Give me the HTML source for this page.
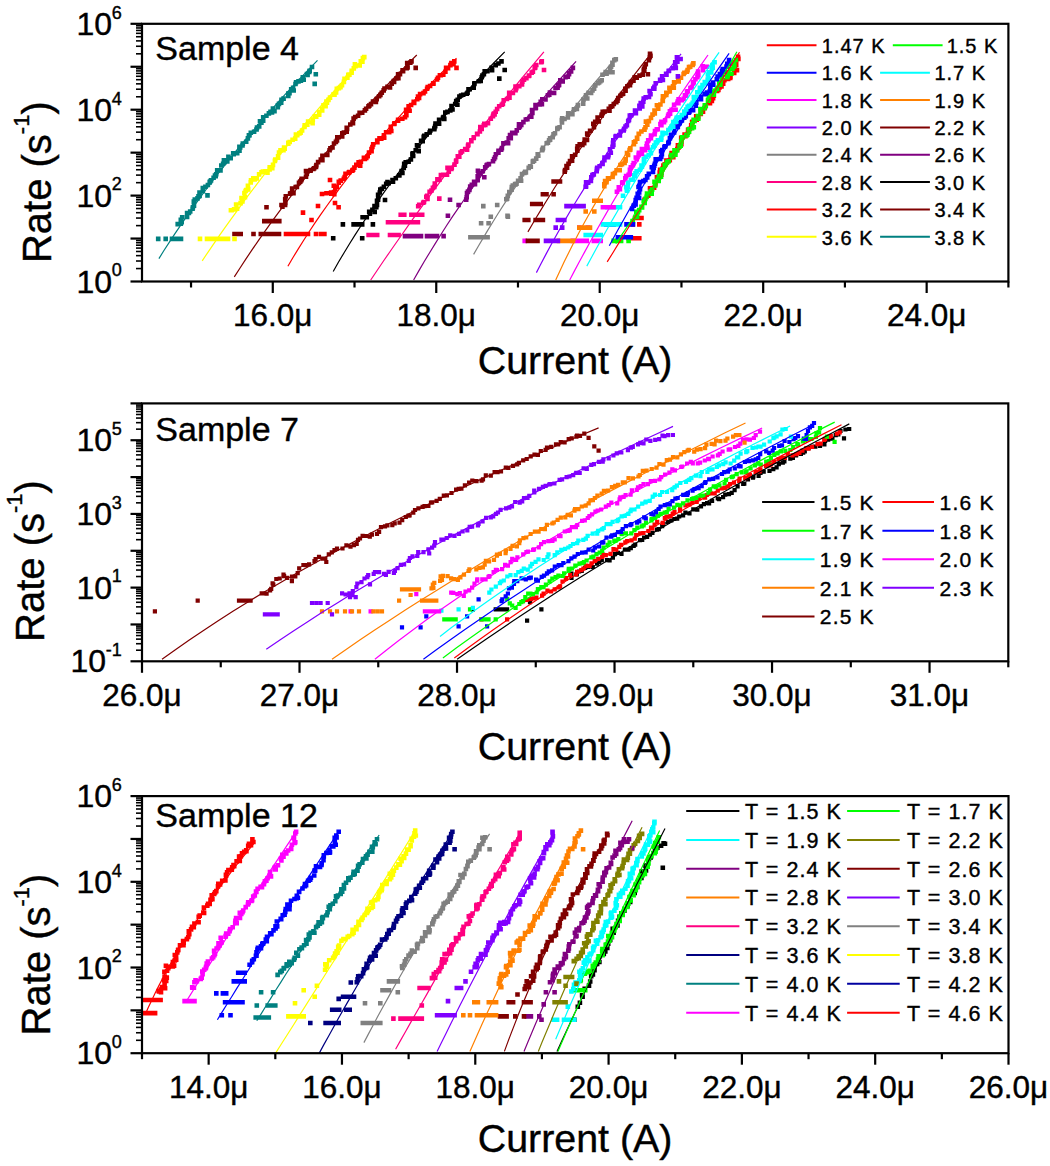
<!DOCTYPE html>
<html><head><meta charset="utf-8"><style>
html,body{margin:0;padding:0;background:#fff;overflow:hidden;}
svg{display:block;font-family:"Liberation Sans",sans-serif;}
text{stroke:#000;stroke-width:0.4px;}
</style></head><body>
<svg width="1050" height="1166" viewBox="0 0 1050 1166" font-family="Liberation Sans, sans-serif">
<defs><clipPath id="cp1"><rect x="142" y="23.8" width="866.4" height="257.7"/></clipPath><clipPath id="cp2"><rect x="142" y="403.4" width="866.3" height="257.9"/></clipPath><clipPath id="cp3"><rect x="142" y="796.1" width="866.5" height="257.1"/></clipPath></defs>
<g clip-path="url(#cp1)"><path d="M642.2 197.6h4.6v4.6h-4.6zM645.9 193.3h4.6v4.6h-4.6zM646.3 191.9h4.6v4.6h-4.6zM648.3 190.9h4.6v4.6h-4.6zM647.7 186.1h4.6v4.6h-4.6zM651.8 185.4h4.6v4.6h-4.6zM652.9 181.7h4.6v4.6h-4.6zM652.9 182.1h4.6v4.6h-4.6zM653.2 180.8h4.6v4.6h-4.6zM656.7 175.4h4.6v4.6h-4.6zM654.6 175.0h4.6v4.6h-4.6zM659.0 172.3h4.6v4.6h-4.6zM657.4 170.3h4.6v4.6h-4.6zM657.8 167.4h4.6v4.6h-4.6zM660.4 166.3h4.6v4.6h-4.6zM661.1 163.2h4.6v4.6h-4.6zM662.5 161.9h4.6v4.6h-4.6zM664.1 158.2h4.6v4.6h-4.6zM667.5 158.0h4.6v4.6h-4.6zM668.3 154.5h4.6v4.6h-4.6zM671.0 154.8h4.6v4.6h-4.6zM669.3 150.7h4.6v4.6h-4.6zM672.8 150.0h4.6v4.6h-4.6zM675.0 146.8h4.6v4.6h-4.6zM676.1 145.5h4.6v4.6h-4.6zM675.6 143.1h4.6v4.6h-4.6zM679.1 141.8h4.6v4.6h-4.6zM679.2 138.8h4.6v4.6h-4.6zM678.9 135.4h4.6v4.6h-4.6zM683.1 133.8h4.6v4.6h-4.6zM682.3 132.2h4.6v4.6h-4.6zM685.6 130.5h4.6v4.6h-4.6zM685.8 127.5h4.6v4.6h-4.6zM687.6 126.6h4.6v4.6h-4.6zM688.9 123.0h4.6v4.6h-4.6zM690.1 119.6h4.6v4.6h-4.6zM689.8 119.9h4.6v4.6h-4.6zM694.4 117.3h4.6v4.6h-4.6zM693.9 114.0h4.6v4.6h-4.6zM695.9 115.0h4.6v4.6h-4.6zM698.5 111.6h4.6v4.6h-4.6zM700.4 108.6h4.6v4.6h-4.6zM700.7 109.3h4.6v4.6h-4.6zM702.5 105.6h4.6v4.6h-4.6zM702.9 103.9h4.6v4.6h-4.6zM706.8 99.9h4.6v4.6h-4.6zM707.7 100.9h4.6v4.6h-4.6zM709.6 98.6h4.6v4.6h-4.6zM710.8 95.8h4.6v4.6h-4.6zM711.5 93.4h4.6v4.6h-4.6zM711.3 93.0h4.6v4.6h-4.6zM714.8 88.6h4.6v4.6h-4.6zM716.1 87.6h4.6v4.6h-4.6zM717.2 85.1h4.6v4.6h-4.6zM719.2 84.1h4.6v4.6h-4.6zM720.9 81.5h4.6v4.6h-4.6zM720.1 78.7h4.6v4.6h-4.6zM722.1 77.9h4.6v4.6h-4.6zM725.9 76.7h4.6v4.6h-4.6zM727.9 75.6h4.6v4.6h-4.6zM728.2 74.6h4.6v4.6h-4.6zM731.9 70.7h4.6v4.6h-4.6zM731.8 69.4h4.6v4.6h-4.6zM734.7 67.8h4.6v4.6h-4.6zM732.7 66.8h4.6v4.6h-4.6zM733.9 62.4h4.6v4.6h-4.6zM733.5 61.7h4.6v4.6h-4.6zM733.9 58.4h4.6v4.6h-4.6zM736.1 56.6h4.6v4.6h-4.6zM735.7 54.4h4.6v4.6h-4.6zM626.3 236.0h4.6v4.6h-4.6zM629.9 236.0h4.6v4.6h-4.6zM633.4 236.0h4.6v4.6h-4.6zM637.0 236.0h4.6v4.6h-4.6zM630.6 222.1h4.6v4.6h-4.6zM637.0 222.1h4.6v4.6h-4.6zM632.7 215.7h4.6v4.6h-4.6zM636.0 215.7h4.6v4.6h-4.6zM639.2 215.7h4.6v4.6h-4.6z" fill="#FF0000"/><path d="M630.3 218.8h4.6v4.6h-4.6zM630.5 219.2h4.6v4.6h-4.6zM633.2 214.6h4.6v4.6h-4.6zM634.8 214.6h4.6v4.6h-4.6zM634.0 209.6h4.6v4.6h-4.6zM635.7 210.0h4.6v4.6h-4.6zM636.9 207.8h4.6v4.6h-4.6zM639.8 205.1h4.6v4.6h-4.6zM639.2 204.5h4.6v4.6h-4.6zM642.4 200.7h4.6v4.6h-4.6zM641.4 199.0h4.6v4.6h-4.6zM643.1 196.6h4.6v4.6h-4.6zM644.3 194.6h4.6v4.6h-4.6zM644.7 191.3h4.6v4.6h-4.6zM649.4 191.3h4.6v4.6h-4.6zM648.5 189.1h4.6v4.6h-4.6zM649.9 187.2h4.6v4.6h-4.6zM652.9 183.2h4.6v4.6h-4.6zM652.2 179.6h4.6v4.6h-4.6zM655.5 177.5h4.6v4.6h-4.6zM656.4 178.7h4.6v4.6h-4.6zM656.6 173.7h4.6v4.6h-4.6zM658.7 174.5h4.6v4.6h-4.6zM659.2 170.6h4.6v4.6h-4.6zM659.5 167.9h4.6v4.6h-4.6zM660.3 166.9h4.6v4.6h-4.6zM662.5 163.0h4.6v4.6h-4.6zM662.7 162.6h4.6v4.6h-4.6zM664.8 159.8h4.6v4.6h-4.6zM666.4 159.0h4.6v4.6h-4.6zM669.9 153.8h4.6v4.6h-4.6zM668.8 152.8h4.6v4.6h-4.6zM673.1 152.3h4.6v4.6h-4.6zM672.2 148.1h4.6v4.6h-4.6zM674.8 148.2h4.6v4.6h-4.6zM677.2 144.3h4.6v4.6h-4.6zM678.4 143.4h4.6v4.6h-4.6zM678.4 142.3h4.6v4.6h-4.6zM678.9 139.3h4.6v4.6h-4.6zM679.8 135.1h4.6v4.6h-4.6zM684.2 133.1h4.6v4.6h-4.6zM685.1 132.4h4.6v4.6h-4.6zM686.8 129.4h4.6v4.6h-4.6zM686.5 127.0h4.6v4.6h-4.6zM689.8 126.0h4.6v4.6h-4.6zM691.5 124.9h4.6v4.6h-4.6zM690.0 121.5h4.6v4.6h-4.6zM691.3 117.5h4.6v4.6h-4.6zM692.3 118.6h4.6v4.6h-4.6zM696.0 116.5h4.6v4.6h-4.6zM695.6 113.8h4.6v4.6h-4.6zM698.3 111.0h4.6v4.6h-4.6zM698.7 108.6h4.6v4.6h-4.6zM698.1 106.8h4.6v4.6h-4.6zM702.1 105.9h4.6v4.6h-4.6zM703.5 103.7h4.6v4.6h-4.6zM702.5 103.0h4.6v4.6h-4.6zM705.7 98.4h4.6v4.6h-4.6zM706.5 96.8h4.6v4.6h-4.6zM705.7 97.8h4.6v4.6h-4.6zM706.8 93.6h4.6v4.6h-4.6zM711.5 92.4h4.6v4.6h-4.6zM709.7 89.6h4.6v4.6h-4.6zM711.5 89.7h4.6v4.6h-4.6zM712.4 88.4h4.6v4.6h-4.6zM714.7 86.7h4.6v4.6h-4.6zM718.0 82.4h4.6v4.6h-4.6zM717.0 81.1h4.6v4.6h-4.6zM718.2 79.8h4.6v4.6h-4.6zM719.8 75.6h4.6v4.6h-4.6zM725.0 74.8h4.6v4.6h-4.6zM725.4 73.4h4.6v4.6h-4.6zM726.1 70.1h4.6v4.6h-4.6zM729.1 71.4h4.6v4.6h-4.6zM730.2 66.4h4.6v4.6h-4.6zM728.3 66.3h4.6v4.6h-4.6zM731.9 64.1h4.6v4.6h-4.6zM732.0 62.4h4.6v4.6h-4.6zM731.5 59.9h4.6v4.6h-4.6zM733.5 57.7h4.6v4.6h-4.6zM611.3 238.6h4.6v4.6h-4.6zM615.1 238.6h4.6v4.6h-4.6zM618.8 238.6h4.6v4.6h-4.6zM626.3 238.6h4.6v4.6h-4.6z" fill="#00FF00"/><path d="M629.8 206.6h4.6v4.6h-4.6zM631.5 203.3h4.6v4.6h-4.6zM633.3 202.2h4.6v4.6h-4.6zM633.4 197.8h4.6v4.6h-4.6zM634.3 195.6h4.6v4.6h-4.6zM636.8 195.6h4.6v4.6h-4.6zM635.4 191.4h4.6v4.6h-4.6zM636.9 190.2h4.6v4.6h-4.6zM637.7 186.8h4.6v4.6h-4.6zM636.2 184.7h4.6v4.6h-4.6zM637.0 183.6h4.6v4.6h-4.6zM637.7 179.8h4.6v4.6h-4.6zM641.1 178.8h4.6v4.6h-4.6zM643.1 177.7h4.6v4.6h-4.6zM644.8 174.7h4.6v4.6h-4.6zM644.9 175.2h4.6v4.6h-4.6zM644.8 174.0h4.6v4.6h-4.6zM646.5 171.6h4.6v4.6h-4.6zM650.7 169.6h4.6v4.6h-4.6zM649.5 164.9h4.6v4.6h-4.6zM651.4 165.7h4.6v4.6h-4.6zM651.9 163.4h4.6v4.6h-4.6zM652.6 161.4h4.6v4.6h-4.6zM653.4 157.1h4.6v4.6h-4.6zM657.8 156.7h4.6v4.6h-4.6zM659.0 154.7h4.6v4.6h-4.6zM659.6 152.0h4.6v4.6h-4.6zM658.8 148.9h4.6v4.6h-4.6zM660.0 147.8h4.6v4.6h-4.6zM663.0 144.0h4.6v4.6h-4.6zM662.1 144.4h4.6v4.6h-4.6zM666.0 140.8h4.6v4.6h-4.6zM666.5 139.7h4.6v4.6h-4.6zM667.6 135.9h4.6v4.6h-4.6zM668.6 133.3h4.6v4.6h-4.6zM668.9 132.5h4.6v4.6h-4.6zM671.8 130.1h4.6v4.6h-4.6zM671.9 127.2h4.6v4.6h-4.6zM673.6 124.2h4.6v4.6h-4.6zM675.5 124.6h4.6v4.6h-4.6zM677.4 120.9h4.6v4.6h-4.6zM679.6 118.2h4.6v4.6h-4.6zM678.8 117.1h4.6v4.6h-4.6zM682.0 115.4h4.6v4.6h-4.6zM683.5 113.9h4.6v4.6h-4.6zM686.3 110.5h4.6v4.6h-4.6zM687.1 109.7h4.6v4.6h-4.6zM687.9 107.7h4.6v4.6h-4.6zM690.8 107.8h4.6v4.6h-4.6zM693.5 103.4h4.6v4.6h-4.6zM694.0 100.4h4.6v4.6h-4.6zM693.3 99.9h4.6v4.6h-4.6zM697.6 96.5h4.6v4.6h-4.6zM698.7 97.0h4.6v4.6h-4.6zM698.7 94.6h4.6v4.6h-4.6zM702.3 91.8h4.6v4.6h-4.6zM703.4 91.5h4.6v4.6h-4.6zM704.7 90.3h4.6v4.6h-4.6zM707.5 89.0h4.6v4.6h-4.6zM708.0 84.5h4.6v4.6h-4.6zM708.3 82.6h4.6v4.6h-4.6zM711.0 82.5h4.6v4.6h-4.6zM710.6 80.2h4.6v4.6h-4.6zM714.5 77.0h4.6v4.6h-4.6zM715.3 74.2h4.6v4.6h-4.6zM717.6 71.7h4.6v4.6h-4.6zM719.8 72.6h4.6v4.6h-4.6zM719.7 68.7h4.6v4.6h-4.6zM722.0 69.3h4.6v4.6h-4.6zM720.4 66.7h4.6v4.6h-4.6zM724.2 64.3h4.6v4.6h-4.6zM725.0 61.5h4.6v4.6h-4.6zM727.1 61.4h4.6v4.6h-4.6zM726.8 57.7h4.6v4.6h-4.6zM603.8 222.1h4.6v4.6h-4.6zM607.6 222.1h4.6v4.6h-4.6zM611.3 222.1h4.6v4.6h-4.6zM615.6 234.9h4.6v4.6h-4.6zM618.8 234.9h4.6v4.6h-4.6zM622.0 234.9h4.6v4.6h-4.6zM625.3 234.9h4.6v4.6h-4.6zM628.5 234.9h4.6v4.6h-4.6zM624.2 222.1h4.6v4.6h-4.6zM627.4 222.1h4.6v4.6h-4.6zM630.6 222.1h4.6v4.6h-4.6z" fill="#0000FF"/><path d="M620.7 193.5h4.6v4.6h-4.6zM624.7 188.5h4.6v4.6h-4.6zM624.5 187.4h4.6v4.6h-4.6zM623.9 184.9h4.6v4.6h-4.6zM625.4 184.4h4.6v4.6h-4.6zM625.8 180.2h4.6v4.6h-4.6zM628.6 177.5h4.6v4.6h-4.6zM630.6 177.4h4.6v4.6h-4.6zM632.6 173.8h4.6v4.6h-4.6zM631.9 172.9h4.6v4.6h-4.6zM633.2 170.9h4.6v4.6h-4.6zM634.4 169.1h4.6v4.6h-4.6zM637.6 167.4h4.6v4.6h-4.6zM639.6 164.3h4.6v4.6h-4.6zM639.2 163.3h4.6v4.6h-4.6zM641.6 160.1h4.6v4.6h-4.6zM641.6 157.0h4.6v4.6h-4.6zM642.0 156.7h4.6v4.6h-4.6zM643.5 154.4h4.6v4.6h-4.6zM646.4 153.0h4.6v4.6h-4.6zM648.6 150.9h4.6v4.6h-4.6zM647.8 147.4h4.6v4.6h-4.6zM650.8 144.9h4.6v4.6h-4.6zM652.0 143.3h4.6v4.6h-4.6zM653.5 140.2h4.6v4.6h-4.6zM654.7 140.0h4.6v4.6h-4.6zM655.6 138.0h4.6v4.6h-4.6zM658.8 137.3h4.6v4.6h-4.6zM659.1 135.4h4.6v4.6h-4.6zM660.2 132.0h4.6v4.6h-4.6zM660.2 130.5h4.6v4.6h-4.6zM663.8 130.9h4.6v4.6h-4.6zM666.1 127.7h4.6v4.6h-4.6zM668.4 125.9h4.6v4.6h-4.6zM669.5 124.0h4.6v4.6h-4.6zM670.9 124.4h4.6v4.6h-4.6zM671.1 119.7h4.6v4.6h-4.6zM673.9 119.3h4.6v4.6h-4.6zM674.4 115.6h4.6v4.6h-4.6zM675.9 115.3h4.6v4.6h-4.6zM677.4 115.1h4.6v4.6h-4.6zM679.5 112.8h4.6v4.6h-4.6zM682.0 111.1h4.6v4.6h-4.6zM682.0 109.3h4.6v4.6h-4.6zM683.9 107.2h4.6v4.6h-4.6zM685.3 104.5h4.6v4.6h-4.6zM686.8 103.5h4.6v4.6h-4.6zM689.3 102.3h4.6v4.6h-4.6zM690.4 100.4h4.6v4.6h-4.6zM691.7 98.1h4.6v4.6h-4.6zM691.5 94.7h4.6v4.6h-4.6zM694.2 94.8h4.6v4.6h-4.6zM695.0 90.0h4.6v4.6h-4.6zM697.5 89.1h4.6v4.6h-4.6zM697.6 85.4h4.6v4.6h-4.6zM699.1 86.0h4.6v4.6h-4.6zM700.2 82.8h4.6v4.6h-4.6zM702.5 79.7h4.6v4.6h-4.6zM703.3 81.2h4.6v4.6h-4.6zM705.4 77.3h4.6v4.6h-4.6zM706.3 75.9h4.6v4.6h-4.6zM705.6 72.2h4.6v4.6h-4.6zM708.9 70.2h4.6v4.6h-4.6zM707.0 70.0h4.6v4.6h-4.6zM709.5 66.2h4.6v4.6h-4.6zM710.4 65.3h4.6v4.6h-4.6zM710.2 62.8h4.6v4.6h-4.6zM712.3 60.0h4.6v4.6h-4.6zM583.4 232.7h4.6v4.6h-4.6zM587.2 232.7h4.6v4.6h-4.6zM590.9 232.7h4.6v4.6h-4.6zM594.7 232.7h4.6v4.6h-4.6zM598.4 232.7h4.6v4.6h-4.6zM600.6 222.1h4.6v4.6h-4.6zM604.0 222.1h4.6v4.6h-4.6zM607.4 222.1h4.6v4.6h-4.6zM610.9 222.1h4.6v4.6h-4.6zM614.3 222.1h4.6v4.6h-4.6zM617.7 222.1h4.6v4.6h-4.6zM604.9 204.9h4.6v4.6h-4.6zM608.1 204.9h4.6v4.6h-4.6zM611.3 204.9h4.6v4.6h-4.6zM614.5 204.9h4.6v4.6h-4.6zM617.7 204.9h4.6v4.6h-4.6z" fill="#00FFFF"/><path d="M614.6 189.4h4.6v4.6h-4.6zM617.6 186.8h4.6v4.6h-4.6zM616.5 184.9h4.6v4.6h-4.6zM619.9 180.6h4.6v4.6h-4.6zM620.5 180.1h4.6v4.6h-4.6zM623.0 175.9h4.6v4.6h-4.6zM623.8 173.7h4.6v4.6h-4.6zM626.3 172.5h4.6v4.6h-4.6zM627.4 171.4h4.6v4.6h-4.6zM627.6 167.6h4.6v4.6h-4.6zM628.6 165.0h4.6v4.6h-4.6zM628.5 164.9h4.6v4.6h-4.6zM630.6 162.9h4.6v4.6h-4.6zM631.4 160.7h4.6v4.6h-4.6zM634.4 157.0h4.6v4.6h-4.6zM633.5 155.2h4.6v4.6h-4.6zM636.3 152.4h4.6v4.6h-4.6zM636.6 150.4h4.6v4.6h-4.6zM639.6 151.6h4.6v4.6h-4.6zM639.6 146.8h4.6v4.6h-4.6zM642.8 147.8h4.6v4.6h-4.6zM645.2 145.3h4.6v4.6h-4.6zM644.2 144.0h4.6v4.6h-4.6zM644.7 141.3h4.6v4.6h-4.6zM645.9 138.1h4.6v4.6h-4.6zM648.6 135.9h4.6v4.6h-4.6zM648.7 133.2h4.6v4.6h-4.6zM652.3 131.9h4.6v4.6h-4.6zM652.7 128.8h4.6v4.6h-4.6zM654.5 127.1h4.6v4.6h-4.6zM655.4 127.0h4.6v4.6h-4.6zM658.1 121.8h4.6v4.6h-4.6zM659.1 123.0h4.6v4.6h-4.6zM659.1 119.6h4.6v4.6h-4.6zM661.7 119.8h4.6v4.6h-4.6zM662.8 118.0h4.6v4.6h-4.6zM665.8 113.6h4.6v4.6h-4.6zM667.8 111.4h4.6v4.6h-4.6zM666.5 111.9h4.6v4.6h-4.6zM667.6 109.1h4.6v4.6h-4.6zM669.3 107.6h4.6v4.6h-4.6zM673.3 107.4h4.6v4.6h-4.6zM671.8 102.6h4.6v4.6h-4.6zM676.1 100.8h4.6v4.6h-4.6zM675.5 99.2h4.6v4.6h-4.6zM676.3 97.1h4.6v4.6h-4.6zM679.7 97.9h4.6v4.6h-4.6zM681.3 96.4h4.6v4.6h-4.6zM682.6 93.0h4.6v4.6h-4.6zM683.9 93.3h4.6v4.6h-4.6zM685.4 88.9h4.6v4.6h-4.6zM684.7 89.6h4.6v4.6h-4.6zM688.1 85.7h4.6v4.6h-4.6zM689.5 84.7h4.6v4.6h-4.6zM690.7 81.1h4.6v4.6h-4.6zM691.0 80.2h4.6v4.6h-4.6zM691.4 79.8h4.6v4.6h-4.6zM693.1 76.9h4.6v4.6h-4.6zM695.1 75.0h4.6v4.6h-4.6zM696.0 72.9h4.6v4.6h-4.6zM695.3 71.6h4.6v4.6h-4.6zM695.8 69.2h4.6v4.6h-4.6zM700.8 67.9h4.6v4.6h-4.6zM700.4 64.1h4.6v4.6h-4.6zM704.5 64.5h4.6v4.6h-4.6zM522.4 238.6h4.6v4.6h-4.6zM570.6 238.6h4.6v4.6h-4.6zM574.1 238.6h4.6v4.6h-4.6zM577.6 238.6h4.6v4.6h-4.6zM581.0 238.6h4.6v4.6h-4.6zM584.5 238.6h4.6v4.6h-4.6zM591.5 238.6h4.6v4.6h-4.6zM594.9 238.6h4.6v4.6h-4.6zM598.4 238.6h4.6v4.6h-4.6zM577.0 225.3h4.6v4.6h-4.6zM585.6 225.3h4.6v4.6h-4.6zM600.6 204.9h4.6v4.6h-4.6zM604.2 204.9h4.6v4.6h-4.6zM607.7 204.9h4.6v4.6h-4.6zM611.3 204.9h4.6v4.6h-4.6z" fill="#FF00FF"/><path d="M602.0 183.9h4.6v4.6h-4.6zM602.0 182.0h4.6v4.6h-4.6zM604.2 179.8h4.6v4.6h-4.6zM602.8 178.8h4.6v4.6h-4.6zM606.6 176.4h4.6v4.6h-4.6zM605.7 176.0h4.6v4.6h-4.6zM610.3 174.7h4.6v4.6h-4.6zM610.6 171.8h4.6v4.6h-4.6zM612.6 170.8h4.6v4.6h-4.6zM614.3 167.9h4.6v4.6h-4.6zM617.4 167.9h4.6v4.6h-4.6zM618.1 162.7h4.6v4.6h-4.6zM619.7 161.8h4.6v4.6h-4.6zM622.3 160.6h4.6v4.6h-4.6zM623.2 158.4h4.6v4.6h-4.6zM623.4 157.0h4.6v4.6h-4.6zM625.8 152.7h4.6v4.6h-4.6zM624.7 150.8h4.6v4.6h-4.6zM627.3 147.7h4.6v4.6h-4.6zM627.9 147.3h4.6v4.6h-4.6zM628.1 146.0h4.6v4.6h-4.6zM631.6 142.0h4.6v4.6h-4.6zM631.6 140.0h4.6v4.6h-4.6zM633.0 139.3h4.6v4.6h-4.6zM634.9 136.4h4.6v4.6h-4.6zM634.7 135.6h4.6v4.6h-4.6zM636.4 131.4h4.6v4.6h-4.6zM636.6 131.6h4.6v4.6h-4.6zM639.1 129.2h4.6v4.6h-4.6zM642.2 127.3h4.6v4.6h-4.6zM643.2 125.0h4.6v4.6h-4.6zM645.0 122.4h4.6v4.6h-4.6zM643.6 119.3h4.6v4.6h-4.6zM646.6 118.8h4.6v4.6h-4.6zM648.7 115.6h4.6v4.6h-4.6zM650.2 112.3h4.6v4.6h-4.6zM652.5 111.1h4.6v4.6h-4.6zM652.2 108.3h4.6v4.6h-4.6zM655.9 106.4h4.6v4.6h-4.6zM654.6 102.9h4.6v4.6h-4.6zM658.1 102.2h4.6v4.6h-4.6zM660.5 98.7h4.6v4.6h-4.6zM660.3 98.5h4.6v4.6h-4.6zM660.6 94.1h4.6v4.6h-4.6zM664.0 92.6h4.6v4.6h-4.6zM664.0 90.4h4.6v4.6h-4.6zM667.5 89.2h4.6v4.6h-4.6zM667.1 85.4h4.6v4.6h-4.6zM671.5 85.4h4.6v4.6h-4.6zM670.7 84.0h4.6v4.6h-4.6zM671.8 80.1h4.6v4.6h-4.6zM676.4 79.2h4.6v4.6h-4.6zM675.9 77.7h4.6v4.6h-4.6zM678.7 75.5h4.6v4.6h-4.6zM681.3 71.7h4.6v4.6h-4.6zM682.1 70.4h4.6v4.6h-4.6zM684.6 69.5h4.6v4.6h-4.6zM685.3 67.8h4.6v4.6h-4.6zM687.9 64.4h4.6v4.6h-4.6zM686.7 64.8h4.6v4.6h-4.6zM690.4 62.6h4.6v4.6h-4.6zM691.1 61.1h4.6v4.6h-4.6zM556.7 238.6h4.6v4.6h-4.6zM560.2 238.6h4.6v4.6h-4.6zM563.7 238.6h4.6v4.6h-4.6zM567.1 238.6h4.6v4.6h-4.6zM570.6 238.6h4.6v4.6h-4.6zM577.0 225.3h4.6v4.6h-4.6zM580.6 225.3h4.6v4.6h-4.6zM584.1 225.3h4.6v4.6h-4.6zM587.7 225.3h4.6v4.6h-4.6zM583.4 209.2h4.6v4.6h-4.6zM592.0 209.2h4.6v4.6h-4.6zM592.0 198.5h4.6v4.6h-4.6zM595.2 198.5h4.6v4.6h-4.6zM598.4 198.5h4.6v4.6h-4.6z" fill="#FF8000"/><path d="M583.3 184.5h4.6v4.6h-4.6zM583.8 184.1h4.6v4.6h-4.6zM583.8 179.9h4.6v4.6h-4.6zM585.9 180.5h4.6v4.6h-4.6zM588.6 178.7h4.6v4.6h-4.6zM589.0 175.1h4.6v4.6h-4.6zM590.1 172.8h4.6v4.6h-4.6zM591.5 172.1h4.6v4.6h-4.6zM594.4 168.8h4.6v4.6h-4.6zM594.6 166.7h4.6v4.6h-4.6zM594.9 165.6h4.6v4.6h-4.6zM597.3 164.0h4.6v4.6h-4.6zM600.1 160.8h4.6v4.6h-4.6zM600.3 161.6h4.6v4.6h-4.6zM602.1 158.0h4.6v4.6h-4.6zM602.2 155.2h4.6v4.6h-4.6zM605.7 154.9h4.6v4.6h-4.6zM606.2 152.8h4.6v4.6h-4.6zM608.5 150.4h4.6v4.6h-4.6zM607.7 146.9h4.6v4.6h-4.6zM610.2 144.4h4.6v4.6h-4.6zM611.1 142.7h4.6v4.6h-4.6zM610.7 140.4h4.6v4.6h-4.6zM611.0 137.9h4.6v4.6h-4.6zM613.2 134.6h4.6v4.6h-4.6zM613.7 133.7h4.6v4.6h-4.6zM617.6 133.1h4.6v4.6h-4.6zM617.0 132.7h4.6v4.6h-4.6zM618.3 129.2h4.6v4.6h-4.6zM621.4 128.1h4.6v4.6h-4.6zM621.8 126.6h4.6v4.6h-4.6zM623.2 124.2h4.6v4.6h-4.6zM624.6 123.0h4.6v4.6h-4.6zM626.7 117.7h4.6v4.6h-4.6zM625.9 118.7h4.6v4.6h-4.6zM627.5 113.2h4.6v4.6h-4.6zM629.0 113.0h4.6v4.6h-4.6zM633.0 111.0h4.6v4.6h-4.6zM633.6 110.8h4.6v4.6h-4.6zM632.7 108.2h4.6v4.6h-4.6zM637.4 106.2h4.6v4.6h-4.6zM637.1 103.6h4.6v4.6h-4.6zM640.0 104.1h4.6v4.6h-4.6zM638.4 100.8h4.6v4.6h-4.6zM641.0 99.4h4.6v4.6h-4.6zM641.4 96.2h4.6v4.6h-4.6zM643.4 95.1h4.6v4.6h-4.6zM646.7 94.7h4.6v4.6h-4.6zM648.2 91.9h4.6v4.6h-4.6zM647.3 88.8h4.6v4.6h-4.6zM651.0 86.3h4.6v4.6h-4.6zM652.0 86.4h4.6v4.6h-4.6zM652.1 84.4h4.6v4.6h-4.6zM653.4 80.9h4.6v4.6h-4.6zM657.8 78.4h4.6v4.6h-4.6zM657.8 77.4h4.6v4.6h-4.6zM660.6 77.7h4.6v4.6h-4.6zM659.8 74.1h4.6v4.6h-4.6zM664.2 72.5h4.6v4.6h-4.6zM663.8 71.5h4.6v4.6h-4.6zM666.4 68.7h4.6v4.6h-4.6zM666.7 68.4h4.6v4.6h-4.6zM670.4 66.0h4.6v4.6h-4.6zM673.0 61.5h4.6v4.6h-4.6zM672.9 60.0h4.6v4.6h-4.6zM675.1 59.3h4.6v4.6h-4.6zM674.6 55.1h4.6v4.6h-4.6zM678.3 56.7h4.6v4.6h-4.6zM673.5 65.6h4.6v4.6h-4.6zM675.6 74.1h4.6v4.6h-4.6zM543.7 238.6h4.6v4.6h-4.6zM547.7 238.6h4.6v4.6h-4.6zM551.6 238.6h4.6v4.6h-4.6zM555.6 238.6h4.6v4.6h-4.6zM553.4 225.3h4.6v4.6h-4.6zM559.9 225.3h4.6v4.6h-4.6zM555.6 217.7h4.6v4.6h-4.6zM558.8 217.7h4.6v4.6h-4.6zM562.0 217.7h4.6v4.6h-4.6zM564.2 203.8h4.6v4.6h-4.6zM567.6 203.8h4.6v4.6h-4.6zM571.0 203.8h4.6v4.6h-4.6zM574.5 203.8h4.6v4.6h-4.6zM577.9 203.8h4.6v4.6h-4.6zM581.3 203.8h4.6v4.6h-4.6z" fill="#8000FF"/><path d="M562.4 169.3h4.6v4.6h-4.6zM562.8 167.7h4.6v4.6h-4.6zM564.8 165.5h4.6v4.6h-4.6zM564.2 163.7h4.6v4.6h-4.6zM566.2 161.4h4.6v4.6h-4.6zM567.7 158.7h4.6v4.6h-4.6zM569.8 158.4h4.6v4.6h-4.6zM569.8 154.0h4.6v4.6h-4.6zM570.4 154.1h4.6v4.6h-4.6zM572.8 152.4h4.6v4.6h-4.6zM575.0 148.5h4.6v4.6h-4.6zM574.9 146.4h4.6v4.6h-4.6zM575.3 144.0h4.6v4.6h-4.6zM577.4 142.1h4.6v4.6h-4.6zM580.1 142.6h4.6v4.6h-4.6zM581.9 140.8h4.6v4.6h-4.6zM582.4 137.3h4.6v4.6h-4.6zM584.7 137.7h4.6v4.6h-4.6zM585.3 132.3h4.6v4.6h-4.6zM584.9 131.3h4.6v4.6h-4.6zM588.1 128.4h4.6v4.6h-4.6zM587.8 128.4h4.6v4.6h-4.6zM591.6 125.0h4.6v4.6h-4.6zM591.7 123.9h4.6v4.6h-4.6zM591.0 121.4h4.6v4.6h-4.6zM592.9 119.4h4.6v4.6h-4.6zM596.5 119.1h4.6v4.6h-4.6zM595.3 115.2h4.6v4.6h-4.6zM599.2 113.5h4.6v4.6h-4.6zM599.5 112.3h4.6v4.6h-4.6zM600.4 109.6h4.6v4.6h-4.6zM602.5 109.2h4.6v4.6h-4.6zM607.2 108.3h4.6v4.6h-4.6zM606.5 106.6h4.6v4.6h-4.6zM608.4 104.3h4.6v4.6h-4.6zM610.0 104.0h4.6v4.6h-4.6zM611.5 101.7h4.6v4.6h-4.6zM614.0 100.0h4.6v4.6h-4.6zM615.2 98.3h4.6v4.6h-4.6zM615.9 95.8h4.6v4.6h-4.6zM618.1 93.5h4.6v4.6h-4.6zM619.7 91.8h4.6v4.6h-4.6zM620.8 91.4h4.6v4.6h-4.6zM623.3 88.5h4.6v4.6h-4.6zM623.0 86.6h4.6v4.6h-4.6zM625.1 83.9h4.6v4.6h-4.6zM627.7 82.9h4.6v4.6h-4.6zM628.6 79.8h4.6v4.6h-4.6zM631.2 78.4h4.6v4.6h-4.6zM632.4 74.9h4.6v4.6h-4.6zM634.4 75.3h4.6v4.6h-4.6zM637.2 73.3h4.6v4.6h-4.6zM640.4 72.3h4.6v4.6h-4.6zM642.0 68.2h4.6v4.6h-4.6zM641.4 68.3h4.6v4.6h-4.6zM641.7 66.8h4.6v4.6h-4.6zM642.4 64.4h4.6v4.6h-4.6zM643.5 62.0h4.6v4.6h-4.6zM646.6 57.9h4.6v4.6h-4.6zM647.5 55.0h4.6v4.6h-4.6zM648.2 53.5h4.6v4.6h-4.6zM647.7 51.6h4.6v4.6h-4.6zM645.6 72.0h4.6v4.6h-4.6zM522.4 217.7h4.6v4.6h-4.6zM526.0 217.7h4.6v4.6h-4.6zM533.3 217.7h4.6v4.6h-4.6zM537.0 217.7h4.6v4.6h-4.6zM540.6 217.7h4.6v4.6h-4.6zM529.9 201.7h4.6v4.6h-4.6zM534.2 201.7h4.6v4.6h-4.6zM538.4 201.7h4.6v4.6h-4.6zM551.3 179.2h4.6v4.6h-4.6zM554.5 179.2h4.6v4.6h-4.6zM557.7 179.2h4.6v4.6h-4.6zM540.6 192.0h4.6v4.6h-4.6zM544.2 192.0h4.6v4.6h-4.6zM551.3 192.0h4.6v4.6h-4.6zM525.6 238.6h4.6v4.6h-4.6zM528.8 238.6h4.6v4.6h-4.6zM532.0 238.6h4.6v4.6h-4.6zM535.2 238.6h4.6v4.6h-4.6z" fill="#800000"/><path d="M504.0 197.0h4.6v4.6h-4.6zM504.8 196.4h4.6v4.6h-4.6zM505.5 193.6h4.6v4.6h-4.6zM507.0 189.8h4.6v4.6h-4.6zM509.3 187.4h4.6v4.6h-4.6zM509.5 184.7h4.6v4.6h-4.6zM510.5 183.2h4.6v4.6h-4.6zM512.8 181.7h4.6v4.6h-4.6zM513.2 182.1h4.6v4.6h-4.6zM514.2 181.4h4.6v4.6h-4.6zM515.8 178.4h4.6v4.6h-4.6zM518.8 178.5h4.6v4.6h-4.6zM518.3 175.9h4.6v4.6h-4.6zM519.7 171.8h4.6v4.6h-4.6zM522.1 170.7h4.6v4.6h-4.6zM523.6 170.1h4.6v4.6h-4.6zM522.9 169.4h4.6v4.6h-4.6zM526.4 165.6h4.6v4.6h-4.6zM527.8 164.0h4.6v4.6h-4.6zM528.5 164.5h4.6v4.6h-4.6zM530.5 159.4h4.6v4.6h-4.6zM530.8 158.7h4.6v4.6h-4.6zM531.8 158.5h4.6v4.6h-4.6zM533.9 156.3h4.6v4.6h-4.6zM536.0 153.5h4.6v4.6h-4.6zM535.4 151.9h4.6v4.6h-4.6zM539.8 148.0h4.6v4.6h-4.6zM540.3 147.0h4.6v4.6h-4.6zM540.7 145.6h4.6v4.6h-4.6zM544.4 141.0h4.6v4.6h-4.6zM545.6 140.5h4.6v4.6h-4.6zM546.8 138.0h4.6v4.6h-4.6zM547.8 135.9h4.6v4.6h-4.6zM547.8 137.3h4.6v4.6h-4.6zM550.4 134.8h4.6v4.6h-4.6zM551.2 131.9h4.6v4.6h-4.6zM552.7 130.9h4.6v4.6h-4.6zM555.0 126.6h4.6v4.6h-4.6zM555.4 125.8h4.6v4.6h-4.6zM557.3 125.0h4.6v4.6h-4.6zM559.7 120.1h4.6v4.6h-4.6zM559.5 117.8h4.6v4.6h-4.6zM559.9 115.9h4.6v4.6h-4.6zM562.2 116.7h4.6v4.6h-4.6zM565.6 115.1h4.6v4.6h-4.6zM565.9 111.1h4.6v4.6h-4.6zM570.1 111.8h4.6v4.6h-4.6zM571.8 107.1h4.6v4.6h-4.6zM571.6 107.5h4.6v4.6h-4.6zM574.6 106.7h4.6v4.6h-4.6zM575.7 103.1h4.6v4.6h-4.6zM575.6 102.8h4.6v4.6h-4.6zM580.9 101.4h4.6v4.6h-4.6zM581.2 97.5h4.6v4.6h-4.6zM581.1 97.3h4.6v4.6h-4.6zM585.0 96.2h4.6v4.6h-4.6zM583.7 93.0h4.6v4.6h-4.6zM586.3 90.6h4.6v4.6h-4.6zM588.8 90.7h4.6v4.6h-4.6zM590.2 88.1h4.6v4.6h-4.6zM591.8 86.3h4.6v4.6h-4.6zM593.0 83.1h4.6v4.6h-4.6zM595.6 80.9h4.6v4.6h-4.6zM596.8 80.2h4.6v4.6h-4.6zM598.1 79.0h4.6v4.6h-4.6zM599.4 78.0h4.6v4.6h-4.6zM600.2 72.4h4.6v4.6h-4.6zM604.3 71.3h4.6v4.6h-4.6zM603.4 69.8h4.6v4.6h-4.6zM606.0 70.0h4.6v4.6h-4.6zM607.9 65.8h4.6v4.6h-4.6zM608.8 64.4h4.6v4.6h-4.6zM610.2 62.4h4.6v4.6h-4.6zM610.1 60.4h4.6v4.6h-4.6zM612.0 57.8h4.6v4.6h-4.6zM613.5 57.0h4.6v4.6h-4.6zM481.0 203.8h4.6v4.6h-4.6zM478.8 221.0h4.6v4.6h-4.6zM486.3 221.0h4.6v4.6h-4.6zM488.5 214.5h4.6v4.6h-4.6zM494.9 202.7h4.6v4.6h-4.6zM505.6 214.5h4.6v4.6h-4.6zM505.2 213.5h4.6v4.6h-4.6zM610.2 69.9h4.6v4.6h-4.6zM468.1 234.9h4.6v4.6h-4.6zM471.5 234.9h4.6v4.6h-4.6zM475.0 234.9h4.6v4.6h-4.6zM478.4 234.9h4.6v4.6h-4.6zM481.9 234.9h4.6v4.6h-4.6zM485.3 234.9h4.6v4.6h-4.6z" fill="#808080"/><path d="M463.9 197.3h4.6v4.6h-4.6zM464.4 195.0h4.6v4.6h-4.6zM464.7 190.7h4.6v4.6h-4.6zM465.7 189.3h4.6v4.6h-4.6zM467.1 187.6h4.6v4.6h-4.6zM467.9 184.3h4.6v4.6h-4.6zM469.5 182.5h4.6v4.6h-4.6zM472.7 181.8h4.6v4.6h-4.6zM471.8 179.4h4.6v4.6h-4.6zM475.4 177.9h4.6v4.6h-4.6zM475.5 175.3h4.6v4.6h-4.6zM475.4 174.1h4.6v4.6h-4.6zM476.2 172.7h4.6v4.6h-4.6zM477.7 170.8h4.6v4.6h-4.6zM480.5 168.9h4.6v4.6h-4.6zM482.9 165.1h4.6v4.6h-4.6zM484.3 163.2h4.6v4.6h-4.6zM484.8 162.5h4.6v4.6h-4.6zM486.6 161.8h4.6v4.6h-4.6zM490.7 158.9h4.6v4.6h-4.6zM491.8 156.7h4.6v4.6h-4.6zM492.8 155.0h4.6v4.6h-4.6zM493.6 152.0h4.6v4.6h-4.6zM496.1 150.3h4.6v4.6h-4.6zM496.2 148.4h4.6v4.6h-4.6zM498.9 147.4h4.6v4.6h-4.6zM499.6 145.8h4.6v4.6h-4.6zM501.1 141.1h4.6v4.6h-4.6zM504.5 140.3h4.6v4.6h-4.6zM505.8 140.8h4.6v4.6h-4.6zM506.4 135.9h4.6v4.6h-4.6zM508.5 136.0h4.6v4.6h-4.6zM507.7 132.7h4.6v4.6h-4.6zM509.9 130.6h4.6v4.6h-4.6zM513.1 131.0h4.6v4.6h-4.6zM514.5 128.1h4.6v4.6h-4.6zM516.6 125.5h4.6v4.6h-4.6zM517.6 124.2h4.6v4.6h-4.6zM516.7 122.0h4.6v4.6h-4.6zM519.0 122.6h4.6v4.6h-4.6zM521.1 119.8h4.6v4.6h-4.6zM523.5 117.2h4.6v4.6h-4.6zM525.1 116.9h4.6v4.6h-4.6zM527.7 114.5h4.6v4.6h-4.6zM529.0 114.4h4.6v4.6h-4.6zM530.1 110.6h4.6v4.6h-4.6zM529.7 107.7h4.6v4.6h-4.6zM533.2 106.0h4.6v4.6h-4.6zM533.6 105.4h4.6v4.6h-4.6zM533.2 102.8h4.6v4.6h-4.6zM537.5 102.1h4.6v4.6h-4.6zM539.6 101.9h4.6v4.6h-4.6zM538.4 99.4h4.6v4.6h-4.6zM540.0 96.9h4.6v4.6h-4.6zM543.2 97.2h4.6v4.6h-4.6zM545.6 92.9h4.6v4.6h-4.6zM547.0 92.5h4.6v4.6h-4.6zM547.6 90.2h4.6v4.6h-4.6zM551.8 90.7h4.6v4.6h-4.6zM553.2 85.7h4.6v4.6h-4.6zM555.3 85.4h4.6v4.6h-4.6zM556.8 82.6h4.6v4.6h-4.6zM555.9 83.1h4.6v4.6h-4.6zM558.0 77.9h4.6v4.6h-4.6zM560.4 79.1h4.6v4.6h-4.6zM563.2 74.8h4.6v4.6h-4.6zM565.5 74.3h4.6v4.6h-4.6zM566.7 71.9h4.6v4.6h-4.6zM566.8 70.9h4.6v4.6h-4.6zM568.8 69.1h4.6v4.6h-4.6zM570.6 65.6h4.6v4.6h-4.6zM445.6 213.5h4.6v4.6h-4.6zM447.7 197.4h4.6v4.6h-4.6zM456.3 202.7h4.6v4.6h-4.6zM475.6 168.5h4.6v4.6h-4.6zM482.0 174.9h4.6v4.6h-4.6zM402.7 233.8h4.6v4.6h-4.6zM406.7 233.8h4.6v4.6h-4.6zM410.7 233.8h4.6v4.6h-4.6zM414.7 233.8h4.6v4.6h-4.6zM418.7 233.8h4.6v4.6h-4.6zM424.7 233.8h4.6v4.6h-4.6zM428.0 233.8h4.6v4.6h-4.6zM431.3 233.8h4.6v4.6h-4.6zM434.7 233.8h4.6v4.6h-4.6zM441.3 233.8h4.6v4.6h-4.6z" fill="#800080"/><path d="M415.9 204.0h4.6v4.6h-4.6zM416.9 202.4h4.6v4.6h-4.6zM420.9 200.5h4.6v4.6h-4.6zM421.7 199.7h4.6v4.6h-4.6zM425.2 196.6h4.6v4.6h-4.6zM424.0 194.4h4.6v4.6h-4.6zM424.9 193.5h4.6v4.6h-4.6zM427.3 189.4h4.6v4.6h-4.6zM429.2 188.2h4.6v4.6h-4.6zM430.6 185.5h4.6v4.6h-4.6zM432.0 184.7h4.6v4.6h-4.6zM432.5 181.3h4.6v4.6h-4.6zM435.6 177.7h4.6v4.6h-4.6zM435.1 177.1h4.6v4.6h-4.6zM437.1 177.4h4.6v4.6h-4.6zM438.6 172.8h4.6v4.6h-4.6zM441.0 172.4h4.6v4.6h-4.6zM444.7 172.4h4.6v4.6h-4.6zM446.5 169.3h4.6v4.6h-4.6zM445.2 165.6h4.6v4.6h-4.6zM449.1 166.6h4.6v4.6h-4.6zM449.5 165.4h4.6v4.6h-4.6zM452.2 162.3h4.6v4.6h-4.6zM453.9 158.3h4.6v4.6h-4.6zM453.7 159.3h4.6v4.6h-4.6zM455.5 154.1h4.6v4.6h-4.6zM457.0 154.3h4.6v4.6h-4.6zM458.3 150.3h4.6v4.6h-4.6zM459.8 149.1h4.6v4.6h-4.6zM462.9 146.7h4.6v4.6h-4.6zM464.8 147.3h4.6v4.6h-4.6zM466.1 142.3h4.6v4.6h-4.6zM465.7 143.5h4.6v4.6h-4.6zM469.1 138.9h4.6v4.6h-4.6zM469.0 137.9h4.6v4.6h-4.6zM471.5 134.9h4.6v4.6h-4.6zM471.4 135.7h4.6v4.6h-4.6zM474.8 131.4h4.6v4.6h-4.6zM475.2 131.9h4.6v4.6h-4.6zM477.6 129.2h4.6v4.6h-4.6zM479.4 126.6h4.6v4.6h-4.6zM478.0 124.7h4.6v4.6h-4.6zM481.5 122.9h4.6v4.6h-4.6zM482.0 121.5h4.6v4.6h-4.6zM483.0 122.6h4.6v4.6h-4.6zM485.7 120.9h4.6v4.6h-4.6zM488.5 116.4h4.6v4.6h-4.6zM490.7 113.8h4.6v4.6h-4.6zM492.3 112.1h4.6v4.6h-4.6zM491.1 112.2h4.6v4.6h-4.6zM491.7 111.2h4.6v4.6h-4.6zM493.4 109.5h4.6v4.6h-4.6zM494.8 106.7h4.6v4.6h-4.6zM496.9 104.0h4.6v4.6h-4.6zM499.5 102.5h4.6v4.6h-4.6zM500.6 101.6h4.6v4.6h-4.6zM501.4 98.1h4.6v4.6h-4.6zM504.7 96.7h4.6v4.6h-4.6zM507.2 95.3h4.6v4.6h-4.6zM507.0 92.0h4.6v4.6h-4.6zM506.9 90.5h4.6v4.6h-4.6zM510.6 90.7h4.6v4.6h-4.6zM513.3 88.0h4.6v4.6h-4.6zM514.0 85.8h4.6v4.6h-4.6zM513.2 84.3h4.6v4.6h-4.6zM517.0 83.8h4.6v4.6h-4.6zM519.7 82.1h4.6v4.6h-4.6zM520.1 79.3h4.6v4.6h-4.6zM521.7 77.3h4.6v4.6h-4.6zM524.1 75.8h4.6v4.6h-4.6zM526.6 73.6h4.6v4.6h-4.6zM527.0 73.2h4.6v4.6h-4.6zM529.4 70.3h4.6v4.6h-4.6zM530.6 69.5h4.6v4.6h-4.6zM532.4 65.7h4.6v4.6h-4.6zM533.0 65.1h4.6v4.6h-4.6zM534.0 62.7h4.6v4.6h-4.6zM539.0 60.0h4.6v4.6h-4.6zM539.5 59.1h4.6v4.6h-4.6zM437.0 196.3h4.6v4.6h-4.6zM541.7 67.7h4.6v4.6h-4.6zM366.3 232.7h4.6v4.6h-4.6zM370.6 232.7h4.6v4.6h-4.6zM374.9 232.7h4.6v4.6h-4.6zM387.7 232.7h4.6v4.6h-4.6zM392.0 232.7h4.6v4.6h-4.6zM396.3 232.7h4.6v4.6h-4.6zM385.7 219.9h4.6v4.6h-4.6zM389.4 219.9h4.6v4.6h-4.6zM393.2 219.9h4.6v4.6h-4.6zM396.9 219.9h4.6v4.6h-4.6zM400.6 219.9h4.6v4.6h-4.6zM404.4 219.9h4.6v4.6h-4.6zM408.1 219.9h4.6v4.6h-4.6zM411.9 219.9h4.6v4.6h-4.6zM415.6 219.9h4.6v4.6h-4.6zM398.4 212.4h4.6v4.6h-4.6zM402.0 212.4h4.6v4.6h-4.6zM409.1 212.4h4.6v4.6h-4.6zM412.7 212.4h4.6v4.6h-4.6zM416.3 212.4h4.6v4.6h-4.6zM419.9 212.4h4.6v4.6h-4.6z" fill="#FF0080"/><path d="M360.3 215.0h4.6v4.6h-4.6zM364.5 215.0h4.6v4.6h-4.6zM367.6 211.4h4.6v4.6h-4.6zM366.9 209.4h4.6v4.6h-4.6zM372.4 209.7h4.6v4.6h-4.6zM370.1 207.5h4.6v4.6h-4.6zM374.0 204.9h4.6v4.6h-4.6zM372.2 203.8h4.6v4.6h-4.6zM374.7 198.6h4.6v4.6h-4.6zM375.8 197.4h4.6v4.6h-4.6zM376.0 194.6h4.6v4.6h-4.6zM375.8 192.4h4.6v4.6h-4.6zM377.5 190.2h4.6v4.6h-4.6zM379.6 186.4h4.6v4.6h-4.6zM378.0 187.2h4.6v4.6h-4.6zM381.6 184.4h4.6v4.6h-4.6zM383.9 181.5h4.6v4.6h-4.6zM385.2 179.8h4.6v4.6h-4.6zM386.4 181.0h4.6v4.6h-4.6zM390.7 179.5h4.6v4.6h-4.6zM390.2 177.8h4.6v4.6h-4.6zM393.5 176.0h4.6v4.6h-4.6zM396.9 173.2h4.6v4.6h-4.6zM397.1 173.0h4.6v4.6h-4.6zM400.1 170.7h4.6v4.6h-4.6zM399.3 168.8h4.6v4.6h-4.6zM401.5 165.6h4.6v4.6h-4.6zM402.6 163.4h4.6v4.6h-4.6zM401.9 161.4h4.6v4.6h-4.6zM403.4 159.9h4.6v4.6h-4.6zM406.3 159.4h4.6v4.6h-4.6zM408.6 157.2h4.6v4.6h-4.6zM410.9 153.7h4.6v4.6h-4.6zM410.1 151.8h4.6v4.6h-4.6zM410.6 151.0h4.6v4.6h-4.6zM413.4 147.9h4.6v4.6h-4.6zM416.4 148.8h4.6v4.6h-4.6zM414.7 143.1h4.6v4.6h-4.6zM416.1 143.6h4.6v4.6h-4.6zM420.4 139.0h4.6v4.6h-4.6zM418.8 138.6h4.6v4.6h-4.6zM421.4 134.6h4.6v4.6h-4.6zM422.0 133.5h4.6v4.6h-4.6zM424.4 132.1h4.6v4.6h-4.6zM427.3 130.2h4.6v4.6h-4.6zM427.9 128.4h4.6v4.6h-4.6zM432.0 126.8h4.6v4.6h-4.6zM432.2 125.7h4.6v4.6h-4.6zM432.9 123.8h4.6v4.6h-4.6zM433.2 121.2h4.6v4.6h-4.6zM436.8 121.5h4.6v4.6h-4.6zM436.8 117.6h4.6v4.6h-4.6zM440.7 115.6h4.6v4.6h-4.6zM442.0 116.6h4.6v4.6h-4.6zM441.3 114.8h4.6v4.6h-4.6zM443.0 110.2h4.6v4.6h-4.6zM445.2 109.6h4.6v4.6h-4.6zM448.0 108.2h4.6v4.6h-4.6zM450.2 107.2h4.6v4.6h-4.6zM449.2 103.8h4.6v4.6h-4.6zM452.9 101.7h4.6v4.6h-4.6zM455.1 102.4h4.6v4.6h-4.6zM453.9 98.7h4.6v4.6h-4.6zM455.4 97.4h4.6v4.6h-4.6zM457.1 94.3h4.6v4.6h-4.6zM458.8 93.2h4.6v4.6h-4.6zM460.9 92.4h4.6v4.6h-4.6zM464.5 91.4h4.6v4.6h-4.6zM465.3 90.4h4.6v4.6h-4.6zM466.2 87.1h4.6v4.6h-4.6zM467.4 86.9h4.6v4.6h-4.6zM471.4 85.5h4.6v4.6h-4.6zM472.2 80.9h4.6v4.6h-4.6zM472.0 81.7h4.6v4.6h-4.6zM476.6 79.0h4.6v4.6h-4.6zM478.4 78.7h4.6v4.6h-4.6zM479.5 75.0h4.6v4.6h-4.6zM480.1 73.2h4.6v4.6h-4.6zM481.6 71.9h4.6v4.6h-4.6zM482.4 69.1h4.6v4.6h-4.6zM485.1 69.0h4.6v4.6h-4.6zM489.8 68.0h4.6v4.6h-4.6zM489.3 65.4h4.6v4.6h-4.6zM493.2 62.7h4.6v4.6h-4.6zM493.4 62.8h4.6v4.6h-4.6zM496.1 61.2h4.6v4.6h-4.6zM499.2 59.1h4.6v4.6h-4.6zM330.9 236.0h4.6v4.6h-4.6zM340.6 222.1h4.6v4.6h-4.6zM359.9 236.0h4.6v4.6h-4.6zM370.6 222.1h4.6v4.6h-4.6zM502.4 67.7h4.6v4.6h-4.6zM497.0 76.3h4.6v4.6h-4.6zM382.7 197.7h4.6v4.6h-4.6zM374.7 202.7h4.6v4.6h-4.6zM351.3 222.1h4.6v4.6h-4.6zM355.6 222.1h4.6v4.6h-4.6zM359.9 222.1h4.6v4.6h-4.6z" fill="#000000"/><path d="M329.0 191.3h4.6v4.6h-4.6zM328.8 190.3h4.6v4.6h-4.6zM331.8 189.7h4.6v4.6h-4.6zM333.0 187.0h4.6v4.6h-4.6zM331.5 183.4h4.6v4.6h-4.6zM334.5 184.4h4.6v4.6h-4.6zM336.5 179.6h4.6v4.6h-4.6zM336.5 180.5h4.6v4.6h-4.6zM338.4 178.3h4.6v4.6h-4.6zM341.5 176.6h4.6v4.6h-4.6zM342.4 174.8h4.6v4.6h-4.6zM343.2 171.4h4.6v4.6h-4.6zM347.1 169.7h4.6v4.6h-4.6zM346.5 170.3h4.6v4.6h-4.6zM350.8 167.5h4.6v4.6h-4.6zM350.0 168.3h4.6v4.6h-4.6zM352.1 165.3h4.6v4.6h-4.6zM354.0 162.6h4.6v4.6h-4.6zM357.9 163.5h4.6v4.6h-4.6zM356.3 159.9h4.6v4.6h-4.6zM358.6 159.4h4.6v4.6h-4.6zM362.6 156.7h4.6v4.6h-4.6zM361.6 155.5h4.6v4.6h-4.6zM364.0 155.7h4.6v4.6h-4.6zM365.4 153.9h4.6v4.6h-4.6zM366.7 150.3h4.6v4.6h-4.6zM369.3 148.9h4.6v4.6h-4.6zM369.2 146.8h4.6v4.6h-4.6zM370.1 144.7h4.6v4.6h-4.6zM370.9 142.1h4.6v4.6h-4.6zM375.1 140.0h4.6v4.6h-4.6zM374.9 138.3h4.6v4.6h-4.6zM377.2 136.1h4.6v4.6h-4.6zM379.0 136.4h4.6v4.6h-4.6zM381.9 135.5h4.6v4.6h-4.6zM381.6 132.9h4.6v4.6h-4.6zM383.8 130.0h4.6v4.6h-4.6zM386.9 130.0h4.6v4.6h-4.6zM389.0 128.7h4.6v4.6h-4.6zM388.5 124.5h4.6v4.6h-4.6zM391.9 121.7h4.6v4.6h-4.6zM392.2 121.1h4.6v4.6h-4.6zM395.8 118.5h4.6v4.6h-4.6zM395.8 117.4h4.6v4.6h-4.6zM400.0 116.5h4.6v4.6h-4.6zM402.7 114.9h4.6v4.6h-4.6zM404.1 113.0h4.6v4.6h-4.6zM404.0 110.5h4.6v4.6h-4.6zM403.8 107.4h4.6v4.6h-4.6zM407.3 108.4h4.6v4.6h-4.6zM406.3 104.0h4.6v4.6h-4.6zM408.8 102.7h4.6v4.6h-4.6zM411.9 100.6h4.6v4.6h-4.6zM411.4 99.5h4.6v4.6h-4.6zM415.0 97.0h4.6v4.6h-4.6zM415.7 94.3h4.6v4.6h-4.6zM416.8 95.7h4.6v4.6h-4.6zM417.8 91.8h4.6v4.6h-4.6zM421.2 90.8h4.6v4.6h-4.6zM422.7 89.2h4.6v4.6h-4.6zM424.8 86.4h4.6v4.6h-4.6zM425.4 84.8h4.6v4.6h-4.6zM427.8 83.7h4.6v4.6h-4.6zM430.9 81.3h4.6v4.6h-4.6zM431.2 81.1h4.6v4.6h-4.6zM434.8 77.2h4.6v4.6h-4.6zM435.7 75.4h4.6v4.6h-4.6zM437.6 72.9h4.6v4.6h-4.6zM438.5 73.0h4.6v4.6h-4.6zM441.0 72.5h4.6v4.6h-4.6zM443.1 69.4h4.6v4.6h-4.6zM443.8 65.6h4.6v4.6h-4.6zM445.8 65.8h4.6v4.6h-4.6zM448.1 62.8h4.6v4.6h-4.6zM449.1 60.7h4.6v4.6h-4.6zM451.2 61.9h4.6v4.6h-4.6zM452.0 59.1h4.6v4.6h-4.6zM300.7 210.3h4.6v4.6h-4.6zM309.2 217.7h4.6v4.6h-4.6zM315.7 203.7h4.6v4.6h-4.6zM324.2 191.0h4.6v4.6h-4.6zM332.7 200.7h4.6v4.6h-4.6zM332.0 192.0h4.6v4.6h-4.6zM336.3 204.9h4.6v4.6h-4.6zM454.2 65.6h4.6v4.6h-4.6zM319.7 191.7h4.6v4.6h-4.6zM327.7 177.7h4.6v4.6h-4.6zM283.7 231.7h4.6v4.6h-4.6zM287.2 231.7h4.6v4.6h-4.6zM290.7 231.7h4.6v4.6h-4.6zM294.2 231.7h4.6v4.6h-4.6zM297.7 231.7h4.6v4.6h-4.6zM301.7 231.7h4.6v4.6h-4.6zM305.7 231.7h4.6v4.6h-4.6zM313.7 231.7h4.6v4.6h-4.6zM318.7 231.7h4.6v4.6h-4.6zM322.1 231.7h4.6v4.6h-4.6z" fill="#FF0000"/><path d="M280.1 204.4h4.6v4.6h-4.6zM279.2 202.7h4.6v4.6h-4.6zM282.8 202.6h4.6v4.6h-4.6zM283.1 200.6h4.6v4.6h-4.6zM282.9 196.9h4.6v4.6h-4.6zM283.5 194.0h4.6v4.6h-4.6zM287.8 191.4h4.6v4.6h-4.6zM288.3 191.0h4.6v4.6h-4.6zM291.2 190.8h4.6v4.6h-4.6zM289.8 186.3h4.6v4.6h-4.6zM294.6 184.6h4.6v4.6h-4.6zM293.4 184.7h4.6v4.6h-4.6zM296.7 180.6h4.6v4.6h-4.6zM297.9 179.3h4.6v4.6h-4.6zM299.0 177.9h4.6v4.6h-4.6zM299.4 176.4h4.6v4.6h-4.6zM303.7 174.5h4.6v4.6h-4.6zM304.5 171.6h4.6v4.6h-4.6zM303.7 168.8h4.6v4.6h-4.6zM308.4 167.8h4.6v4.6h-4.6zM308.1 168.3h4.6v4.6h-4.6zM311.1 166.7h4.6v4.6h-4.6zM311.9 166.0h4.6v4.6h-4.6zM313.7 164.6h4.6v4.6h-4.6zM314.1 162.8h4.6v4.6h-4.6zM315.8 159.8h4.6v4.6h-4.6zM318.5 157.2h4.6v4.6h-4.6zM320.1 157.8h4.6v4.6h-4.6zM320.1 153.6h4.6v4.6h-4.6zM325.0 152.7h4.6v4.6h-4.6zM324.4 152.5h4.6v4.6h-4.6zM327.3 148.0h4.6v4.6h-4.6zM328.1 145.9h4.6v4.6h-4.6zM330.2 145.1h4.6v4.6h-4.6zM331.7 141.2h4.6v4.6h-4.6zM333.6 139.6h4.6v4.6h-4.6zM334.7 138.2h4.6v4.6h-4.6zM336.3 134.9h4.6v4.6h-4.6zM335.0 135.1h4.6v4.6h-4.6zM339.9 134.1h4.6v4.6h-4.6zM340.0 131.1h4.6v4.6h-4.6zM341.6 130.3h4.6v4.6h-4.6zM344.4 129.5h4.6v4.6h-4.6zM344.4 125.6h4.6v4.6h-4.6zM344.8 126.7h4.6v4.6h-4.6zM348.0 122.2h4.6v4.6h-4.6zM350.2 120.3h4.6v4.6h-4.6zM350.7 120.9h4.6v4.6h-4.6zM351.3 116.3h4.6v4.6h-4.6zM352.9 114.7h4.6v4.6h-4.6zM355.8 113.5h4.6v4.6h-4.6zM357.3 110.6h4.6v4.6h-4.6zM359.9 110.4h4.6v4.6h-4.6zM362.6 108.1h4.6v4.6h-4.6zM363.8 106.4h4.6v4.6h-4.6zM366.2 104.1h4.6v4.6h-4.6zM367.0 103.3h4.6v4.6h-4.6zM368.7 101.8h4.6v4.6h-4.6zM370.7 99.2h4.6v4.6h-4.6zM373.6 99.7h4.6v4.6h-4.6zM374.4 96.8h4.6v4.6h-4.6zM376.8 93.9h4.6v4.6h-4.6zM378.1 92.6h4.6v4.6h-4.6zM379.5 90.5h4.6v4.6h-4.6zM381.4 88.1h4.6v4.6h-4.6zM382.2 86.2h4.6v4.6h-4.6zM385.2 84.6h4.6v4.6h-4.6zM387.7 85.2h4.6v4.6h-4.6zM389.4 81.3h4.6v4.6h-4.6zM391.8 79.6h4.6v4.6h-4.6zM391.5 78.7h4.6v4.6h-4.6zM394.1 76.2h4.6v4.6h-4.6zM396.1 76.0h4.6v4.6h-4.6zM395.8 71.9h4.6v4.6h-4.6zM397.7 71.8h4.6v4.6h-4.6zM400.3 68.1h4.6v4.6h-4.6zM400.8 68.9h4.6v4.6h-4.6zM404.4 66.0h4.6v4.6h-4.6zM405.3 65.2h4.6v4.6h-4.6zM404.9 60.8h4.6v4.6h-4.6zM408.0 60.3h4.6v4.6h-4.6zM409.2 59.1h4.6v4.6h-4.6zM264.2 204.9h4.6v4.6h-4.6zM413.4 65.6h4.6v4.6h-4.6zM262.0 218.8h4.6v4.6h-4.6zM265.8 218.8h4.6v4.6h-4.6zM269.5 218.8h4.6v4.6h-4.6zM273.2 218.8h4.6v4.6h-4.6zM277.0 218.8h4.6v4.6h-4.6zM232.2 231.7h4.6v4.6h-4.6zM235.3 231.7h4.6v4.6h-4.6zM238.4 231.7h4.6v4.6h-4.6zM251.2 231.7h4.6v4.6h-4.6zM258.5 231.7h4.6v4.6h-4.6zM262.1 231.7h4.6v4.6h-4.6zM265.8 231.7h4.6v4.6h-4.6zM269.4 231.7h4.6v4.6h-4.6zM273.1 231.7h4.6v4.6h-4.6zM276.7 231.7h4.6v4.6h-4.6z" fill="#800000"/><path d="M228.6 207.9h4.6v4.6h-4.6zM229.3 207.9h4.6v4.6h-4.6zM231.8 207.1h4.6v4.6h-4.6zM234.8 206.5h4.6v4.6h-4.6zM233.8 202.2h4.6v4.6h-4.6zM238.3 200.8h4.6v4.6h-4.6zM240.1 199.2h4.6v4.6h-4.6zM239.8 197.1h4.6v4.6h-4.6zM239.2 195.7h4.6v4.6h-4.6zM242.7 194.9h4.6v4.6h-4.6zM242.1 190.7h4.6v4.6h-4.6zM243.3 188.7h4.6v4.6h-4.6zM243.9 187.7h4.6v4.6h-4.6zM245.9 187.1h4.6v4.6h-4.6zM245.6 183.6h4.6v4.6h-4.6zM248.4 180.1h4.6v4.6h-4.6zM248.7 177.9h4.6v4.6h-4.6zM252.3 177.2h4.6v4.6h-4.6zM251.0 176.1h4.6v4.6h-4.6zM254.4 176.1h4.6v4.6h-4.6zM256.8 172.1h4.6v4.6h-4.6zM259.2 169.9h4.6v4.6h-4.6zM260.6 169.3h4.6v4.6h-4.6zM263.2 169.0h4.6v4.6h-4.6zM265.2 170.4h4.6v4.6h-4.6zM267.3 167.1h4.6v4.6h-4.6zM267.4 164.9h4.6v4.6h-4.6zM270.0 166.0h4.6v4.6h-4.6zM270.7 162.6h4.6v4.6h-4.6zM272.6 158.6h4.6v4.6h-4.6zM273.0 157.2h4.6v4.6h-4.6zM275.8 155.3h4.6v4.6h-4.6zM275.8 153.9h4.6v4.6h-4.6zM276.7 150.2h4.6v4.6h-4.6zM278.2 148.1h4.6v4.6h-4.6zM281.2 147.8h4.6v4.6h-4.6zM282.4 146.3h4.6v4.6h-4.6zM281.8 145.3h4.6v4.6h-4.6zM286.0 140.4h4.6v4.6h-4.6zM286.0 141.3h4.6v4.6h-4.6zM287.4 139.7h4.6v4.6h-4.6zM290.3 137.4h4.6v4.6h-4.6zM292.9 136.3h4.6v4.6h-4.6zM293.6 132.2h4.6v4.6h-4.6zM295.0 133.0h4.6v4.6h-4.6zM297.1 131.1h4.6v4.6h-4.6zM298.3 130.5h4.6v4.6h-4.6zM299.8 128.2h4.6v4.6h-4.6zM302.2 124.7h4.6v4.6h-4.6zM302.4 123.0h4.6v4.6h-4.6zM305.0 122.5h4.6v4.6h-4.6zM305.8 119.3h4.6v4.6h-4.6zM310.3 120.9h4.6v4.6h-4.6zM310.5 117.2h4.6v4.6h-4.6zM312.6 114.1h4.6v4.6h-4.6zM313.9 114.3h4.6v4.6h-4.6zM316.9 112.3h4.6v4.6h-4.6zM317.0 109.7h4.6v4.6h-4.6zM319.9 108.2h4.6v4.6h-4.6zM319.8 107.1h4.6v4.6h-4.6zM321.2 102.9h4.6v4.6h-4.6zM323.3 103.9h4.6v4.6h-4.6zM324.1 99.3h4.6v4.6h-4.6zM324.7 100.4h4.6v4.6h-4.6zM326.2 97.6h4.6v4.6h-4.6zM327.7 95.3h4.6v4.6h-4.6zM332.2 92.4h4.6v4.6h-4.6zM331.4 92.1h4.6v4.6h-4.6zM333.8 90.2h4.6v4.6h-4.6zM334.5 86.6h4.6v4.6h-4.6zM336.6 85.8h4.6v4.6h-4.6zM338.1 84.7h4.6v4.6h-4.6zM338.2 84.9h4.6v4.6h-4.6zM339.7 83.0h4.6v4.6h-4.6zM341.6 79.6h4.6v4.6h-4.6zM342.2 76.5h4.6v4.6h-4.6zM345.1 75.5h4.6v4.6h-4.6zM346.0 72.6h4.6v4.6h-4.6zM347.1 72.3h4.6v4.6h-4.6zM349.3 70.3h4.6v4.6h-4.6zM349.4 68.4h4.6v4.6h-4.6zM351.5 66.1h4.6v4.6h-4.6zM353.2 64.0h4.6v4.6h-4.6zM352.6 61.9h4.6v4.6h-4.6zM357.4 63.1h4.6v4.6h-4.6zM358.5 59.1h4.6v4.6h-4.6zM360.1 59.3h4.6v4.6h-4.6zM360.6 55.8h4.6v4.6h-4.6zM362.0 54.8h4.6v4.6h-4.6zM232.2 236.6h4.6v4.6h-4.6zM197.7 236.6h4.6v4.6h-4.6zM204.7 236.6h4.6v4.6h-4.6zM208.2 236.6h4.6v4.6h-4.6zM211.7 236.6h4.6v4.6h-4.6zM215.2 236.6h4.6v4.6h-4.6zM218.7 236.6h4.6v4.6h-4.6zM222.2 236.6h4.6v4.6h-4.6zM225.7 236.6h4.6v4.6h-4.6z" fill="#FFFF00"/><path d="M175.4 221.8h4.6v4.6h-4.6zM178.5 221.4h4.6v4.6h-4.6zM179.4 219.8h4.6v4.6h-4.6zM178.5 217.4h4.6v4.6h-4.6zM179.9 214.9h4.6v4.6h-4.6zM184.8 214.6h4.6v4.6h-4.6zM184.8 210.7h4.6v4.6h-4.6zM186.6 210.7h4.6v4.6h-4.6zM187.9 209.2h4.6v4.6h-4.6zM190.3 206.5h4.6v4.6h-4.6zM190.6 205.0h4.6v4.6h-4.6zM191.7 203.5h4.6v4.6h-4.6zM191.5 199.3h4.6v4.6h-4.6zM192.5 197.2h4.6v4.6h-4.6zM195.2 196.1h4.6v4.6h-4.6zM197.3 193.6h4.6v4.6h-4.6zM196.2 194.1h4.6v4.6h-4.6zM197.2 190.3h4.6v4.6h-4.6zM200.6 189.0h4.6v4.6h-4.6zM200.5 185.7h4.6v4.6h-4.6zM203.1 184.4h4.6v4.6h-4.6zM205.6 182.7h4.6v4.6h-4.6zM207.4 180.1h4.6v4.6h-4.6zM207.7 179.3h4.6v4.6h-4.6zM208.7 178.1h4.6v4.6h-4.6zM211.3 175.5h4.6v4.6h-4.6zM212.7 173.2h4.6v4.6h-4.6zM213.4 173.9h4.6v4.6h-4.6zM213.9 171.9h4.6v4.6h-4.6zM214.9 167.9h4.6v4.6h-4.6zM218.2 168.1h4.6v4.6h-4.6zM219.0 163.2h4.6v4.6h-4.6zM220.8 161.5h4.6v4.6h-4.6zM222.2 159.9h4.6v4.6h-4.6zM221.6 158.1h4.6v4.6h-4.6zM225.0 159.2h4.6v4.6h-4.6zM226.1 154.6h4.6v4.6h-4.6zM228.4 155.9h4.6v4.6h-4.6zM230.9 150.9h4.6v4.6h-4.6zM231.4 152.0h4.6v4.6h-4.6zM234.9 151.0h4.6v4.6h-4.6zM237.2 148.4h4.6v4.6h-4.6zM237.9 145.1h4.6v4.6h-4.6zM237.1 144.6h4.6v4.6h-4.6zM240.2 143.1h4.6v4.6h-4.6zM240.5 141.3h4.6v4.6h-4.6zM243.9 139.5h4.6v4.6h-4.6zM245.6 136.1h4.6v4.6h-4.6zM246.6 133.1h4.6v4.6h-4.6zM247.2 133.0h4.6v4.6h-4.6zM248.5 130.4h4.6v4.6h-4.6zM251.8 129.5h4.6v4.6h-4.6zM254.3 127.1h4.6v4.6h-4.6zM254.7 125.3h4.6v4.6h-4.6zM256.9 124.1h4.6v4.6h-4.6zM259.1 120.4h4.6v4.6h-4.6zM257.7 119.0h4.6v4.6h-4.6zM260.9 118.3h4.6v4.6h-4.6zM260.9 115.1h4.6v4.6h-4.6zM264.1 113.4h4.6v4.6h-4.6zM266.6 111.1h4.6v4.6h-4.6zM268.2 109.6h4.6v4.6h-4.6zM269.7 110.1h4.6v4.6h-4.6zM272.2 108.8h4.6v4.6h-4.6zM270.6 106.3h4.6v4.6h-4.6zM275.5 104.9h4.6v4.6h-4.6zM275.6 103.1h4.6v4.6h-4.6zM276.7 101.6h4.6v4.6h-4.6zM278.9 100.5h4.6v4.6h-4.6zM279.2 97.4h4.6v4.6h-4.6zM281.3 96.3h4.6v4.6h-4.6zM286.0 93.6h4.6v4.6h-4.6zM287.2 91.0h4.6v4.6h-4.6zM286.0 91.3h4.6v4.6h-4.6zM288.9 87.0h4.6v4.6h-4.6zM291.4 88.2h4.6v4.6h-4.6zM290.8 85.4h4.6v4.6h-4.6zM293.2 81.7h4.6v4.6h-4.6zM293.8 80.0h4.6v4.6h-4.6zM296.2 79.1h4.6v4.6h-4.6zM298.6 78.5h4.6v4.6h-4.6zM301.4 77.5h4.6v4.6h-4.6zM300.5 74.9h4.6v4.6h-4.6zM304.7 71.8h4.6v4.6h-4.6zM305.3 72.7h4.6v4.6h-4.6zM307.0 69.6h4.6v4.6h-4.6zM307.4 68.5h4.6v4.6h-4.6zM309.7 64.7h4.6v4.6h-4.6zM313.5 72.0h4.6v4.6h-4.6zM312.4 81.6h4.6v4.6h-4.6zM205.2 193.1h4.6v4.6h-4.6zM155.9 236.6h4.6v4.6h-4.6zM163.4 236.6h4.6v4.6h-4.6zM169.7 236.6h4.6v4.6h-4.6zM174.2 236.6h4.6v4.6h-4.6zM178.7 236.6h4.6v4.6h-4.6z" fill="#008080"/><path d="M607.2 261.9L612.6 253.2L618.0 244.4L623.4 235.7L628.8 227.0L634.2 218.2L639.7 209.5L645.1 200.8L650.6 192.0L656.1 183.3L661.6 174.6L667.1 165.8L672.6 157.1L678.1 148.4L683.6 139.6L689.2 130.9L694.7 122.2L700.3 113.4L705.9 104.7L711.4 96.0L717.0 87.2L722.6 78.5L728.3 69.8L733.9 61.0L739.5 52.3" fill="none" stroke="#FF0000" stroke-width="1.2"/><path d="M615.8 243.6L621.2 235.6L626.6 227.6L632.0 219.6L637.3 211.6L642.6 203.6L647.9 195.6L653.1 187.6L658.3 179.6L663.5 171.6L668.6 163.6L673.7 155.6L678.8 147.7L683.8 139.7L688.8 131.7L693.8 123.7L698.7 115.7L703.6 107.7L708.4 99.7L713.3 91.7L718.1 83.7L722.8 75.7L727.6 67.7L732.3 59.7L736.9 51.7" fill="none" stroke="#00FF00" stroke-width="1.2"/><path d="M609.3 245.8L613.6 237.8L618.0 229.8L622.5 221.8L627.0 213.7L631.5 205.7L636.1 197.7L640.8 189.7L645.6 181.7L650.4 173.7L655.2 165.6L660.1 157.6L665.1 149.6L670.1 141.6L675.2 133.6L680.3 125.6L685.5 117.5L690.8 109.5L696.1 101.5L701.4 93.5L706.9 85.5L712.3 77.5L717.9 69.4L723.5 61.4L729.1 53.4" fill="none" stroke="#0000FF" stroke-width="1.2"/><path d="M586.8 266.1L591.6 257.2L596.5 248.3L601.4 239.4L606.4 230.5L611.4 221.6L616.6 212.7L621.7 203.7L627.0 194.8L632.3 185.9L637.6 177.0L643.1 168.1L648.5 159.2L654.1 150.3L659.7 141.4L665.4 132.5L671.1 123.6L676.9 114.7L682.7 105.8L688.6 96.8L694.6 87.9L700.7 79.0L706.8 70.1L712.9 61.2L719.1 52.3" fill="none" stroke="#00FFFF" stroke-width="1.2"/><path d="M569.7 280.0L574.6 270.6L579.6 261.2L584.7 251.9L589.8 242.5L595.0 233.1L600.3 223.8L605.7 214.4L611.1 205.0L616.6 195.6L622.2 186.2L627.8 176.9L633.6 167.5L639.4 158.1L645.2 148.8L651.2 139.4L657.2 130.0L663.3 120.6L669.5 111.2L675.7 101.9L682.0 92.5L688.4 83.1L694.9 73.8L701.4 64.4L708.0 55.0" fill="none" stroke="#FF00FF" stroke-width="1.2"/><path d="M555.7 280.0L559.9 270.9L564.2 261.8L568.7 252.7L573.3 243.6L578.0 234.5L582.9 225.3L587.9 216.2L593.1 207.1L598.4 198.0L603.8 188.9L609.4 179.8L615.0 170.7L620.9 161.6L626.8 152.5L632.9 143.4L639.2 134.3L645.6 125.2L652.1 116.1L658.7 106.9L665.5 97.8L672.4 88.7L679.5 79.6L686.7 70.5L694.0 61.4" fill="none" stroke="#FF8000" stroke-width="1.2"/><path d="M536.4 272.6L541.1 263.5L545.9 254.4L550.8 245.3L555.8 236.2L561.0 227.0L566.3 217.9L571.6 208.8L577.1 199.7L582.8 190.6L588.5 181.5L594.4 172.4L600.3 163.2L606.4 154.1L612.6 145.0L618.9 135.9L625.4 126.8L631.9 117.7L638.6 108.6L645.4 99.5L652.3 90.3L659.3 81.2L666.5 72.1L673.7 63.0L681.1 53.9" fill="none" stroke="#8000FF" stroke-width="1.2"/><path d="M527.9 231.9L532.2 224.5L536.6 217.0L541.1 209.6L545.6 202.2L550.3 194.7L554.9 187.3L559.7 179.9L564.5 172.4L569.4 165.0L574.4 157.6L579.4 150.1L584.5 142.7L589.7 135.3L594.9 127.8L600.2 120.4L605.6 113.0L611.0 105.5L616.5 98.1L622.1 90.7L627.8 83.2L633.5 75.8L639.3 68.4L645.2 60.9L651.1 53.5" fill="none" stroke="#800000" stroke-width="1.2"/><path d="M473.6 254.4L478.3 246.2L483.1 238.1L488.0 229.9L493.0 221.7L498.1 213.5L503.3 205.4L508.7 197.2L514.1 189.0L519.7 180.8L525.3 172.7L531.1 164.5L536.9 156.3L542.9 148.1L549.0 139.9L555.2 131.8L561.5 123.6L567.9 115.4L574.4 107.3L581.1 99.1L587.8 90.9L594.7 82.7L601.6 74.6L608.7 66.4L615.8 58.2" fill="none" stroke="#808080" stroke-width="1.2"/><path d="M413.6 280.0L418.8 270.9L424.1 261.8L429.6 252.7L435.2 243.6L440.9 234.5L446.8 225.3L452.8 216.2L459.0 207.1L465.3 198.0L471.7 188.9L478.3 179.8L485.0 170.7L491.8 161.6L498.8 152.5L505.9 143.4L513.2 134.3L520.6 125.2L528.1 116.1L535.8 106.9L543.6 97.8L551.5 88.7L559.6 79.6L567.8 70.5L576.1 61.4" fill="none" stroke="#800080" stroke-width="1.2"/><path d="M370.7 280.0L377.1 270.5L383.5 261.0L390.1 251.5L396.7 242.0L403.4 232.5L410.1 222.9L416.9 213.4L423.8 203.9L430.8 194.4L437.8 184.9L444.9 175.4L452.1 165.9L459.4 156.4L466.7 146.9L474.1 137.4L481.6 127.9L489.1 118.4L496.7 108.9L504.4 99.3L512.2 89.8L520.0 80.3L527.9 70.8L535.9 61.3L543.9 51.8" fill="none" stroke="#FF0080" stroke-width="1.2"/><path d="M333.2 271.5L338.4 262.3L343.8 253.2L349.4 244.0L355.1 234.9L361.0 225.7L367.1 216.6L373.3 207.4L379.7 198.3L386.3 189.1L393.0 180.0L399.9 170.8L407.0 161.7L414.2 152.5L421.6 143.3L429.2 134.2L436.9 125.0L444.8 115.9L452.9 106.7L461.1 97.6L469.5 88.4L478.1 79.3L486.8 70.1L495.7 61.0L504.7 51.8" fill="none" stroke="#000000" stroke-width="1.2"/><path d="M287.9 266.2L293.0 257.5L298.3 248.9L303.7 240.2L309.3 231.5L315.0 222.9L321.0 214.2L327.1 205.5L333.4 196.9L339.8 188.2L346.4 179.5L353.2 170.9L360.1 162.2L367.2 153.5L374.5 144.9L382.0 136.2L389.6 127.5L397.3 118.9L405.3 110.2L413.4 101.5L421.7 92.9L430.2 84.2L438.8 75.5L447.6 66.9L456.5 58.2" fill="none" stroke="#FF0000" stroke-width="1.2"/><path d="M234.3 276.9L240.2 267.7L246.3 258.4L252.5 249.2L258.9 239.9L265.4 230.7L272.0 221.4L278.8 212.2L285.8 202.9L292.9 193.7L300.1 184.4L307.5 175.2L315.0 165.9L322.7 156.7L330.5 147.5L338.5 138.2L346.6 129.0L354.9 119.7L363.3 110.5L371.8 101.2L380.5 92.0L389.4 82.7L398.4 73.5L407.5 64.2L416.8 55.0" fill="none" stroke="#800000" stroke-width="1.2"/><path d="M202.2 260.8L207.9 252.3L213.7 243.8L219.5 235.3L225.5 226.8L231.6 218.3L237.8 209.8L244.0 201.2L250.4 192.7L256.9 184.2L263.4 175.7L270.1 167.2L276.8 158.7L283.7 150.2L290.6 141.7L297.7 133.2L304.8 124.7L312.1 116.2L319.4 107.7L326.9 99.1L334.4 90.6L342.0 82.1L349.8 73.6L357.6 65.1L365.5 56.6" fill="none" stroke="#FFFF00" stroke-width="1.2"/><path d="M158.9 258.6L164.1 250.3L169.4 242.1L174.8 233.8L180.4 225.6L186.0 217.3L191.8 209.1L197.8 200.8L203.8 192.5L210.0 184.3L216.3 176.0L222.7 167.8L229.3 159.5L235.9 151.2L242.7 143.0L249.7 134.7L256.7 126.5L263.9 118.2L271.2 110.0L278.6 101.7L286.1 93.4L293.8 85.2L301.6 76.9L309.5 68.7L317.5 60.4" fill="none" stroke="#008080" stroke-width="1.2"/></g>
<g clip-path="url(#cp2)"><path d="M569.4 575.7h4.2v4.2h-4.2zM569.3 571.5h4.2v4.2h-4.2zM574.7 572.2h4.2v4.2h-4.2zM577.0 569.4h4.2v4.2h-4.2zM579.6 568.9h4.2v4.2h-4.2zM583.1 565.7h4.2v4.2h-4.2zM586.2 564.7h4.2v4.2h-4.2zM590.7 564.9h4.2v4.2h-4.2zM595.0 561.6h4.2v4.2h-4.2zM597.2 559.8h4.2v4.2h-4.2zM599.7 558.1h4.2v4.2h-4.2zM604.9 558.0h4.2v4.2h-4.2zM607.5 558.2h4.2v4.2h-4.2zM610.8 555.5h4.2v4.2h-4.2zM612.8 552.1h4.2v4.2h-4.2zM615.9 550.8h4.2v4.2h-4.2zM619.4 551.9h4.2v4.2h-4.2zM622.8 547.6h4.2v4.2h-4.2zM626.3 547.6h4.2v4.2h-4.2zM628.7 546.1h4.2v4.2h-4.2zM631.6 543.8h4.2v4.2h-4.2zM633.1 542.5h4.2v4.2h-4.2zM637.9 538.0h4.2v4.2h-4.2zM640.1 537.9h4.2v4.2h-4.2zM642.0 535.4h4.2v4.2h-4.2zM645.0 534.8h4.2v4.2h-4.2zM647.9 532.6h4.2v4.2h-4.2zM650.3 530.8h4.2v4.2h-4.2zM654.9 527.6h4.2v4.2h-4.2zM656.7 527.1h4.2v4.2h-4.2zM660.1 524.1h4.2v4.2h-4.2zM661.3 521.9h4.2v4.2h-4.2zM665.7 519.7h4.2v4.2h-4.2zM669.2 518.4h4.2v4.2h-4.2zM672.1 516.9h4.2v4.2h-4.2zM675.1 516.5h4.2v4.2h-4.2zM677.1 514.4h4.2v4.2h-4.2zM681.0 513.2h4.2v4.2h-4.2zM683.3 510.5h4.2v4.2h-4.2zM687.4 511.4h4.2v4.2h-4.2zM691.2 507.2h4.2v4.2h-4.2zM695.2 507.6h4.2v4.2h-4.2zM698.9 504.2h4.2v4.2h-4.2zM701.8 502.0h4.2v4.2h-4.2zM705.0 501.0h4.2v4.2h-4.2zM707.0 501.2h4.2v4.2h-4.2zM710.0 498.7h4.2v4.2h-4.2zM715.7 496.4h4.2v4.2h-4.2zM717.0 497.0h4.2v4.2h-4.2zM721.0 495.0h4.2v4.2h-4.2zM723.1 492.5h4.2v4.2h-4.2zM726.9 492.1h4.2v4.2h-4.2zM729.6 490.8h4.2v4.2h-4.2zM732.5 488.0h4.2v4.2h-4.2zM735.5 484.3h4.2v4.2h-4.2zM741.1 481.9h4.2v4.2h-4.2zM742.2 481.5h4.2v4.2h-4.2zM745.9 477.3h4.2v4.2h-4.2zM750.9 475.5h4.2v4.2h-4.2zM751.3 474.4h4.2v4.2h-4.2zM756.5 473.9h4.2v4.2h-4.2zM758.4 470.9h4.2v4.2h-4.2zM761.6 469.6h4.2v4.2h-4.2zM767.4 468.8h4.2v4.2h-4.2zM771.2 467.1h4.2v4.2h-4.2zM774.5 465.3h4.2v4.2h-4.2zM776.7 462.0h4.2v4.2h-4.2zM780.7 460.6h4.2v4.2h-4.2zM782.3 459.3h4.2v4.2h-4.2zM788.2 456.6h4.2v4.2h-4.2zM790.8 455.7h4.2v4.2h-4.2zM794.0 453.2h4.2v4.2h-4.2zM798.8 451.8h4.2v4.2h-4.2zM801.1 450.6h4.2v4.2h-4.2zM802.7 449.4h4.2v4.2h-4.2zM806.5 446.0h4.2v4.2h-4.2zM809.6 444.7h4.2v4.2h-4.2zM813.2 444.5h4.2v4.2h-4.2zM817.9 443.8h4.2v4.2h-4.2zM822.3 442.2h4.2v4.2h-4.2zM823.0 438.8h4.2v4.2h-4.2zM826.1 437.6h4.2v4.2h-4.2zM830.3 436.5h4.2v4.2h-4.2zM833.6 433.1h4.2v4.2h-4.2zM836.2 432.2h4.2v4.2h-4.2zM838.4 428.9h4.2v4.2h-4.2zM843.3 427.4h4.2v4.2h-4.2zM847.1 426.9h4.2v4.2h-4.2zM470.8 607.2h4.2v4.2h-4.2zM525.0 618.6h4.2v4.2h-4.2zM527.9 600.0h4.2v4.2h-4.2zM539.3 607.2h4.2v4.2h-4.2zM841.9 436.3h4.2v4.2h-4.2zM493.6 607.2h4.2v4.2h-4.2zM497.4 607.2h4.2v4.2h-4.2zM501.2 607.2h4.2v4.2h-4.2zM505.0 607.2h4.2v4.2h-4.2z" fill="#000000"/><path d="M520.9 599.0h4.2v4.2h-4.2zM524.6 597.7h4.2v4.2h-4.2zM528.8 597.0h4.2v4.2h-4.2zM531.4 596.2h4.2v4.2h-4.2zM534.3 595.6h4.2v4.2h-4.2zM540.0 593.6h4.2v4.2h-4.2zM541.5 591.5h4.2v4.2h-4.2zM545.3 588.6h4.2v4.2h-4.2zM549.0 589.4h4.2v4.2h-4.2zM552.6 587.3h4.2v4.2h-4.2zM556.7 585.3h4.2v4.2h-4.2zM558.0 584.2h4.2v4.2h-4.2zM560.4 579.4h4.2v4.2h-4.2zM563.7 576.8h4.2v4.2h-4.2zM564.2 576.0h4.2v4.2h-4.2zM568.1 573.0h4.2v4.2h-4.2zM574.0 572.4h4.2v4.2h-4.2zM575.0 569.8h4.2v4.2h-4.2zM579.1 568.1h4.2v4.2h-4.2zM581.3 566.5h4.2v4.2h-4.2zM583.7 563.6h4.2v4.2h-4.2zM587.5 563.8h4.2v4.2h-4.2zM589.4 561.3h4.2v4.2h-4.2zM592.6 558.8h4.2v4.2h-4.2zM596.1 556.8h4.2v4.2h-4.2zM600.1 554.9h4.2v4.2h-4.2zM601.0 552.4h4.2v4.2h-4.2zM603.7 553.1h4.2v4.2h-4.2zM608.4 551.7h4.2v4.2h-4.2zM611.4 547.1h4.2v4.2h-4.2zM614.2 547.6h4.2v4.2h-4.2zM617.2 544.8h4.2v4.2h-4.2zM618.9 542.8h4.2v4.2h-4.2zM623.2 540.3h4.2v4.2h-4.2zM625.1 539.0h4.2v4.2h-4.2zM629.4 538.2h4.2v4.2h-4.2zM632.7 536.6h4.2v4.2h-4.2zM634.1 532.9h4.2v4.2h-4.2zM638.1 531.3h4.2v4.2h-4.2zM641.3 530.9h4.2v4.2h-4.2zM646.3 528.9h4.2v4.2h-4.2zM648.9 525.4h4.2v4.2h-4.2zM650.3 526.4h4.2v4.2h-4.2zM652.5 522.6h4.2v4.2h-4.2zM655.1 519.7h4.2v4.2h-4.2zM660.6 520.7h4.2v4.2h-4.2zM662.7 516.0h4.2v4.2h-4.2zM664.4 514.4h4.2v4.2h-4.2zM668.4 514.0h4.2v4.2h-4.2zM670.6 511.6h4.2v4.2h-4.2zM672.4 509.7h4.2v4.2h-4.2zM677.9 508.5h4.2v4.2h-4.2zM678.0 505.9h4.2v4.2h-4.2zM683.4 503.3h4.2v4.2h-4.2zM687.4 502.2h4.2v4.2h-4.2zM690.3 500.3h4.2v4.2h-4.2zM694.6 499.8h4.2v4.2h-4.2zM696.7 496.1h4.2v4.2h-4.2zM699.4 494.3h4.2v4.2h-4.2zM703.0 495.6h4.2v4.2h-4.2zM704.7 492.9h4.2v4.2h-4.2zM708.8 491.2h4.2v4.2h-4.2zM712.6 491.4h4.2v4.2h-4.2zM715.7 488.5h4.2v4.2h-4.2zM719.9 486.3h4.2v4.2h-4.2zM722.7 485.7h4.2v4.2h-4.2zM726.2 484.6h4.2v4.2h-4.2zM727.9 482.1h4.2v4.2h-4.2zM731.9 480.5h4.2v4.2h-4.2zM737.1 478.7h4.2v4.2h-4.2zM737.5 476.5h4.2v4.2h-4.2zM743.1 476.1h4.2v4.2h-4.2zM746.4 474.2h4.2v4.2h-4.2zM747.8 472.9h4.2v4.2h-4.2zM753.5 470.1h4.2v4.2h-4.2zM757.5 469.3h4.2v4.2h-4.2zM758.3 467.3h4.2v4.2h-4.2zM763.9 463.7h4.2v4.2h-4.2zM767.3 463.2h4.2v4.2h-4.2zM768.9 462.2h4.2v4.2h-4.2zM772.2 459.8h4.2v4.2h-4.2zM776.6 457.0h4.2v4.2h-4.2zM780.4 455.9h4.2v4.2h-4.2zM782.7 455.8h4.2v4.2h-4.2zM785.7 451.7h4.2v4.2h-4.2zM790.4 453.3h4.2v4.2h-4.2zM794.4 452.1h4.2v4.2h-4.2zM797.3 450.8h4.2v4.2h-4.2zM800.3 448.5h4.2v4.2h-4.2zM804.2 446.0h4.2v4.2h-4.2zM806.3 446.6h4.2v4.2h-4.2zM810.0 444.8h4.2v4.2h-4.2zM815.4 442.0h4.2v4.2h-4.2zM818.5 441.5h4.2v4.2h-4.2zM822.1 437.7h4.2v4.2h-4.2zM823.0 436.8h4.2v4.2h-4.2zM827.0 434.8h4.2v4.2h-4.2zM828.7 433.9h4.2v4.2h-4.2zM834.8 431.6h4.2v4.2h-4.2zM837.6 430.3h4.2v4.2h-4.2zM479.3 617.2h4.2v4.2h-4.2zM505.0 617.2h4.2v4.2h-4.2z" fill="#FF0000"/><path d="M505.1 596.8h4.2v4.2h-4.2zM507.7 601.3h4.2v4.2h-4.2zM510.1 603.4h4.2v4.2h-4.2zM513.5 605.9h4.2v4.2h-4.2zM517.2 601.9h4.2v4.2h-4.2zM519.2 600.0h4.2v4.2h-4.2zM520.9 599.0h4.2v4.2h-4.2zM523.2 595.1h4.2v4.2h-4.2zM526.1 591.6h4.2v4.2h-4.2zM528.3 591.6h4.2v4.2h-4.2zM530.8 592.1h4.2v4.2h-4.2zM534.6 590.4h4.2v4.2h-4.2zM535.8 587.0h4.2v4.2h-4.2zM539.2 584.9h4.2v4.2h-4.2zM541.4 585.1h4.2v4.2h-4.2zM543.8 582.5h4.2v4.2h-4.2zM547.5 579.3h4.2v4.2h-4.2zM550.2 576.5h4.2v4.2h-4.2zM553.5 575.0h4.2v4.2h-4.2zM556.3 573.6h4.2v4.2h-4.2zM560.6 573.9h4.2v4.2h-4.2zM562.0 571.3h4.2v4.2h-4.2zM566.5 568.6h4.2v4.2h-4.2zM566.7 566.7h4.2v4.2h-4.2zM569.8 566.4h4.2v4.2h-4.2zM573.2 563.6h4.2v4.2h-4.2zM577.4 561.5h4.2v4.2h-4.2zM580.3 561.1h4.2v4.2h-4.2zM581.8 560.0h4.2v4.2h-4.2zM584.5 558.4h4.2v4.2h-4.2zM589.2 555.2h4.2v4.2h-4.2zM591.3 554.6h4.2v4.2h-4.2zM594.4 552.0h4.2v4.2h-4.2zM597.6 550.6h4.2v4.2h-4.2zM600.1 548.7h4.2v4.2h-4.2zM601.5 545.6h4.2v4.2h-4.2zM605.6 542.8h4.2v4.2h-4.2zM607.5 540.2h4.2v4.2h-4.2zM612.2 538.7h4.2v4.2h-4.2zM613.5 538.5h4.2v4.2h-4.2zM616.2 536.9h4.2v4.2h-4.2zM619.6 532.1h4.2v4.2h-4.2zM623.8 531.3h4.2v4.2h-4.2zM629.2 531.2h4.2v4.2h-4.2zM632.3 528.0h4.2v4.2h-4.2zM635.2 525.6h4.2v4.2h-4.2zM639.7 524.3h4.2v4.2h-4.2zM641.5 523.3h4.2v4.2h-4.2zM643.9 520.6h4.2v4.2h-4.2zM649.3 518.2h4.2v4.2h-4.2zM649.6 516.8h4.2v4.2h-4.2zM652.8 515.8h4.2v4.2h-4.2zM655.7 513.8h4.2v4.2h-4.2zM658.5 511.8h4.2v4.2h-4.2zM662.6 510.4h4.2v4.2h-4.2zM664.7 510.1h4.2v4.2h-4.2zM666.5 506.4h4.2v4.2h-4.2zM671.9 505.6h4.2v4.2h-4.2zM675.2 502.8h4.2v4.2h-4.2zM678.0 503.3h4.2v4.2h-4.2zM680.9 501.3h4.2v4.2h-4.2zM685.4 498.3h4.2v4.2h-4.2zM689.9 496.9h4.2v4.2h-4.2zM691.4 496.3h4.2v4.2h-4.2zM694.2 495.7h4.2v4.2h-4.2zM698.4 493.6h4.2v4.2h-4.2zM701.4 493.6h4.2v4.2h-4.2zM706.3 491.0h4.2v4.2h-4.2zM708.0 487.5h4.2v4.2h-4.2zM711.7 484.2h4.2v4.2h-4.2zM713.7 485.1h4.2v4.2h-4.2zM717.3 483.2h4.2v4.2h-4.2zM722.5 481.4h4.2v4.2h-4.2zM724.0 477.7h4.2v4.2h-4.2zM729.7 475.0h4.2v4.2h-4.2zM730.9 474.4h4.2v4.2h-4.2zM734.6 472.0h4.2v4.2h-4.2zM739.6 470.2h4.2v4.2h-4.2zM744.0 470.2h4.2v4.2h-4.2zM744.4 469.3h4.2v4.2h-4.2zM748.5 466.2h4.2v4.2h-4.2zM752.9 463.4h4.2v4.2h-4.2zM756.2 461.5h4.2v4.2h-4.2zM758.7 462.5h4.2v4.2h-4.2zM764.1 459.6h4.2v4.2h-4.2zM767.1 459.0h4.2v4.2h-4.2zM768.8 455.9h4.2v4.2h-4.2zM772.2 452.8h4.2v4.2h-4.2zM775.5 451.2h4.2v4.2h-4.2zM778.8 449.3h4.2v4.2h-4.2zM783.2 448.7h4.2v4.2h-4.2zM788.2 447.9h4.2v4.2h-4.2zM791.1 444.9h4.2v4.2h-4.2zM795.2 442.1h4.2v4.2h-4.2zM796.0 442.5h4.2v4.2h-4.2zM800.8 439.2h4.2v4.2h-4.2zM803.1 438.1h4.2v4.2h-4.2zM806.4 437.1h4.2v4.2h-4.2zM809.4 436.9h4.2v4.2h-4.2zM813.8 434.8h4.2v4.2h-4.2zM814.4 431.0h4.2v4.2h-4.2zM817.0 430.4h4.2v4.2h-4.2zM817.9 426.0h4.2v4.2h-4.2zM467.9 607.2h4.2v4.2h-4.2zM824.8 434.6h4.2v4.2h-4.2zM832.5 439.8h4.2v4.2h-4.2zM442.2 617.2h4.2v4.2h-4.2zM446.0 617.2h4.2v4.2h-4.2zM449.8 617.2h4.2v4.2h-4.2zM453.6 617.2h4.2v4.2h-4.2zM479.3 617.2h4.2v4.2h-4.2zM482.9 617.2h4.2v4.2h-4.2zM486.4 617.2h4.2v4.2h-4.2zM493.6 617.2h4.2v4.2h-4.2z" fill="#00FF00"/><path d="M499.5 599.0h4.2v4.2h-4.2zM500.2 597.2h4.2v4.2h-4.2zM503.6 594.2h4.2v4.2h-4.2zM505.8 591.4h4.2v4.2h-4.2zM506.9 586.2h4.2v4.2h-4.2zM509.8 585.6h4.2v4.2h-4.2zM511.9 581.8h4.2v4.2h-4.2zM512.2 579.1h4.2v4.2h-4.2zM515.2 579.1h4.2v4.2h-4.2zM519.5 576.2h4.2v4.2h-4.2zM523.7 577.3h4.2v4.2h-4.2zM527.1 576.0h4.2v4.2h-4.2zM528.7 575.6h4.2v4.2h-4.2zM534.0 577.5h4.2v4.2h-4.2zM535.8 578.5h4.2v4.2h-4.2zM539.6 574.8h4.2v4.2h-4.2zM541.9 573.6h4.2v4.2h-4.2zM544.9 571.3h4.2v4.2h-4.2zM546.7 569.2h4.2v4.2h-4.2zM550.0 568.2h4.2v4.2h-4.2zM552.7 564.6h4.2v4.2h-4.2zM556.6 563.1h4.2v4.2h-4.2zM559.4 563.1h4.2v4.2h-4.2zM561.2 560.9h4.2v4.2h-4.2zM566.4 559.1h4.2v4.2h-4.2zM569.2 556.3h4.2v4.2h-4.2zM572.4 554.6h4.2v4.2h-4.2zM575.7 551.9h4.2v4.2h-4.2zM580.0 550.5h4.2v4.2h-4.2zM583.6 550.3h4.2v4.2h-4.2zM586.6 547.6h4.2v4.2h-4.2zM591.1 548.4h4.2v4.2h-4.2zM592.8 545.6h4.2v4.2h-4.2zM597.0 544.4h4.2v4.2h-4.2zM599.9 540.6h4.2v4.2h-4.2zM601.2 540.3h4.2v4.2h-4.2zM604.4 535.6h4.2v4.2h-4.2zM609.0 534.5h4.2v4.2h-4.2zM610.1 533.2h4.2v4.2h-4.2zM612.8 532.8h4.2v4.2h-4.2zM615.9 530.1h4.2v4.2h-4.2zM619.0 529.7h4.2v4.2h-4.2zM620.6 527.1h4.2v4.2h-4.2zM623.8 524.0h4.2v4.2h-4.2zM628.2 523.0h4.2v4.2h-4.2zM629.3 522.0h4.2v4.2h-4.2zM634.9 520.5h4.2v4.2h-4.2zM637.2 519.2h4.2v4.2h-4.2zM642.1 515.3h4.2v4.2h-4.2zM643.7 516.2h4.2v4.2h-4.2zM649.3 511.9h4.2v4.2h-4.2zM651.4 512.4h4.2v4.2h-4.2zM653.9 510.1h4.2v4.2h-4.2zM656.6 506.9h4.2v4.2h-4.2zM658.4 504.6h4.2v4.2h-4.2zM662.7 503.1h4.2v4.2h-4.2zM665.4 502.3h4.2v4.2h-4.2zM667.7 502.4h4.2v4.2h-4.2zM670.4 499.1h4.2v4.2h-4.2zM673.3 496.6h4.2v4.2h-4.2zM675.6 495.9h4.2v4.2h-4.2zM681.1 492.7h4.2v4.2h-4.2zM685.1 492.8h4.2v4.2h-4.2zM685.8 491.1h4.2v4.2h-4.2zM690.5 488.6h4.2v4.2h-4.2zM692.4 486.9h4.2v4.2h-4.2zM696.5 486.1h4.2v4.2h-4.2zM699.6 484.1h4.2v4.2h-4.2zM702.9 480.8h4.2v4.2h-4.2zM703.5 479.9h4.2v4.2h-4.2zM707.1 477.2h4.2v4.2h-4.2zM711.1 476.7h4.2v4.2h-4.2zM715.4 475.4h4.2v4.2h-4.2zM719.9 471.9h4.2v4.2h-4.2zM722.1 470.1h4.2v4.2h-4.2zM725.9 469.5h4.2v4.2h-4.2zM727.6 467.4h4.2v4.2h-4.2zM732.7 466.2h4.2v4.2h-4.2zM737.0 464.1h4.2v4.2h-4.2zM738.5 464.3h4.2v4.2h-4.2zM742.8 459.9h4.2v4.2h-4.2zM746.8 459.1h4.2v4.2h-4.2zM750.7 458.2h4.2v4.2h-4.2zM753.7 457.3h4.2v4.2h-4.2zM756.2 455.9h4.2v4.2h-4.2zM758.1 452.1h4.2v4.2h-4.2zM764.1 449.3h4.2v4.2h-4.2zM767.1 450.8h4.2v4.2h-4.2zM770.6 448.6h4.2v4.2h-4.2zM772.0 445.9h4.2v4.2h-4.2zM777.1 443.8h4.2v4.2h-4.2zM779.9 443.2h4.2v4.2h-4.2zM782.5 438.9h4.2v4.2h-4.2zM787.3 439.9h4.2v4.2h-4.2zM791.5 437.1h4.2v4.2h-4.2zM793.2 435.9h4.2v4.2h-4.2zM795.9 434.1h4.2v4.2h-4.2zM801.7 436.5h4.2v4.2h-4.2zM803.9 436.8h4.2v4.2h-4.2zM804.5 432.9h4.2v4.2h-4.2zM805.9 428.8h4.2v4.2h-4.2zM807.8 425.2h4.2v4.2h-4.2zM810.1 423.8h4.2v4.2h-4.2zM811.9 420.9h4.2v4.2h-4.2zM399.9 625.2h4.2v4.2h-4.2zM418.5 625.2h4.2v4.2h-4.2zM424.2 614.3h4.2v4.2h-4.2zM456.5 624.3h4.2v4.2h-4.2zM465.0 614.3h4.2v4.2h-4.2zM476.5 597.2h4.2v4.2h-4.2zM485.0 624.3h4.2v4.2h-4.2z" fill="#0000FF"/><path d="M487.2 590.5h4.2v4.2h-4.2zM489.3 587.4h4.2v4.2h-4.2zM493.7 584.5h4.2v4.2h-4.2zM497.8 581.0h4.2v4.2h-4.2zM499.1 579.4h4.2v4.2h-4.2zM501.7 578.4h4.2v4.2h-4.2zM505.2 574.4h4.2v4.2h-4.2zM508.4 573.0h4.2v4.2h-4.2zM513.6 573.1h4.2v4.2h-4.2zM516.2 570.0h4.2v4.2h-4.2zM519.6 568.8h4.2v4.2h-4.2zM521.7 566.5h4.2v4.2h-4.2zM525.7 567.5h4.2v4.2h-4.2zM528.3 564.2h4.2v4.2h-4.2zM529.9 561.8h4.2v4.2h-4.2zM533.5 559.8h4.2v4.2h-4.2zM536.4 557.3h4.2v4.2h-4.2zM541.6 557.9h4.2v4.2h-4.2zM545.4 555.1h4.2v4.2h-4.2zM546.4 552.3h4.2v4.2h-4.2zM552.6 553.0h4.2v4.2h-4.2zM555.2 550.3h4.2v4.2h-4.2zM559.2 547.8h4.2v4.2h-4.2zM562.9 546.8h4.2v4.2h-4.2zM566.2 545.4h4.2v4.2h-4.2zM568.4 543.9h4.2v4.2h-4.2zM570.9 541.9h4.2v4.2h-4.2zM575.1 541.1h4.2v4.2h-4.2zM576.2 538.6h4.2v4.2h-4.2zM581.2 537.7h4.2v4.2h-4.2zM583.8 536.6h4.2v4.2h-4.2zM585.5 533.8h4.2v4.2h-4.2zM590.6 531.6h4.2v4.2h-4.2zM595.1 531.5h4.2v4.2h-4.2zM596.1 528.7h4.2v4.2h-4.2zM600.2 527.2h4.2v4.2h-4.2zM601.7 525.9h4.2v4.2h-4.2zM604.6 522.1h4.2v4.2h-4.2zM608.4 522.0h4.2v4.2h-4.2zM610.5 519.8h4.2v4.2h-4.2zM615.2 519.0h4.2v4.2h-4.2zM616.2 517.7h4.2v4.2h-4.2zM619.6 514.3h4.2v4.2h-4.2zM622.7 513.8h4.2v4.2h-4.2zM626.3 511.7h4.2v4.2h-4.2zM628.5 509.1h4.2v4.2h-4.2zM629.3 507.6h4.2v4.2h-4.2zM632.4 507.4h4.2v4.2h-4.2zM636.1 504.6h4.2v4.2h-4.2zM640.1 501.6h4.2v4.2h-4.2zM643.3 500.3h4.2v4.2h-4.2zM643.7 499.5h4.2v4.2h-4.2zM647.6 498.8h4.2v4.2h-4.2zM650.6 494.5h4.2v4.2h-4.2zM652.8 492.5h4.2v4.2h-4.2zM657.9 492.9h4.2v4.2h-4.2zM660.0 489.9h4.2v4.2h-4.2zM664.9 489.9h4.2v4.2h-4.2zM670.1 488.0h4.2v4.2h-4.2zM672.6 485.3h4.2v4.2h-4.2zM674.8 483.6h4.2v4.2h-4.2zM678.2 480.9h4.2v4.2h-4.2zM683.9 479.9h4.2v4.2h-4.2zM687.2 477.8h4.2v4.2h-4.2zM689.3 476.1h4.2v4.2h-4.2zM693.8 473.5h4.2v4.2h-4.2zM698.3 474.1h4.2v4.2h-4.2zM699.7 469.9h4.2v4.2h-4.2zM705.3 469.7h4.2v4.2h-4.2zM707.0 467.5h4.2v4.2h-4.2zM710.4 467.2h4.2v4.2h-4.2zM714.8 464.8h4.2v4.2h-4.2zM716.8 463.3h4.2v4.2h-4.2zM721.1 462.0h4.2v4.2h-4.2zM723.5 460.2h4.2v4.2h-4.2zM728.5 461.4h4.2v4.2h-4.2zM732.1 458.6h4.2v4.2h-4.2zM734.9 455.3h4.2v4.2h-4.2zM736.1 455.3h4.2v4.2h-4.2zM738.5 451.5h4.2v4.2h-4.2zM744.1 450.1h4.2v4.2h-4.2zM745.2 449.0h4.2v4.2h-4.2zM750.4 445.9h4.2v4.2h-4.2zM753.9 445.4h4.2v4.2h-4.2zM756.4 444.4h4.2v4.2h-4.2zM758.4 444.5h4.2v4.2h-4.2zM762.0 442.5h4.2v4.2h-4.2zM767.6 439.4h4.2v4.2h-4.2zM771.3 436.1h4.2v4.2h-4.2zM772.2 435.4h4.2v4.2h-4.2zM774.5 434.3h4.2v4.2h-4.2zM778.5 432.2h4.2v4.2h-4.2zM780.3 427.5h4.2v4.2h-4.2zM783.6 426.9h4.2v4.2h-4.2zM439.3 608.6h4.2v4.2h-4.2zM456.5 607.2h4.2v4.2h-4.2zM470.8 605.8h4.2v4.2h-4.2zM788.8 434.6h4.2v4.2h-4.2z" fill="#00FFFF"/><path d="M449.1 590.6h4.2v4.2h-4.2zM451.2 590.7h4.2v4.2h-4.2zM455.3 592.1h4.2v4.2h-4.2zM457.7 591.1h4.2v4.2h-4.2zM461.7 593.8h4.2v4.2h-4.2zM463.4 589.5h4.2v4.2h-4.2zM467.1 588.2h4.2v4.2h-4.2zM470.0 585.6h4.2v4.2h-4.2zM472.4 581.5h4.2v4.2h-4.2zM475.0 578.5h4.2v4.2h-4.2zM475.2 577.3h4.2v4.2h-4.2zM480.2 577.2h4.2v4.2h-4.2zM483.5 577.2h4.2v4.2h-4.2zM486.4 574.7h4.2v4.2h-4.2zM487.4 574.1h4.2v4.2h-4.2zM491.5 569.9h4.2v4.2h-4.2zM493.8 567.7h4.2v4.2h-4.2zM494.9 567.9h4.2v4.2h-4.2zM500.0 567.0h4.2v4.2h-4.2zM503.0 562.7h4.2v4.2h-4.2zM505.8 563.5h4.2v4.2h-4.2zM508.5 560.0h4.2v4.2h-4.2zM510.1 556.7h4.2v4.2h-4.2zM514.0 557.7h4.2v4.2h-4.2zM515.3 555.3h4.2v4.2h-4.2zM521.1 552.2h4.2v4.2h-4.2zM524.3 549.9h4.2v4.2h-4.2zM525.9 549.5h4.2v4.2h-4.2zM531.0 547.7h4.2v4.2h-4.2zM531.9 547.3h4.2v4.2h-4.2zM536.7 545.2h4.2v4.2h-4.2zM539.0 542.1h4.2v4.2h-4.2zM541.9 540.0h4.2v4.2h-4.2zM546.3 539.0h4.2v4.2h-4.2zM550.3 538.7h4.2v4.2h-4.2zM552.6 537.3h4.2v4.2h-4.2zM557.0 533.8h4.2v4.2h-4.2zM558.4 534.1h4.2v4.2h-4.2zM562.7 529.4h4.2v4.2h-4.2zM565.7 528.8h4.2v4.2h-4.2zM567.7 528.3h4.2v4.2h-4.2zM569.9 525.1h4.2v4.2h-4.2zM573.8 525.1h4.2v4.2h-4.2zM575.2 522.9h4.2v4.2h-4.2zM580.0 518.8h4.2v4.2h-4.2zM582.7 518.2h4.2v4.2h-4.2zM585.7 515.9h4.2v4.2h-4.2zM587.3 514.1h4.2v4.2h-4.2zM589.9 512.2h4.2v4.2h-4.2zM593.3 509.4h4.2v4.2h-4.2zM595.6 508.4h4.2v4.2h-4.2zM599.0 507.4h4.2v4.2h-4.2zM603.7 504.6h4.2v4.2h-4.2zM606.6 503.1h4.2v4.2h-4.2zM609.2 500.6h4.2v4.2h-4.2zM615.1 501.4h4.2v4.2h-4.2zM617.5 497.2h4.2v4.2h-4.2zM618.2 495.3h4.2v4.2h-4.2zM621.5 494.7h4.2v4.2h-4.2zM623.5 493.0h4.2v4.2h-4.2zM628.5 492.6h4.2v4.2h-4.2zM629.8 488.2h4.2v4.2h-4.2zM634.6 487.7h4.2v4.2h-4.2zM635.9 485.2h4.2v4.2h-4.2zM638.6 483.9h4.2v4.2h-4.2zM641.4 482.0h4.2v4.2h-4.2zM645.8 482.1h4.2v4.2h-4.2zM648.7 479.1h4.2v4.2h-4.2zM652.9 478.7h4.2v4.2h-4.2zM657.4 477.4h4.2v4.2h-4.2zM659.0 475.0h4.2v4.2h-4.2zM663.0 472.4h4.2v4.2h-4.2zM667.3 470.6h4.2v4.2h-4.2zM670.2 467.2h4.2v4.2h-4.2zM672.8 468.2h4.2v4.2h-4.2zM679.1 464.9h4.2v4.2h-4.2zM680.1 464.4h4.2v4.2h-4.2zM685.0 461.4h4.2v4.2h-4.2zM688.7 459.8h4.2v4.2h-4.2zM690.7 461.3h4.2v4.2h-4.2zM695.7 461.2h4.2v4.2h-4.2zM698.0 460.5h4.2v4.2h-4.2zM702.7 458.4h4.2v4.2h-4.2zM706.1 456.7h4.2v4.2h-4.2zM706.9 457.1h4.2v4.2h-4.2zM710.5 454.4h4.2v4.2h-4.2zM715.8 453.2h4.2v4.2h-4.2zM717.6 451.8h4.2v4.2h-4.2zM720.5 449.4h4.2v4.2h-4.2zM726.6 447.6h4.2v4.2h-4.2zM728.1 447.3h4.2v4.2h-4.2zM732.9 444.9h4.2v4.2h-4.2zM736.3 443.7h4.2v4.2h-4.2zM738.2 441.6h4.2v4.2h-4.2zM740.8 438.1h4.2v4.2h-4.2zM744.3 437.3h4.2v4.2h-4.2zM747.8 437.6h4.2v4.2h-4.2zM751.8 435.9h4.2v4.2h-4.2zM753.6 433.0h4.2v4.2h-4.2zM757.9 429.5h4.2v4.2h-4.2zM348.5 609.2h4.2v4.2h-4.2zM368.5 609.2h4.2v4.2h-4.2zM414.2 592.0h4.2v4.2h-4.2zM422.8 609.2h4.2v4.2h-4.2zM426.3 609.2h4.2v4.2h-4.2zM429.9 609.2h4.2v4.2h-4.2zM433.4 609.2h4.2v4.2h-4.2zM437.0 609.2h4.2v4.2h-4.2z" fill="#FF00FF"/><path d="M429.4 586.3h4.2v4.2h-4.2zM430.7 582.5h4.2v4.2h-4.2zM432.2 580.8h4.2v4.2h-4.2zM438.0 578.7h4.2v4.2h-4.2zM439.9 577.8h4.2v4.2h-4.2zM440.8 573.7h4.2v4.2h-4.2zM445.5 574.1h4.2v4.2h-4.2zM449.0 576.3h4.2v4.2h-4.2zM451.8 577.1h4.2v4.2h-4.2zM455.8 577.7h4.2v4.2h-4.2zM458.3 575.3h4.2v4.2h-4.2zM461.9 572.5h4.2v4.2h-4.2zM466.5 568.9h4.2v4.2h-4.2zM467.3 567.2h4.2v4.2h-4.2zM474.2 567.2h4.2v4.2h-4.2zM477.3 565.7h4.2v4.2h-4.2zM480.8 565.3h4.2v4.2h-4.2zM482.6 562.5h4.2v4.2h-4.2zM483.8 558.8h4.2v4.2h-4.2zM487.0 559.3h4.2v4.2h-4.2zM491.9 557.7h4.2v4.2h-4.2zM494.8 553.5h4.2v4.2h-4.2zM494.9 552.5h4.2v4.2h-4.2zM497.8 551.8h4.2v4.2h-4.2zM503.5 551.1h4.2v4.2h-4.2zM503.8 548.6h4.2v4.2h-4.2zM508.4 546.8h4.2v4.2h-4.2zM510.5 543.8h4.2v4.2h-4.2zM514.8 544.2h4.2v4.2h-4.2zM517.2 541.0h4.2v4.2h-4.2zM517.8 538.2h4.2v4.2h-4.2zM521.3 536.1h4.2v4.2h-4.2zM524.1 535.4h4.2v4.2h-4.2zM528.5 531.9h4.2v4.2h-4.2zM532.8 529.5h4.2v4.2h-4.2zM536.5 529.6h4.2v4.2h-4.2zM539.1 526.9h4.2v4.2h-4.2zM542.8 527.0h4.2v4.2h-4.2zM544.8 522.8h4.2v4.2h-4.2zM550.3 521.4h4.2v4.2h-4.2zM551.7 520.4h4.2v4.2h-4.2zM555.5 517.7h4.2v4.2h-4.2zM558.7 515.6h4.2v4.2h-4.2zM563.2 515.4h4.2v4.2h-4.2zM565.6 512.8h4.2v4.2h-4.2zM568.8 513.2h4.2v4.2h-4.2zM572.4 508.5h4.2v4.2h-4.2zM573.0 507.0h4.2v4.2h-4.2zM576.4 507.1h4.2v4.2h-4.2zM579.7 504.4h4.2v4.2h-4.2zM583.6 503.6h4.2v4.2h-4.2zM586.6 501.3h4.2v4.2h-4.2zM588.3 498.2h4.2v4.2h-4.2zM590.8 498.0h4.2v4.2h-4.2zM592.7 495.9h4.2v4.2h-4.2zM595.3 493.4h4.2v4.2h-4.2zM599.6 491.4h4.2v4.2h-4.2zM601.8 488.7h4.2v4.2h-4.2zM606.0 488.4h4.2v4.2h-4.2zM609.8 485.1h4.2v4.2h-4.2zM613.1 483.7h4.2v4.2h-4.2zM616.0 482.8h4.2v4.2h-4.2zM620.7 480.2h4.2v4.2h-4.2zM622.7 480.3h4.2v4.2h-4.2zM626.4 476.0h4.2v4.2h-4.2zM630.8 476.3h4.2v4.2h-4.2zM636.4 474.4h4.2v4.2h-4.2zM637.7 472.9h4.2v4.2h-4.2zM640.7 468.8h4.2v4.2h-4.2zM644.5 468.4h4.2v4.2h-4.2zM649.6 466.9h4.2v4.2h-4.2zM654.4 465.5h4.2v4.2h-4.2zM657.3 461.9h4.2v4.2h-4.2zM661.4 462.5h4.2v4.2h-4.2zM664.7 458.0h4.2v4.2h-4.2zM667.9 457.6h4.2v4.2h-4.2zM670.9 455.1h4.2v4.2h-4.2zM675.2 455.3h4.2v4.2h-4.2zM678.8 452.3h4.2v4.2h-4.2zM682.2 450.1h4.2v4.2h-4.2zM685.6 448.5h4.2v4.2h-4.2zM686.7 447.7h4.2v4.2h-4.2zM692.1 449.5h4.2v4.2h-4.2zM694.8 447.5h4.2v4.2h-4.2zM698.5 447.1h4.2v4.2h-4.2zM703.0 446.0h4.2v4.2h-4.2zM704.3 442.6h4.2v4.2h-4.2zM709.5 441.8h4.2v4.2h-4.2zM712.5 442.2h4.2v4.2h-4.2zM714.0 438.5h4.2v4.2h-4.2zM718.3 439.1h4.2v4.2h-4.2zM723.4 438.6h4.2v4.2h-4.2zM725.3 436.4h4.2v4.2h-4.2zM731.0 434.5h4.2v4.2h-4.2zM733.8 433.0h4.2v4.2h-4.2zM737.3 432.9h4.2v4.2h-4.2zM319.9 609.2h4.2v4.2h-4.2zM327.9 609.2h4.2v4.2h-4.2zM334.9 609.2h4.2v4.2h-4.2zM342.9 609.2h4.2v4.2h-4.2zM349.9 609.2h4.2v4.2h-4.2zM356.9 609.2h4.2v4.2h-4.2zM397.0 598.6h4.2v4.2h-4.2zM408.5 592.9h4.2v4.2h-4.2zM431.3 585.8h4.2v4.2h-4.2zM438.5 574.3h4.2v4.2h-4.2zM742.5 440.6h4.2v4.2h-4.2zM371.3 609.2h4.2v4.2h-4.2zM375.6 609.2h4.2v4.2h-4.2zM379.9 609.2h4.2v4.2h-4.2zM399.9 587.2h4.2v4.2h-4.2zM403.3 587.2h4.2v4.2h-4.2zM406.7 587.2h4.2v4.2h-4.2zM410.1 587.2h4.2v4.2h-4.2zM413.5 587.2h4.2v4.2h-4.2zM416.9 587.2h4.2v4.2h-4.2zM419.9 598.6h4.2v4.2h-4.2zM423.5 598.6h4.2v4.2h-4.2zM427.0 598.6h4.2v4.2h-4.2zM430.6 598.6h4.2v4.2h-4.2zM434.2 598.6h4.2v4.2h-4.2z" fill="#FF8000"/><path d="M340.0 591.3h4.2v4.2h-4.2zM343.5 592.4h4.2v4.2h-4.2zM347.4 591.2h4.2v4.2h-4.2zM350.4 593.1h4.2v4.2h-4.2zM350.7 589.1h4.2v4.2h-4.2zM354.3 585.1h4.2v4.2h-4.2zM355.2 581.4h4.2v4.2h-4.2zM359.4 580.1h4.2v4.2h-4.2zM362.4 576.4h4.2v4.2h-4.2zM365.2 575.1h4.2v4.2h-4.2zM366.1 573.1h4.2v4.2h-4.2zM371.6 571.7h4.2v4.2h-4.2zM372.9 569.9h4.2v4.2h-4.2zM377.0 570.1h4.2v4.2h-4.2zM381.9 571.8h4.2v4.2h-4.2zM383.8 572.7h4.2v4.2h-4.2zM386.5 569.8h4.2v4.2h-4.2zM391.8 570.7h4.2v4.2h-4.2zM392.8 568.7h4.2v4.2h-4.2zM395.5 566.0h4.2v4.2h-4.2zM398.8 562.8h4.2v4.2h-4.2zM402.0 562.4h4.2v4.2h-4.2zM406.7 558.7h4.2v4.2h-4.2zM407.8 555.9h4.2v4.2h-4.2zM410.4 554.3h4.2v4.2h-4.2zM415.2 553.9h4.2v4.2h-4.2zM416.1 549.9h4.2v4.2h-4.2zM421.4 550.0h4.2v4.2h-4.2zM427.1 551.4h4.2v4.2h-4.2zM426.3 547.2h4.2v4.2h-4.2zM430.0 545.5h4.2v4.2h-4.2zM432.1 543.5h4.2v4.2h-4.2zM432.9 539.9h4.2v4.2h-4.2zM439.3 537.5h4.2v4.2h-4.2zM441.2 537.6h4.2v4.2h-4.2zM444.6 535.9h4.2v4.2h-4.2zM448.1 533.3h4.2v4.2h-4.2zM452.4 533.8h4.2v4.2h-4.2zM456.9 531.8h4.2v4.2h-4.2zM460.5 529.4h4.2v4.2h-4.2zM465.2 528.2h4.2v4.2h-4.2zM467.6 524.7h4.2v4.2h-4.2zM470.0 524.6h4.2v4.2h-4.2zM475.8 523.2h4.2v4.2h-4.2zM476.5 521.7h4.2v4.2h-4.2zM480.5 519.3h4.2v4.2h-4.2zM484.0 515.8h4.2v4.2h-4.2zM488.7 515.4h4.2v4.2h-4.2zM491.1 514.4h4.2v4.2h-4.2zM493.9 511.8h4.2v4.2h-4.2zM495.9 510.4h4.2v4.2h-4.2zM498.5 507.8h4.2v4.2h-4.2zM503.9 506.3h4.2v4.2h-4.2zM507.2 505.6h4.2v4.2h-4.2zM509.9 504.2h4.2v4.2h-4.2zM513.1 499.9h4.2v4.2h-4.2zM517.6 500.6h4.2v4.2h-4.2zM520.1 499.4h4.2v4.2h-4.2zM521.9 496.1h4.2v4.2h-4.2zM525.4 495.8h4.2v4.2h-4.2zM527.2 493.7h4.2v4.2h-4.2zM532.2 490.4h4.2v4.2h-4.2zM532.1 488.4h4.2v4.2h-4.2zM536.9 486.8h4.2v4.2h-4.2zM540.8 484.7h4.2v4.2h-4.2zM543.5 483.8h4.2v4.2h-4.2zM547.1 482.4h4.2v4.2h-4.2zM548.1 482.0h4.2v4.2h-4.2zM552.3 481.4h4.2v4.2h-4.2zM557.5 477.8h4.2v4.2h-4.2zM560.0 477.3h4.2v4.2h-4.2zM564.5 475.0h4.2v4.2h-4.2zM567.4 474.4h4.2v4.2h-4.2zM571.1 473.1h4.2v4.2h-4.2zM574.1 470.8h4.2v4.2h-4.2zM577.6 470.9h4.2v4.2h-4.2zM581.5 466.3h4.2v4.2h-4.2zM584.7 466.7h4.2v4.2h-4.2zM589.2 462.7h4.2v4.2h-4.2zM591.9 462.0h4.2v4.2h-4.2zM596.8 459.7h4.2v4.2h-4.2zM600.6 459.6h4.2v4.2h-4.2zM601.3 457.2h4.2v4.2h-4.2zM606.6 456.2h4.2v4.2h-4.2zM611.3 453.4h4.2v4.2h-4.2zM614.7 451.3h4.2v4.2h-4.2zM618.2 450.4h4.2v4.2h-4.2zM619.2 450.4h4.2v4.2h-4.2zM625.8 448.1h4.2v4.2h-4.2zM628.8 445.5h4.2v4.2h-4.2zM630.7 444.9h4.2v4.2h-4.2zM636.0 442.2h4.2v4.2h-4.2zM638.2 440.7h4.2v4.2h-4.2zM641.4 441.2h4.2v4.2h-4.2zM644.2 437.4h4.2v4.2h-4.2zM648.3 438.8h4.2v4.2h-4.2zM653.1 437.7h4.2v4.2h-4.2zM657.1 437.0h4.2v4.2h-4.2zM660.4 433.5h4.2v4.2h-4.2zM662.4 434.1h4.2v4.2h-4.2zM666.0 433.0h4.2v4.2h-4.2zM670.8 432.9h4.2v4.2h-4.2zM325.6 600.9h4.2v4.2h-4.2zM329.9 612.3h4.2v4.2h-4.2zM347.9 595.0h4.2v4.2h-4.2zM353.6 595.0h4.2v4.2h-4.2zM367.9 582.2h4.2v4.2h-4.2zM262.8 612.3h4.2v4.2h-4.2zM266.0 612.3h4.2v4.2h-4.2zM269.2 612.3h4.2v4.2h-4.2zM272.4 612.3h4.2v4.2h-4.2zM275.6 612.3h4.2v4.2h-4.2zM309.9 600.9h4.2v4.2h-4.2zM314.2 600.9h4.2v4.2h-4.2zM318.5 600.9h4.2v4.2h-4.2z" fill="#8000FF"/><path d="M259.6 591.2h4.2v4.2h-4.2zM261.4 591.3h4.2v4.2h-4.2zM264.5 591.6h4.2v4.2h-4.2zM268.0 588.3h4.2v4.2h-4.2zM269.1 586.8h4.2v4.2h-4.2zM271.2 582.6h4.2v4.2h-4.2zM270.5 581.2h4.2v4.2h-4.2zM274.2 576.9h4.2v4.2h-4.2zM277.6 576.4h4.2v4.2h-4.2zM281.4 572.5h4.2v4.2h-4.2zM282.0 574.0h4.2v4.2h-4.2zM285.0 575.8h4.2v4.2h-4.2zM289.8 579.0h4.2v4.2h-4.2zM289.9 574.5h4.2v4.2h-4.2zM293.2 574.4h4.2v4.2h-4.2zM295.6 571.0h4.2v4.2h-4.2zM297.1 566.2h4.2v4.2h-4.2zM301.3 562.9h4.2v4.2h-4.2zM303.7 563.0h4.2v4.2h-4.2zM307.0 562.3h4.2v4.2h-4.2zM312.4 559.1h4.2v4.2h-4.2zM313.5 557.1h4.2v4.2h-4.2zM316.9 554.7h4.2v4.2h-4.2zM320.8 556.6h4.2v4.2h-4.2zM324.2 559.9h4.2v4.2h-4.2zM323.2 556.4h4.2v4.2h-4.2zM326.7 552.3h4.2v4.2h-4.2zM329.7 550.3h4.2v4.2h-4.2zM332.4 547.9h4.2v4.2h-4.2zM334.9 546.5h4.2v4.2h-4.2zM340.4 546.4h4.2v4.2h-4.2zM344.3 543.3h4.2v4.2h-4.2zM348.4 544.5h4.2v4.2h-4.2zM351.9 543.0h4.2v4.2h-4.2zM354.6 541.9h4.2v4.2h-4.2zM355.9 537.7h4.2v4.2h-4.2zM357.9 536.4h4.2v4.2h-4.2zM360.5 533.8h4.2v4.2h-4.2zM363.6 533.9h4.2v4.2h-4.2zM367.7 534.5h4.2v4.2h-4.2zM369.8 532.5h4.2v4.2h-4.2zM374.9 531.8h4.2v4.2h-4.2zM377.0 529.8h4.2v4.2h-4.2zM378.9 525.1h4.2v4.2h-4.2zM382.9 524.3h4.2v4.2h-4.2zM385.3 523.2h4.2v4.2h-4.2zM390.2 523.1h4.2v4.2h-4.2zM392.6 521.2h4.2v4.2h-4.2zM397.4 520.6h4.2v4.2h-4.2zM400.1 518.1h4.2v4.2h-4.2zM403.7 514.9h4.2v4.2h-4.2zM406.5 513.6h4.2v4.2h-4.2zM407.5 513.4h4.2v4.2h-4.2zM411.2 510.6h4.2v4.2h-4.2zM412.9 507.9h4.2v4.2h-4.2zM416.3 506.3h4.2v4.2h-4.2zM420.5 504.8h4.2v4.2h-4.2zM422.4 504.1h4.2v4.2h-4.2zM426.3 503.9h4.2v4.2h-4.2zM428.9 500.5h4.2v4.2h-4.2zM430.1 500.2h4.2v4.2h-4.2zM434.5 498.8h4.2v4.2h-4.2zM437.7 496.8h4.2v4.2h-4.2zM441.7 493.6h4.2v4.2h-4.2zM444.8 493.3h4.2v4.2h-4.2zM449.4 490.9h4.2v4.2h-4.2zM454.0 487.5h4.2v4.2h-4.2zM456.6 486.7h4.2v4.2h-4.2zM459.3 486.5h4.2v4.2h-4.2zM462.8 483.3h4.2v4.2h-4.2zM467.0 480.6h4.2v4.2h-4.2zM470.2 478.4h4.2v4.2h-4.2zM474.4 479.0h4.2v4.2h-4.2zM479.5 478.6h4.2v4.2h-4.2zM480.9 477.2h4.2v4.2h-4.2zM483.7 473.2h4.2v4.2h-4.2zM488.7 473.5h4.2v4.2h-4.2zM492.5 470.0h4.2v4.2h-4.2zM495.4 470.0h4.2v4.2h-4.2zM498.9 469.4h4.2v4.2h-4.2zM503.7 465.5h4.2v4.2h-4.2zM506.3 465.7h4.2v4.2h-4.2zM510.9 463.8h4.2v4.2h-4.2zM515.1 462.3h4.2v4.2h-4.2zM516.8 460.8h4.2v4.2h-4.2zM521.1 458.2h4.2v4.2h-4.2zM524.6 456.9h4.2v4.2h-4.2zM528.6 454.2h4.2v4.2h-4.2zM532.4 452.6h4.2v4.2h-4.2zM535.8 452.8h4.2v4.2h-4.2zM538.7 448.9h4.2v4.2h-4.2zM543.5 447.7h4.2v4.2h-4.2zM544.9 445.4h4.2v4.2h-4.2zM549.1 444.7h4.2v4.2h-4.2zM553.9 442.2h4.2v4.2h-4.2zM556.1 442.4h4.2v4.2h-4.2zM558.6 440.1h4.2v4.2h-4.2zM562.5 440.2h4.2v4.2h-4.2zM566.6 437.1h4.2v4.2h-4.2zM569.6 436.3h4.2v4.2h-4.2zM574.3 434.5h4.2v4.2h-4.2zM575.0 433.5h4.2v4.2h-4.2zM577.9 433.7h4.2v4.2h-4.2zM582.2 431.5h4.2v4.2h-4.2zM152.8 609.2h4.2v4.2h-4.2zM195.6 598.6h4.2v4.2h-4.2zM586.5 435.8h4.2v4.2h-4.2zM592.2 444.3h4.2v4.2h-4.2zM596.5 448.6h4.2v4.2h-4.2zM236.9 598.6h4.2v4.2h-4.2zM240.8 598.6h4.2v4.2h-4.2zM244.6 598.6h4.2v4.2h-4.2zM248.5 598.6h4.2v4.2h-4.2z" fill="#800000"/><path d="M457.1 659.3L471.1 649.5L485.3 639.7L499.7 629.9L514.3 620.1L529.1 610.3L544.1 600.4L559.4 590.6L574.8 580.8L590.4 571.0L606.3 561.2L622.3 551.4L638.5 541.6L655.0 531.8L671.6 522.0L688.5 512.2L705.5 502.4L722.8 492.6L740.3 482.8L757.9 472.9L775.8 463.1L793.9 453.3L812.1 443.5L830.6 433.7L849.3 423.9" fill="none" stroke="#000000" stroke-width="1.2"/><path d="M454.3 657.9L467.5 648.2L481.0 638.5L494.7 628.8L508.7 619.0L522.9 609.3L537.4 599.6L552.1 589.9L567.1 580.2L582.3 570.5L597.8 560.7L613.6 551.0L629.6 541.3L645.9 531.6L662.4 521.9L679.2 512.1L696.2 502.4L713.5 492.7L731.0 483.0L748.8 473.3L766.8 463.6L785.1 453.9L803.7 444.1L822.5 434.4L841.5 424.7" fill="none" stroke="#FF0000" stroke-width="1.2"/><path d="M442.9 657.9L456.2 648.1L469.8 638.2L483.6 628.4L497.7 618.6L512.0 608.8L526.7 599.0L541.5 589.1L556.7 579.3L572.1 569.5L587.8 559.6L603.7 549.8L619.9 540.0L636.3 530.2L653.0 520.4L670.0 510.5L687.3 500.7L704.8 490.9L722.5 481.1L740.6 471.2L758.9 461.4L777.4 451.6L796.2 441.8L815.3 431.9L834.7 422.1" fill="none" stroke="#00FF00" stroke-width="1.2"/><path d="M423.4 659.3L436.7 649.5L450.4 639.8L464.2 630.0L478.4 620.2L492.7 610.4L507.4 600.6L522.2 590.9L537.4 581.1L552.7 571.3L568.3 561.5L584.2 551.8L600.3 542.0L616.7 532.2L633.3 522.4L650.2 512.7L667.3 502.9L684.6 493.1L702.2 483.3L720.1 473.6L738.2 463.8L756.6 454.0L775.2 444.2L794.0 434.5L813.1 424.7" fill="none" stroke="#0000FF" stroke-width="1.2"/><path d="M440.0 636.4L451.5 627.6L463.3 618.9L475.3 610.1L487.6 601.3L500.2 592.6L513.0 583.8L526.2 575.0L539.5 566.3L553.2 557.5L567.1 548.7L581.3 540.0L595.8 531.2L610.5 522.4L625.5 513.7L640.7 504.9L656.2 496.1L672.0 487.4L688.1 478.6L704.4 469.8L721.0 461.1L737.9 452.3L755.0 443.5L772.4 434.8L790.1 426.0" fill="none" stroke="#00FFFF" stroke-width="1.2"/><path d="M374.9 659.3L386.9 649.7L399.4 640.0L412.1 630.4L425.2 620.8L438.7 611.1L452.5 601.5L466.7 591.8L481.3 582.2L496.2 572.6L511.4 562.9L527.0 553.3L543.0 543.6L559.3 534.0L575.9 524.4L593.0 514.7L610.3 505.1L628.1 495.5L646.1 485.8L664.6 476.2L683.4 466.5L702.5 456.9L722.0 447.3L741.9 437.6L762.1 428.0" fill="none" stroke="#FF00FF" stroke-width="1.2"/><path d="M332.0 659.3L346.1 649.5L360.5 639.6L375.1 629.8L390.1 619.9L405.3 610.1L420.7 600.2L436.5 590.4L452.5 580.5L468.8 570.7L485.3 560.8L502.1 551.0L519.2 541.1L536.6 531.3L554.2 521.5L572.1 511.6L590.3 501.8L608.8 491.9L627.5 482.1L646.5 472.2L665.7 462.4L685.3 452.5L705.1 442.7L725.1 432.8L745.5 423.0" fill="none" stroke="#FF8000" stroke-width="1.2"/><path d="M266.3 649.3L279.9 640.0L293.8 630.7L308.1 621.4L322.6 612.1L337.3 602.9L352.4 593.6L367.8 584.3L383.4 575.0L399.4 565.7L415.6 556.4L432.1 547.1L448.9 537.8L466.0 528.6L483.4 519.3L501.1 510.0L519.0 500.7L537.2 491.4L555.8 482.1L574.6 472.8L593.7 463.5L613.1 454.3L632.8 445.0L652.7 435.7L673.0 426.4" fill="none" stroke="#8000FF" stroke-width="1.2"/><path d="M162.0 659.3L175.4 649.7L189.3 640.0L203.5 630.4L218.2 620.7L233.3 611.1L248.8 601.4L264.7 591.8L281.1 582.2L297.8 572.5L315.0 562.9L332.5 553.2L350.5 543.6L368.9 534.0L387.7 524.3L406.9 514.7L426.6 505.0L446.6 495.4L467.1 485.8L488.0 476.1L509.3 466.5L531.0 456.8L553.1 447.2L575.6 437.5L598.6 427.9" fill="none" stroke="#800000" stroke-width="1.2"/></g>
<g clip-path="url(#cp3)"><path d="M575.5 1004.5h4.6v4.6h-4.6zM577.6 1000.5h4.6v4.6h-4.6zM580.3 994.4h4.6v4.6h-4.6zM579.8 993.0h4.6v4.6h-4.6zM582.4 986.6h4.6v4.6h-4.6zM586.7 983.3h4.6v4.6h-4.6zM587.9 979.2h4.6v4.6h-4.6zM588.9 973.8h4.6v4.6h-4.6zM590.6 972.2h4.6v4.6h-4.6zM592.2 967.9h4.6v4.6h-4.6zM594.8 961.7h4.6v4.6h-4.6zM597.1 959.7h4.6v4.6h-4.6zM597.5 953.9h4.6v4.6h-4.6zM601.5 951.6h4.6v4.6h-4.6zM603.0 949.2h4.6v4.6h-4.6zM605.0 945.6h4.6v4.6h-4.6zM605.9 941.3h4.6v4.6h-4.6zM607.9 937.6h4.6v4.6h-4.6zM611.3 930.4h4.6v4.6h-4.6zM610.4 926.6h4.6v4.6h-4.6zM615.2 923.2h4.6v4.6h-4.6zM615.8 918.5h4.6v4.6h-4.6zM617.2 914.6h4.6v4.6h-4.6zM619.1 911.1h4.6v4.6h-4.6zM622.3 908.1h4.6v4.6h-4.6zM625.1 903.9h4.6v4.6h-4.6zM627.9 899.7h4.6v4.6h-4.6zM629.5 892.2h4.6v4.6h-4.6zM632.4 890.6h4.6v4.6h-4.6zM634.9 884.6h4.6v4.6h-4.6zM636.4 878.8h4.6v4.6h-4.6zM639.1 875.6h4.6v4.6h-4.6zM639.4 869.3h4.6v4.6h-4.6zM643.7 868.1h4.6v4.6h-4.6zM643.2 863.3h4.6v4.6h-4.6zM646.6 856.9h4.6v4.6h-4.6zM648.4 855.1h4.6v4.6h-4.6zM652.7 848.5h4.6v4.6h-4.6zM655.1 845.5h4.6v4.6h-4.6zM658.8 843.5h4.6v4.6h-4.6zM661.3 841.1h4.6v4.6h-4.6zM572.0 1017.4h4.6v4.6h-4.6zM660.5 865.5h4.6v4.6h-4.6zM662.7 841.4h4.6v4.6h-4.6z" fill="#000000"/><path d="M578.1 978.6h4.6v4.6h-4.6zM578.5 977.4h4.6v4.6h-4.6zM579.5 972.8h4.6v4.6h-4.6zM582.3 971.3h4.6v4.6h-4.6zM582.6 971.4h4.6v4.6h-4.6zM585.8 969.2h4.6v4.6h-4.6zM585.1 970.0h4.6v4.6h-4.6zM587.4 968.5h4.6v4.6h-4.6zM590.8 964.7h4.6v4.6h-4.6zM590.5 963.4h4.6v4.6h-4.6zM592.5 961.9h4.6v4.6h-4.6zM593.5 960.3h4.6v4.6h-4.6zM596.2 958.1h4.6v4.6h-4.6zM595.7 957.2h4.6v4.6h-4.6zM596.3 953.9h4.6v4.6h-4.6zM600.3 953.0h4.6v4.6h-4.6zM599.9 949.0h4.6v4.6h-4.6zM600.5 948.8h4.6v4.6h-4.6zM600.1 946.8h4.6v4.6h-4.6zM603.4 942.6h4.6v4.6h-4.6zM604.5 941.9h4.6v4.6h-4.6zM605.7 939.3h4.6v4.6h-4.6zM607.2 938.5h4.6v4.6h-4.6zM606.0 933.8h4.6v4.6h-4.6zM609.7 934.9h4.6v4.6h-4.6zM609.5 930.8h4.6v4.6h-4.6zM612.0 928.2h4.6v4.6h-4.6zM612.3 925.9h4.6v4.6h-4.6zM613.4 924.8h4.6v4.6h-4.6zM614.2 921.8h4.6v4.6h-4.6zM617.0 918.4h4.6v4.6h-4.6zM617.4 918.7h4.6v4.6h-4.6zM617.5 914.7h4.6v4.6h-4.6zM620.4 912.6h4.6v4.6h-4.6zM619.3 911.1h4.6v4.6h-4.6zM622.2 907.7h4.6v4.6h-4.6zM622.0 906.4h4.6v4.6h-4.6zM624.9 904.6h4.6v4.6h-4.6zM626.1 901.4h4.6v4.6h-4.6zM625.3 901.0h4.6v4.6h-4.6zM628.4 898.1h4.6v4.6h-4.6zM627.1 894.7h4.6v4.6h-4.6zM629.2 892.8h4.6v4.6h-4.6zM631.3 892.9h4.6v4.6h-4.6zM630.2 888.7h4.6v4.6h-4.6zM633.5 887.8h4.6v4.6h-4.6zM634.6 884.6h4.6v4.6h-4.6zM633.3 882.2h4.6v4.6h-4.6zM636.8 879.9h4.6v4.6h-4.6zM636.2 878.3h4.6v4.6h-4.6zM637.6 876.1h4.6v4.6h-4.6zM640.5 873.0h4.6v4.6h-4.6zM638.3 873.6h4.6v4.6h-4.6zM642.6 871.6h4.6v4.6h-4.6zM642.1 869.3h4.6v4.6h-4.6zM644.9 864.5h4.6v4.6h-4.6zM645.4 864.5h4.6v4.6h-4.6zM646.2 861.2h4.6v4.6h-4.6zM645.9 858.4h4.6v4.6h-4.6zM646.8 855.2h4.6v4.6h-4.6zM649.2 853.8h4.6v4.6h-4.6zM651.0 850.7h4.6v4.6h-4.6zM652.5 850.9h4.6v4.6h-4.6zM653.3 849.4h4.6v4.6h-4.6zM654.0 846.1h4.6v4.6h-4.6zM651.6 844.5h4.6v4.6h-4.6zM653.0 840.7h4.6v4.6h-4.6zM655.5 839.4h4.6v4.6h-4.6zM655.4 838.7h4.6v4.6h-4.6zM656.5 834.9h4.6v4.6h-4.6zM572.0 987.9h4.6v4.6h-4.6zM575.6 987.9h4.6v4.6h-4.6zM579.3 987.9h4.6v4.6h-4.6zM582.9 987.9h4.6v4.6h-4.6z" fill="#00FF00"/><path d="M569.1 989.2h4.6v4.6h-4.6zM571.0 986.7h4.6v4.6h-4.6zM571.7 982.4h4.6v4.6h-4.6zM573.4 982.4h4.6v4.6h-4.6zM573.2 980.2h4.6v4.6h-4.6zM577.0 978.0h4.6v4.6h-4.6zM577.8 972.9h4.6v4.6h-4.6zM578.1 973.8h4.6v4.6h-4.6zM577.1 969.5h4.6v4.6h-4.6zM579.0 968.3h4.6v4.6h-4.6zM580.6 965.9h4.6v4.6h-4.6zM583.0 962.0h4.6v4.6h-4.6zM581.5 960.3h4.6v4.6h-4.6zM582.8 957.9h4.6v4.6h-4.6zM587.0 958.6h4.6v4.6h-4.6zM585.1 955.1h4.6v4.6h-4.6zM587.3 952.2h4.6v4.6h-4.6zM588.7 951.2h4.6v4.6h-4.6zM590.9 948.0h4.6v4.6h-4.6zM590.8 945.7h4.6v4.6h-4.6zM591.6 944.3h4.6v4.6h-4.6zM594.8 941.5h4.6v4.6h-4.6zM593.6 938.6h4.6v4.6h-4.6zM595.8 937.9h4.6v4.6h-4.6zM598.3 935.0h4.6v4.6h-4.6zM599.5 933.6h4.6v4.6h-4.6zM599.3 930.6h4.6v4.6h-4.6zM600.6 929.6h4.6v4.6h-4.6zM601.4 927.3h4.6v4.6h-4.6zM602.7 923.5h4.6v4.6h-4.6zM604.0 923.0h4.6v4.6h-4.6zM603.5 919.8h4.6v4.6h-4.6zM605.8 919.3h4.6v4.6h-4.6zM608.7 915.3h4.6v4.6h-4.6zM609.7 914.6h4.6v4.6h-4.6zM608.5 911.2h4.6v4.6h-4.6zM609.1 910.3h4.6v4.6h-4.6zM612.1 908.4h4.6v4.6h-4.6zM613.7 905.4h4.6v4.6h-4.6zM614.5 902.9h4.6v4.6h-4.6zM613.4 900.8h4.6v4.6h-4.6zM614.1 897.0h4.6v4.6h-4.6zM618.0 894.4h4.6v4.6h-4.6zM616.6 892.5h4.6v4.6h-4.6zM620.6 890.6h4.6v4.6h-4.6zM618.6 890.8h4.6v4.6h-4.6zM620.0 888.6h4.6v4.6h-4.6zM623.1 886.4h4.6v4.6h-4.6zM625.2 883.3h4.6v4.6h-4.6zM625.8 879.1h4.6v4.6h-4.6zM626.7 878.6h4.6v4.6h-4.6zM627.6 875.0h4.6v4.6h-4.6zM628.8 875.8h4.6v4.6h-4.6zM627.5 871.4h4.6v4.6h-4.6zM630.3 871.0h4.6v4.6h-4.6zM630.3 866.4h4.6v4.6h-4.6zM631.4 865.8h4.6v4.6h-4.6zM634.3 862.9h4.6v4.6h-4.6zM634.0 860.7h4.6v4.6h-4.6zM635.1 858.6h4.6v4.6h-4.6zM635.2 856.7h4.6v4.6h-4.6zM639.5 854.2h4.6v4.6h-4.6zM640.0 851.1h4.6v4.6h-4.6zM641.1 851.1h4.6v4.6h-4.6zM642.3 848.0h4.6v4.6h-4.6zM642.9 846.3h4.6v4.6h-4.6zM645.7 842.3h4.6v4.6h-4.6zM643.8 842.3h4.6v4.6h-4.6zM647.8 839.3h4.6v4.6h-4.6zM647.0 837.8h4.6v4.6h-4.6zM647.1 834.0h4.6v4.6h-4.6zM648.1 833.0h4.6v4.6h-4.6zM649.0 829.6h4.6v4.6h-4.6zM650.9 830.0h4.6v4.6h-4.6zM650.0 826.9h4.6v4.6h-4.6zM650.9 825.2h4.6v4.6h-4.6zM652.0 820.9h4.6v4.6h-4.6zM652.2 819.6h4.6v4.6h-4.6zM565.5 1004.3h4.6v4.6h-4.6zM551.3 1017.4h4.6v4.6h-4.6zM554.8 1017.4h4.6v4.6h-4.6zM561.7 1017.4h4.6v4.6h-4.6zM565.1 1017.4h4.6v4.6h-4.6zM568.5 1017.4h4.6v4.6h-4.6zM572.0 1017.4h4.6v4.6h-4.6z" fill="#00FFFF"/><path d="M571.5 958.8h4.6v4.6h-4.6zM574.3 956.4h4.6v4.6h-4.6zM576.4 955.8h4.6v4.6h-4.6zM576.3 954.1h4.6v4.6h-4.6zM578.5 953.6h4.6v4.6h-4.6zM578.8 950.6h4.6v4.6h-4.6zM580.5 949.8h4.6v4.6h-4.6zM580.4 947.2h4.6v4.6h-4.6zM583.5 944.1h4.6v4.6h-4.6zM581.9 941.0h4.6v4.6h-4.6zM584.6 940.4h4.6v4.6h-4.6zM586.3 938.9h4.6v4.6h-4.6zM584.6 934.3h4.6v4.6h-4.6zM585.6 932.1h4.6v4.6h-4.6zM588.0 932.3h4.6v4.6h-4.6zM590.1 927.9h4.6v4.6h-4.6zM591.3 926.0h4.6v4.6h-4.6zM591.0 925.3h4.6v4.6h-4.6zM591.1 920.8h4.6v4.6h-4.6zM595.1 919.4h4.6v4.6h-4.6zM594.2 918.2h4.6v4.6h-4.6zM596.3 914.0h4.6v4.6h-4.6zM595.9 913.3h4.6v4.6h-4.6zM597.3 910.3h4.6v4.6h-4.6zM598.5 910.8h4.6v4.6h-4.6zM598.7 907.2h4.6v4.6h-4.6zM598.6 904.0h4.6v4.6h-4.6zM601.4 901.2h4.6v4.6h-4.6zM603.1 901.9h4.6v4.6h-4.6zM601.1 899.8h4.6v4.6h-4.6zM603.0 897.0h4.6v4.6h-4.6zM605.3 893.1h4.6v4.6h-4.6zM605.9 892.2h4.6v4.6h-4.6zM607.2 888.6h4.6v4.6h-4.6zM607.9 889.0h4.6v4.6h-4.6zM608.9 885.3h4.6v4.6h-4.6zM608.2 882.9h4.6v4.6h-4.6zM610.4 881.5h4.6v4.6h-4.6zM612.8 878.8h4.6v4.6h-4.6zM612.4 876.9h4.6v4.6h-4.6zM615.1 873.1h4.6v4.6h-4.6zM617.1 872.6h4.6v4.6h-4.6zM615.4 871.4h4.6v4.6h-4.6zM616.6 867.1h4.6v4.6h-4.6zM619.8 865.8h4.6v4.6h-4.6zM620.3 863.8h4.6v4.6h-4.6zM621.3 860.4h4.6v4.6h-4.6zM621.6 857.3h4.6v4.6h-4.6zM624.8 857.6h4.6v4.6h-4.6zM625.5 855.4h4.6v4.6h-4.6zM626.2 851.5h4.6v4.6h-4.6zM627.6 851.5h4.6v4.6h-4.6zM627.7 848.0h4.6v4.6h-4.6zM629.7 846.7h4.6v4.6h-4.6zM631.4 843.0h4.6v4.6h-4.6zM632.9 841.5h4.6v4.6h-4.6zM635.6 838.7h4.6v4.6h-4.6zM637.4 835.7h4.6v4.6h-4.6zM636.8 833.5h4.6v4.6h-4.6zM637.3 834.3h4.6v4.6h-4.6zM639.8 831.6h4.6v4.6h-4.6zM556.7 979.1h4.6v4.6h-4.6zM563.3 983.5h4.6v4.6h-4.6zM574.2 981.3h4.6v4.6h-4.6zM552.3 999.9h4.6v4.6h-4.6zM556.0 999.9h4.6v4.6h-4.6zM559.6 999.9h4.6v4.6h-4.6zM563.3 999.9h4.6v4.6h-4.6zM563.3 974.7h4.6v4.6h-4.6zM566.6 974.7h4.6v4.6h-4.6zM569.8 974.7h4.6v4.6h-4.6z" fill="#808000"/><path d="M547.7 980.0h4.6v4.6h-4.6zM550.2 977.8h4.6v4.6h-4.6zM550.5 973.5h4.6v4.6h-4.6zM550.9 971.4h4.6v4.6h-4.6zM552.4 970.6h4.6v4.6h-4.6zM552.3 967.3h4.6v4.6h-4.6zM555.5 964.3h4.6v4.6h-4.6zM556.9 965.7h4.6v4.6h-4.6zM558.8 962.1h4.6v4.6h-4.6zM558.6 961.1h4.6v4.6h-4.6zM560.3 960.8h4.6v4.6h-4.6zM561.8 956.6h4.6v4.6h-4.6zM563.5 955.0h4.6v4.6h-4.6zM563.6 953.7h4.6v4.6h-4.6zM562.6 951.7h4.6v4.6h-4.6zM566.0 948.5h4.6v4.6h-4.6zM566.6 946.2h4.6v4.6h-4.6zM566.5 944.2h4.6v4.6h-4.6zM567.0 941.9h4.6v4.6h-4.6zM570.3 939.5h4.6v4.6h-4.6zM571.1 939.2h4.6v4.6h-4.6zM573.4 934.1h4.6v4.6h-4.6zM574.2 933.6h4.6v4.6h-4.6zM572.6 930.5h4.6v4.6h-4.6zM574.3 927.3h4.6v4.6h-4.6zM576.5 928.2h4.6v4.6h-4.6zM576.9 925.8h4.6v4.6h-4.6zM579.3 921.0h4.6v4.6h-4.6zM581.0 920.4h4.6v4.6h-4.6zM582.3 918.7h4.6v4.6h-4.6zM582.7 915.2h4.6v4.6h-4.6zM584.1 915.1h4.6v4.6h-4.6zM585.4 911.1h4.6v4.6h-4.6zM586.1 909.1h4.6v4.6h-4.6zM584.8 905.3h4.6v4.6h-4.6zM585.8 903.7h4.6v4.6h-4.6zM587.2 902.6h4.6v4.6h-4.6zM590.2 900.6h4.6v4.6h-4.6zM590.3 898.8h4.6v4.6h-4.6zM591.0 895.9h4.6v4.6h-4.6zM593.7 893.5h4.6v4.6h-4.6zM592.8 893.1h4.6v4.6h-4.6zM595.8 889.0h4.6v4.6h-4.6zM595.6 887.4h4.6v4.6h-4.6zM597.5 884.2h4.6v4.6h-4.6zM596.4 881.9h4.6v4.6h-4.6zM600.3 879.5h4.6v4.6h-4.6zM600.3 877.5h4.6v4.6h-4.6zM600.5 875.2h4.6v4.6h-4.6zM602.3 873.0h4.6v4.6h-4.6zM602.0 870.6h4.6v4.6h-4.6zM603.6 869.8h4.6v4.6h-4.6zM604.3 866.0h4.6v4.6h-4.6zM606.8 865.2h4.6v4.6h-4.6zM608.8 861.7h4.6v4.6h-4.6zM608.8 860.7h4.6v4.6h-4.6zM608.5 860.6h4.6v4.6h-4.6zM610.3 855.2h4.6v4.6h-4.6zM612.3 853.3h4.6v4.6h-4.6zM613.9 851.7h4.6v4.6h-4.6zM613.2 848.5h4.6v4.6h-4.6zM616.5 847.1h4.6v4.6h-4.6zM617.8 845.6h4.6v4.6h-4.6zM619.5 842.8h4.6v4.6h-4.6zM618.1 840.5h4.6v4.6h-4.6zM621.2 839.7h4.6v4.6h-4.6zM621.7 837.0h4.6v4.6h-4.6zM625.2 839.4h4.6v4.6h-4.6zM626.7 837.0h4.6v4.6h-4.6zM539.2 1017.4h4.6v4.6h-4.6zM541.4 1002.1h4.6v4.6h-4.6zM629.9 845.8h4.6v4.6h-4.6zM524.4 1014.1h4.6v4.6h-4.6zM528.6 1014.1h4.6v4.6h-4.6zM537.0 1014.1h4.6v4.6h-4.6zM543.6 990.0h4.6v4.6h-4.6zM552.3 990.0h4.6v4.6h-4.6z" fill="#800080"/><path d="M522.4 986.7h4.6v4.6h-4.6zM523.3 984.1h4.6v4.6h-4.6zM526.7 984.9h4.6v4.6h-4.6zM526.1 983.0h4.6v4.6h-4.6zM528.2 980.2h4.6v4.6h-4.6zM530.9 978.5h4.6v4.6h-4.6zM528.8 974.0h4.6v4.6h-4.6zM531.8 974.1h4.6v4.6h-4.6zM530.8 969.6h4.6v4.6h-4.6zM534.4 966.8h4.6v4.6h-4.6zM533.6 965.4h4.6v4.6h-4.6zM535.5 965.3h4.6v4.6h-4.6zM534.6 962.5h4.6v4.6h-4.6zM537.5 960.6h4.6v4.6h-4.6zM537.7 958.8h4.6v4.6h-4.6zM537.8 954.8h4.6v4.6h-4.6zM538.2 953.9h4.6v4.6h-4.6zM540.5 949.9h4.6v4.6h-4.6zM540.7 949.3h4.6v4.6h-4.6zM543.5 947.1h4.6v4.6h-4.6zM544.1 944.1h4.6v4.6h-4.6zM544.6 942.8h4.6v4.6h-4.6zM545.4 939.7h4.6v4.6h-4.6zM549.3 938.2h4.6v4.6h-4.6zM548.2 934.5h4.6v4.6h-4.6zM552.2 933.7h4.6v4.6h-4.6zM553.7 932.3h4.6v4.6h-4.6zM553.4 930.2h4.6v4.6h-4.6zM555.8 926.0h4.6v4.6h-4.6zM555.8 922.9h4.6v4.6h-4.6zM557.2 923.9h4.6v4.6h-4.6zM557.5 920.3h4.6v4.6h-4.6zM558.6 916.4h4.6v4.6h-4.6zM561.6 914.8h4.6v4.6h-4.6zM560.6 912.3h4.6v4.6h-4.6zM563.8 911.7h4.6v4.6h-4.6zM562.6 908.2h4.6v4.6h-4.6zM567.2 906.0h4.6v4.6h-4.6zM566.8 904.5h4.6v4.6h-4.6zM568.7 903.0h4.6v4.6h-4.6zM569.8 900.6h4.6v4.6h-4.6zM568.7 897.1h4.6v4.6h-4.6zM569.4 897.3h4.6v4.6h-4.6zM570.6 892.2h4.6v4.6h-4.6zM575.0 890.6h4.6v4.6h-4.6zM576.1 888.0h4.6v4.6h-4.6zM575.8 886.3h4.6v4.6h-4.6zM578.5 885.5h4.6v4.6h-4.6zM579.1 883.8h4.6v4.6h-4.6zM581.0 880.2h4.6v4.6h-4.6zM581.1 878.3h4.6v4.6h-4.6zM580.4 877.6h4.6v4.6h-4.6zM583.3 875.3h4.6v4.6h-4.6zM583.0 872.1h4.6v4.6h-4.6zM585.0 870.6h4.6v4.6h-4.6zM584.7 867.1h4.6v4.6h-4.6zM587.2 863.9h4.6v4.6h-4.6zM588.6 864.1h4.6v4.6h-4.6zM589.2 861.6h4.6v4.6h-4.6zM591.0 857.9h4.6v4.6h-4.6zM591.2 858.5h4.6v4.6h-4.6zM592.2 854.3h4.6v4.6h-4.6zM592.4 851.3h4.6v4.6h-4.6zM593.7 851.7h4.6v4.6h-4.6zM596.8 849.3h4.6v4.6h-4.6zM598.9 846.2h4.6v4.6h-4.6zM599.8 843.7h4.6v4.6h-4.6zM599.0 843.2h4.6v4.6h-4.6zM601.9 841.2h4.6v4.6h-4.6zM601.4 838.6h4.6v4.6h-4.6zM602.3 837.4h4.6v4.6h-4.6zM605.2 832.9h4.6v4.6h-4.6zM604.8 831.6h4.6v4.6h-4.6zM515.2 992.2h4.6v4.6h-4.6zM524.4 979.1h4.6v4.6h-4.6zM506.4 999.9h4.6v4.6h-4.6zM510.8 999.9h4.6v4.6h-4.6zM521.7 999.9h4.6v4.6h-4.6zM525.0 999.9h4.6v4.6h-4.6zM528.3 999.9h4.6v4.6h-4.6zM497.7 1014.1h4.6v4.6h-4.6zM501.0 1014.1h4.6v4.6h-4.6zM504.3 1014.1h4.6v4.6h-4.6zM513.0 1014.1h4.6v4.6h-4.6zM521.7 1014.1h4.6v4.6h-4.6z" fill="#800000"/><path d="M499.0 985.0h4.6v4.6h-4.6zM498.3 983.6h4.6v4.6h-4.6zM496.5 981.3h4.6v4.6h-4.6zM497.4 977.6h4.6v4.6h-4.6zM497.6 976.1h4.6v4.6h-4.6zM499.1 971.8h4.6v4.6h-4.6zM498.7 972.9h4.6v4.6h-4.6zM501.8 973.2h4.6v4.6h-4.6zM501.4 973.5h4.6v4.6h-4.6zM503.9 972.1h4.6v4.6h-4.6zM505.4 969.5h4.6v4.6h-4.6zM503.7 964.8h4.6v4.6h-4.6zM504.0 963.7h4.6v4.6h-4.6zM506.7 962.9h4.6v4.6h-4.6zM508.1 962.9h4.6v4.6h-4.6zM507.9 959.3h4.6v4.6h-4.6zM510.2 958.3h4.6v4.6h-4.6zM508.2 954.1h4.6v4.6h-4.6zM510.1 951.1h4.6v4.6h-4.6zM507.8 950.8h4.6v4.6h-4.6zM511.3 948.8h4.6v4.6h-4.6zM511.5 948.2h4.6v4.6h-4.6zM516.2 948.4h4.6v4.6h-4.6zM517.1 947.4h4.6v4.6h-4.6zM517.2 942.5h4.6v4.6h-4.6zM514.4 940.2h4.6v4.6h-4.6zM515.5 939.2h4.6v4.6h-4.6zM516.1 938.5h4.6v4.6h-4.6zM518.2 936.2h4.6v4.6h-4.6zM520.8 936.5h4.6v4.6h-4.6zM522.7 932.4h4.6v4.6h-4.6zM522.7 930.8h4.6v4.6h-4.6zM526.1 929.5h4.6v4.6h-4.6zM528.5 927.8h4.6v4.6h-4.6zM527.4 923.2h4.6v4.6h-4.6zM530.5 923.3h4.6v4.6h-4.6zM531.0 921.3h4.6v4.6h-4.6zM532.4 917.1h4.6v4.6h-4.6zM532.4 914.0h4.6v4.6h-4.6zM535.4 914.9h4.6v4.6h-4.6zM537.7 911.2h4.6v4.6h-4.6zM538.1 910.7h4.6v4.6h-4.6zM539.9 907.3h4.6v4.6h-4.6zM539.8 904.8h4.6v4.6h-4.6zM540.2 901.5h4.6v4.6h-4.6zM543.2 902.2h4.6v4.6h-4.6zM543.8 897.9h4.6v4.6h-4.6zM544.2 895.9h4.6v4.6h-4.6zM546.9 893.7h4.6v4.6h-4.6zM548.6 890.4h4.6v4.6h-4.6zM547.3 889.6h4.6v4.6h-4.6zM548.8 888.6h4.6v4.6h-4.6zM551.3 886.7h4.6v4.6h-4.6zM551.7 881.3h4.6v4.6h-4.6zM552.6 880.9h4.6v4.6h-4.6zM553.4 877.8h4.6v4.6h-4.6zM555.3 877.9h4.6v4.6h-4.6zM554.2 874.8h4.6v4.6h-4.6zM556.2 872.1h4.6v4.6h-4.6zM559.2 871.5h4.6v4.6h-4.6zM559.4 866.6h4.6v4.6h-4.6zM561.5 864.3h4.6v4.6h-4.6zM560.7 864.5h4.6v4.6h-4.6zM561.5 860.3h4.6v4.6h-4.6zM564.9 860.5h4.6v4.6h-4.6zM563.7 856.4h4.6v4.6h-4.6zM564.7 853.2h4.6v4.6h-4.6zM565.7 854.1h4.6v4.6h-4.6zM566.2 849.2h4.6v4.6h-4.6zM567.7 846.5h4.6v4.6h-4.6zM570.0 846.7h4.6v4.6h-4.6zM572.2 844.1h4.6v4.6h-4.6zM573.2 839.6h4.6v4.6h-4.6zM572.3 840.9h4.6v4.6h-4.6zM572.6 836.2h4.6v4.6h-4.6zM575.2 834.0h4.6v4.6h-4.6zM576.6 831.0h4.6v4.6h-4.6zM576.5 832.1h4.6v4.6h-4.6zM578.6 828.3h4.6v4.6h-4.6zM580.8 846.9h4.6v4.6h-4.6zM461.0 1013.0h4.6v4.6h-4.6zM467.7 1013.0h4.6v4.6h-4.6zM474.7 1013.0h4.6v4.6h-4.6zM478.5 1013.0h4.6v4.6h-4.6zM482.3 1013.0h4.6v4.6h-4.6zM486.2 1013.0h4.6v4.6h-4.6zM490.0 1013.0h4.6v4.6h-4.6zM493.8 1013.0h4.6v4.6h-4.6zM472.0 999.9h4.6v4.6h-4.6zM475.6 999.9h4.6v4.6h-4.6zM486.5 999.9h4.6v4.6h-4.6zM490.2 999.9h4.6v4.6h-4.6zM493.8 999.9h4.6v4.6h-4.6z" fill="#FF8000"/><path d="M468.7 969.4h4.6v4.6h-4.6zM472.4 964.8h4.6v4.6h-4.6zM474.1 964.8h4.6v4.6h-4.6zM473.3 961.5h4.6v4.6h-4.6zM474.6 962.9h4.6v4.6h-4.6zM475.5 958.1h4.6v4.6h-4.6zM476.3 955.9h4.6v4.6h-4.6zM478.4 956.5h4.6v4.6h-4.6zM478.7 951.8h4.6v4.6h-4.6zM483.2 952.5h4.6v4.6h-4.6zM484.6 947.6h4.6v4.6h-4.6zM483.6 947.9h4.6v4.6h-4.6zM485.3 944.9h4.6v4.6h-4.6zM486.0 940.2h4.6v4.6h-4.6zM487.3 940.7h4.6v4.6h-4.6zM490.1 937.8h4.6v4.6h-4.6zM490.2 935.5h4.6v4.6h-4.6zM491.4 933.3h4.6v4.6h-4.6zM494.1 930.3h4.6v4.6h-4.6zM494.5 931.0h4.6v4.6h-4.6zM496.6 926.4h4.6v4.6h-4.6zM498.3 926.9h4.6v4.6h-4.6zM496.7 923.0h4.6v4.6h-4.6zM498.1 920.4h4.6v4.6h-4.6zM502.1 919.8h4.6v4.6h-4.6zM503.4 920.9h4.6v4.6h-4.6zM501.7 921.5h4.6v4.6h-4.6zM505.8 919.7h4.6v4.6h-4.6zM506.7 915.9h4.6v4.6h-4.6zM508.3 912.1h4.6v4.6h-4.6zM508.7 911.2h4.6v4.6h-4.6zM508.6 909.6h4.6v4.6h-4.6zM510.6 907.0h4.6v4.6h-4.6zM512.1 904.1h4.6v4.6h-4.6zM513.4 903.0h4.6v4.6h-4.6zM516.9 902.0h4.6v4.6h-4.6zM517.8 899.4h4.6v4.6h-4.6zM517.0 897.8h4.6v4.6h-4.6zM518.3 892.5h4.6v4.6h-4.6zM520.4 892.5h4.6v4.6h-4.6zM521.1 890.0h4.6v4.6h-4.6zM522.2 889.0h4.6v4.6h-4.6zM524.2 885.1h4.6v4.6h-4.6zM525.8 884.3h4.6v4.6h-4.6zM528.7 880.9h4.6v4.6h-4.6zM528.1 879.0h4.6v4.6h-4.6zM527.8 876.1h4.6v4.6h-4.6zM531.8 875.2h4.6v4.6h-4.6zM530.0 873.3h4.6v4.6h-4.6zM532.3 871.6h4.6v4.6h-4.6zM533.3 866.7h4.6v4.6h-4.6zM535.1 866.9h4.6v4.6h-4.6zM535.7 864.6h4.6v4.6h-4.6zM537.8 860.6h4.6v4.6h-4.6zM537.4 858.9h4.6v4.6h-4.6zM538.9 856.2h4.6v4.6h-4.6zM540.9 855.9h4.6v4.6h-4.6zM541.7 851.0h4.6v4.6h-4.6zM541.5 849.7h4.6v4.6h-4.6zM544.0 846.6h4.6v4.6h-4.6zM543.2 845.1h4.6v4.6h-4.6zM545.0 841.9h4.6v4.6h-4.6zM547.0 842.9h4.6v4.6h-4.6zM548.1 840.1h4.6v4.6h-4.6zM549.7 838.0h4.6v4.6h-4.6zM550.6 834.1h4.6v4.6h-4.6zM550.3 830.5h4.6v4.6h-4.6zM550.2 829.4h4.6v4.6h-4.6zM445.7 998.8h4.6v4.6h-4.6zM463.2 979.1h4.6v4.6h-4.6zM434.8 1013.0h4.6v4.6h-4.6zM438.3 1013.0h4.6v4.6h-4.6zM441.8 1013.0h4.6v4.6h-4.6zM445.3 1013.0h4.6v4.6h-4.6zM448.8 1013.0h4.6v4.6h-4.6zM452.3 1013.0h4.6v4.6h-4.6zM454.5 985.7h4.6v4.6h-4.6zM458.8 985.7h4.6v4.6h-4.6z" fill="#8000FF"/><path d="M429.6 975.8h4.6v4.6h-4.6zM432.9 975.5h4.6v4.6h-4.6zM431.5 971.7h4.6v4.6h-4.6zM433.8 969.9h4.6v4.6h-4.6zM436.9 968.8h4.6v4.6h-4.6zM436.2 967.8h4.6v4.6h-4.6zM437.9 965.8h4.6v4.6h-4.6zM439.2 964.4h4.6v4.6h-4.6zM439.4 960.2h4.6v4.6h-4.6zM442.2 960.2h4.6v4.6h-4.6zM439.9 957.1h4.6v4.6h-4.6zM443.6 957.2h4.6v4.6h-4.6zM442.3 951.8h4.6v4.6h-4.6zM445.1 951.4h4.6v4.6h-4.6zM447.8 950.9h4.6v4.6h-4.6zM447.0 947.6h4.6v4.6h-4.6zM449.2 947.4h4.6v4.6h-4.6zM449.0 943.7h4.6v4.6h-4.6zM449.9 942.7h4.6v4.6h-4.6zM450.9 941.9h4.6v4.6h-4.6zM453.9 938.8h4.6v4.6h-4.6zM453.6 935.7h4.6v4.6h-4.6zM456.2 936.0h4.6v4.6h-4.6zM457.7 932.1h4.6v4.6h-4.6zM460.5 931.6h4.6v4.6h-4.6zM460.2 927.7h4.6v4.6h-4.6zM460.6 928.1h4.6v4.6h-4.6zM461.2 924.6h4.6v4.6h-4.6zM464.3 921.7h4.6v4.6h-4.6zM466.1 921.5h4.6v4.6h-4.6zM467.6 918.7h4.6v4.6h-4.6zM466.5 914.1h4.6v4.6h-4.6zM468.6 913.2h4.6v4.6h-4.6zM469.0 913.3h4.6v4.6h-4.6zM470.3 911.2h4.6v4.6h-4.6zM474.1 906.8h4.6v4.6h-4.6zM475.3 906.0h4.6v4.6h-4.6zM474.0 903.3h4.6v4.6h-4.6zM474.6 902.6h4.6v4.6h-4.6zM477.1 902.0h4.6v4.6h-4.6zM480.0 897.3h4.6v4.6h-4.6zM479.7 896.6h4.6v4.6h-4.6zM480.2 894.2h4.6v4.6h-4.6zM481.7 893.9h4.6v4.6h-4.6zM483.3 890.0h4.6v4.6h-4.6zM484.1 889.3h4.6v4.6h-4.6zM486.6 886.4h4.6v4.6h-4.6zM488.3 884.1h4.6v4.6h-4.6zM489.4 883.3h4.6v4.6h-4.6zM488.9 881.7h4.6v4.6h-4.6zM490.9 878.7h4.6v4.6h-4.6zM492.9 876.8h4.6v4.6h-4.6zM493.6 872.6h4.6v4.6h-4.6zM496.4 873.8h4.6v4.6h-4.6zM496.8 871.2h4.6v4.6h-4.6zM497.5 870.7h4.6v4.6h-4.6zM500.6 866.6h4.6v4.6h-4.6zM501.9 867.2h4.6v4.6h-4.6zM501.1 865.1h4.6v4.6h-4.6zM502.5 859.9h4.6v4.6h-4.6zM504.6 858.3h4.6v4.6h-4.6zM506.0 857.0h4.6v4.6h-4.6zM505.0 854.6h4.6v4.6h-4.6zM508.9 852.2h4.6v4.6h-4.6zM509.0 851.5h4.6v4.6h-4.6zM509.9 847.9h4.6v4.6h-4.6zM511.6 847.0h4.6v4.6h-4.6zM511.1 842.1h4.6v4.6h-4.6zM513.9 841.6h4.6v4.6h-4.6zM513.2 840.6h4.6v4.6h-4.6zM516.1 837.2h4.6v4.6h-4.6zM517.4 836.1h4.6v4.6h-4.6zM517.4 831.9h4.6v4.6h-4.6zM517.4 830.5h4.6v4.6h-4.6zM419.5 1003.2h4.6v4.6h-4.6zM391.1 1016.3h4.6v4.6h-4.6zM398.2 1016.3h4.6v4.6h-4.6zM401.8 1016.3h4.6v4.6h-4.6zM405.3 1016.3h4.6v4.6h-4.6zM408.8 1016.3h4.6v4.6h-4.6zM412.4 1016.3h4.6v4.6h-4.6zM415.9 1016.3h4.6v4.6h-4.6zM419.5 1016.3h4.6v4.6h-4.6zM417.3 985.7h4.6v4.6h-4.6zM421.7 985.7h4.6v4.6h-4.6zM426.1 985.7h4.6v4.6h-4.6z" fill="#FF0080"/><path d="M400.0 965.6h4.6v4.6h-4.6zM399.7 964.0h4.6v4.6h-4.6zM401.8 962.4h4.6v4.6h-4.6zM402.6 959.1h4.6v4.6h-4.6zM404.0 956.9h4.6v4.6h-4.6zM406.7 953.7h4.6v4.6h-4.6zM406.2 953.2h4.6v4.6h-4.6zM408.2 951.5h4.6v4.6h-4.6zM409.6 948.2h4.6v4.6h-4.6zM412.3 949.3h4.6v4.6h-4.6zM415.0 946.0h4.6v4.6h-4.6zM414.7 942.5h4.6v4.6h-4.6zM415.6 941.6h4.6v4.6h-4.6zM419.2 939.0h4.6v4.6h-4.6zM420.5 938.4h4.6v4.6h-4.6zM419.9 935.8h4.6v4.6h-4.6zM423.1 933.6h4.6v4.6h-4.6zM422.9 932.9h4.6v4.6h-4.6zM422.8 930.0h4.6v4.6h-4.6zM426.9 929.9h4.6v4.6h-4.6zM427.3 928.1h4.6v4.6h-4.6zM426.4 925.2h4.6v4.6h-4.6zM430.0 921.3h4.6v4.6h-4.6zM430.2 921.8h4.6v4.6h-4.6zM431.0 919.2h4.6v4.6h-4.6zM431.7 917.0h4.6v4.6h-4.6zM433.3 914.5h4.6v4.6h-4.6zM435.0 913.9h4.6v4.6h-4.6zM437.6 910.8h4.6v4.6h-4.6zM438.6 908.6h4.6v4.6h-4.6zM440.3 906.1h4.6v4.6h-4.6zM440.6 905.4h4.6v4.6h-4.6zM441.3 901.6h4.6v4.6h-4.6zM441.7 901.9h4.6v4.6h-4.6zM443.1 900.4h4.6v4.6h-4.6zM445.4 899.3h4.6v4.6h-4.6zM447.9 896.6h4.6v4.6h-4.6zM447.4 892.3h4.6v4.6h-4.6zM449.4 892.9h4.6v4.6h-4.6zM451.9 889.1h4.6v4.6h-4.6zM450.4 890.0h4.6v4.6h-4.6zM453.8 886.4h4.6v4.6h-4.6zM455.0 883.3h4.6v4.6h-4.6zM455.6 883.3h4.6v4.6h-4.6zM457.1 879.6h4.6v4.6h-4.6zM456.5 879.0h4.6v4.6h-4.6zM460.3 875.1h4.6v4.6h-4.6zM458.2 872.7h4.6v4.6h-4.6zM462.1 871.6h4.6v4.6h-4.6zM462.0 871.6h4.6v4.6h-4.6zM463.6 866.7h4.6v4.6h-4.6zM465.2 863.6h4.6v4.6h-4.6zM465.1 864.0h4.6v4.6h-4.6zM466.0 859.4h4.6v4.6h-4.6zM468.5 858.3h4.6v4.6h-4.6zM471.5 855.3h4.6v4.6h-4.6zM472.1 854.4h4.6v4.6h-4.6zM473.4 852.8h4.6v4.6h-4.6zM474.1 850.5h4.6v4.6h-4.6zM473.8 849.0h4.6v4.6h-4.6zM477.1 846.8h4.6v4.6h-4.6zM476.3 845.2h4.6v4.6h-4.6zM477.0 842.9h4.6v4.6h-4.6zM479.9 841.6h4.6v4.6h-4.6zM481.1 838.5h4.6v4.6h-4.6zM480.1 835.4h4.6v4.6h-4.6zM482.9 834.9h4.6v4.6h-4.6zM362.7 1001.0h4.6v4.6h-4.6zM378.0 1001.0h4.6v4.6h-4.6zM395.5 990.0h4.6v4.6h-4.6zM487.3 846.9h4.6v4.6h-4.6zM360.5 1020.7h4.6v4.6h-4.6zM364.0 1020.7h4.6v4.6h-4.6zM367.5 1020.7h4.6v4.6h-4.6zM371.0 1020.7h4.6v4.6h-4.6zM374.5 1020.7h4.6v4.6h-4.6zM378.0 1020.7h4.6v4.6h-4.6zM380.2 987.9h4.6v4.6h-4.6zM383.4 987.9h4.6v4.6h-4.6zM386.7 987.9h4.6v4.6h-4.6zM386.7 979.1h4.6v4.6h-4.6zM391.1 979.1h4.6v4.6h-4.6zM395.5 979.1h4.6v4.6h-4.6z" fill="#808080"/><path d="M354.5 979.9h4.6v4.6h-4.6zM355.3 977.1h4.6v4.6h-4.6zM355.9 974.0h4.6v4.6h-4.6zM358.9 973.9h4.6v4.6h-4.6zM357.7 973.7h4.6v4.6h-4.6zM360.8 970.8h4.6v4.6h-4.6zM361.6 966.9h4.6v4.6h-4.6zM364.9 964.8h4.6v4.6h-4.6zM363.9 965.6h4.6v4.6h-4.6zM364.3 961.6h4.6v4.6h-4.6zM366.9 958.5h4.6v4.6h-4.6zM369.8 957.2h4.6v4.6h-4.6zM367.8 955.6h4.6v4.6h-4.6zM369.0 954.5h4.6v4.6h-4.6zM373.4 953.4h4.6v4.6h-4.6zM371.7 950.7h4.6v4.6h-4.6zM373.8 948.1h4.6v4.6h-4.6zM375.1 945.6h4.6v4.6h-4.6zM375.7 944.9h4.6v4.6h-4.6zM376.8 944.2h4.6v4.6h-4.6zM377.9 942.4h4.6v4.6h-4.6zM379.7 937.3h4.6v4.6h-4.6zM382.9 937.1h4.6v4.6h-4.6zM384.2 935.1h4.6v4.6h-4.6zM385.0 931.7h4.6v4.6h-4.6zM386.4 931.4h4.6v4.6h-4.6zM388.7 927.7h4.6v4.6h-4.6zM386.7 928.2h4.6v4.6h-4.6zM391.1 925.4h4.6v4.6h-4.6zM391.5 924.1h4.6v4.6h-4.6zM391.7 921.8h4.6v4.6h-4.6zM393.7 918.4h4.6v4.6h-4.6zM393.8 919.1h4.6v4.6h-4.6zM394.9 916.3h4.6v4.6h-4.6zM396.2 914.0h4.6v4.6h-4.6zM398.8 913.5h4.6v4.6h-4.6zM401.2 910.7h4.6v4.6h-4.6zM399.7 908.3h4.6v4.6h-4.6zM400.4 906.1h4.6v4.6h-4.6zM403.6 905.5h4.6v4.6h-4.6zM403.6 902.1h4.6v4.6h-4.6zM404.3 900.2h4.6v4.6h-4.6zM407.0 898.6h4.6v4.6h-4.6zM409.7 897.9h4.6v4.6h-4.6zM409.0 895.5h4.6v4.6h-4.6zM409.1 894.7h4.6v4.6h-4.6zM412.9 891.5h4.6v4.6h-4.6zM414.1 889.3h4.6v4.6h-4.6zM413.5 887.3h4.6v4.6h-4.6zM414.7 886.8h4.6v4.6h-4.6zM417.5 885.4h4.6v4.6h-4.6zM416.8 883.6h4.6v4.6h-4.6zM419.4 880.4h4.6v4.6h-4.6zM420.8 878.7h4.6v4.6h-4.6zM420.9 876.7h4.6v4.6h-4.6zM423.8 875.9h4.6v4.6h-4.6zM426.0 872.2h4.6v4.6h-4.6zM427.1 872.5h4.6v4.6h-4.6zM427.7 871.2h4.6v4.6h-4.6zM426.9 868.6h4.6v4.6h-4.6zM430.9 864.4h4.6v4.6h-4.6zM431.1 865.5h4.6v4.6h-4.6zM431.2 863.3h4.6v4.6h-4.6zM434.7 859.9h4.6v4.6h-4.6zM433.2 857.2h4.6v4.6h-4.6zM436.9 856.1h4.6v4.6h-4.6zM436.3 854.3h4.6v4.6h-4.6zM439.8 851.7h4.6v4.6h-4.6zM437.8 852.4h4.6v4.6h-4.6zM440.1 848.5h4.6v4.6h-4.6zM443.7 846.2h4.6v4.6h-4.6zM441.7 846.5h4.6v4.6h-4.6zM443.5 842.3h4.6v4.6h-4.6zM447.3 840.4h4.6v4.6h-4.6zM448.0 838.4h4.6v4.6h-4.6zM446.8 835.6h4.6v4.6h-4.6zM448.5 834.4h4.6v4.6h-4.6zM448.9 831.8h4.6v4.6h-4.6zM450.1 829.4h4.6v4.6h-4.6zM308.0 1020.7h4.6v4.6h-4.6zM336.4 996.6h4.6v4.6h-4.6zM348.5 980.2h4.6v4.6h-4.6zM452.3 846.9h4.6v4.6h-4.6zM323.3 1020.7h4.6v4.6h-4.6zM326.6 1020.7h4.6v4.6h-4.6zM329.8 1020.7h4.6v4.6h-4.6zM333.1 1020.7h4.6v4.6h-4.6zM336.4 1020.7h4.6v4.6h-4.6zM329.9 1007.5h4.6v4.6h-4.6zM333.4 1007.5h4.6v4.6h-4.6zM336.9 1007.5h4.6v4.6h-4.6zM343.9 1007.5h4.6v4.6h-4.6zM347.4 1007.5h4.6v4.6h-4.6zM340.8 994.4h4.6v4.6h-4.6zM344.4 994.4h4.6v4.6h-4.6zM348.1 994.4h4.6v4.6h-4.6zM351.7 994.4h4.6v4.6h-4.6z" fill="#000080"/><path d="M322.8 967.5h4.6v4.6h-4.6zM324.2 964.4h4.6v4.6h-4.6zM323.0 962.1h4.6v4.6h-4.6zM324.5 962.0h4.6v4.6h-4.6zM326.9 957.9h4.6v4.6h-4.6zM330.8 955.6h4.6v4.6h-4.6zM332.2 954.0h4.6v4.6h-4.6zM332.8 951.3h4.6v4.6h-4.6zM335.1 950.3h4.6v4.6h-4.6zM334.3 949.1h4.6v4.6h-4.6zM336.4 945.4h4.6v4.6h-4.6zM335.9 944.4h4.6v4.6h-4.6zM336.8 943.2h4.6v4.6h-4.6zM339.1 938.5h4.6v4.6h-4.6zM341.1 936.8h4.6v4.6h-4.6zM343.0 936.9h4.6v4.6h-4.6zM345.4 934.6h4.6v4.6h-4.6zM346.9 933.7h4.6v4.6h-4.6zM350.0 931.8h4.6v4.6h-4.6zM351.3 930.4h4.6v4.6h-4.6zM350.3 927.6h4.6v4.6h-4.6zM354.2 926.9h4.6v4.6h-4.6zM353.8 925.1h4.6v4.6h-4.6zM356.7 922.7h4.6v4.6h-4.6zM356.2 920.8h4.6v4.6h-4.6zM356.2 919.6h4.6v4.6h-4.6zM359.2 917.6h4.6v4.6h-4.6zM360.3 915.6h4.6v4.6h-4.6zM362.5 912.7h4.6v4.6h-4.6zM364.7 910.6h4.6v4.6h-4.6zM365.5 908.9h4.6v4.6h-4.6zM366.5 907.4h4.6v4.6h-4.6zM365.2 906.5h4.6v4.6h-4.6zM369.2 905.7h4.6v4.6h-4.6zM370.6 904.3h4.6v4.6h-4.6zM368.8 900.3h4.6v4.6h-4.6zM370.3 899.8h4.6v4.6h-4.6zM372.8 897.9h4.6v4.6h-4.6zM375.3 896.9h4.6v4.6h-4.6zM376.1 894.6h4.6v4.6h-4.6zM376.9 889.9h4.6v4.6h-4.6zM379.4 888.0h4.6v4.6h-4.6zM377.8 888.8h4.6v4.6h-4.6zM379.7 886.3h4.6v4.6h-4.6zM380.0 882.8h4.6v4.6h-4.6zM383.7 880.3h4.6v4.6h-4.6zM384.3 881.7h4.6v4.6h-4.6zM384.4 879.0h4.6v4.6h-4.6zM387.6 876.8h4.6v4.6h-4.6zM388.9 875.2h4.6v4.6h-4.6zM387.5 871.5h4.6v4.6h-4.6zM390.6 872.5h4.6v4.6h-4.6zM390.7 869.2h4.6v4.6h-4.6zM391.6 868.3h4.6v4.6h-4.6zM394.0 865.3h4.6v4.6h-4.6zM396.1 862.0h4.6v4.6h-4.6zM397.6 862.5h4.6v4.6h-4.6zM399.3 858.8h4.6v4.6h-4.6zM398.3 856.5h4.6v4.6h-4.6zM401.9 855.6h4.6v4.6h-4.6zM401.3 854.0h4.6v4.6h-4.6zM403.7 851.4h4.6v4.6h-4.6zM403.6 851.2h4.6v4.6h-4.6zM406.3 847.3h4.6v4.6h-4.6zM404.9 847.3h4.6v4.6h-4.6zM408.3 843.9h4.6v4.6h-4.6zM408.3 843.1h4.6v4.6h-4.6zM409.5 838.2h4.6v4.6h-4.6zM409.4 836.5h4.6v4.6h-4.6zM411.7 834.3h4.6v4.6h-4.6zM413.5 833.2h4.6v4.6h-4.6zM412.2 831.1h4.6v4.6h-4.6zM412.9 828.3h4.6v4.6h-4.6zM292.7 1001.0h4.6v4.6h-4.6zM301.4 987.9h4.6v4.6h-4.6zM312.4 994.4h4.6v4.6h-4.6zM314.6 983.5h4.6v4.6h-4.6zM286.1 1014.1h4.6v4.6h-4.6zM289.9 1014.1h4.6v4.6h-4.6zM293.7 1014.1h4.6v4.6h-4.6zM297.6 1014.1h4.6v4.6h-4.6zM301.4 1014.1h4.6v4.6h-4.6z" fill="#FFFF00"/><path d="M275.3 972.6h4.6v4.6h-4.6zM278.0 969.8h4.6v4.6h-4.6zM279.5 968.6h4.6v4.6h-4.6zM281.4 966.1h4.6v4.6h-4.6zM281.7 965.8h4.6v4.6h-4.6zM284.3 963.6h4.6v4.6h-4.6zM284.4 962.0h4.6v4.6h-4.6zM287.2 962.3h4.6v4.6h-4.6zM287.0 959.6h4.6v4.6h-4.6zM289.4 961.0h4.6v4.6h-4.6zM291.7 957.5h4.6v4.6h-4.6zM292.4 955.6h4.6v4.6h-4.6zM295.6 953.5h4.6v4.6h-4.6zM294.0 950.5h4.6v4.6h-4.6zM297.1 946.9h4.6v4.6h-4.6zM299.6 946.0h4.6v4.6h-4.6zM299.3 945.3h4.6v4.6h-4.6zM301.8 943.0h4.6v4.6h-4.6zM304.2 941.3h4.6v4.6h-4.6zM303.8 937.8h4.6v4.6h-4.6zM306.0 937.1h4.6v4.6h-4.6zM307.2 935.2h4.6v4.6h-4.6zM306.5 932.2h4.6v4.6h-4.6zM308.3 930.5h4.6v4.6h-4.6zM312.1 930.4h4.6v4.6h-4.6zM311.1 929.0h4.6v4.6h-4.6zM313.8 924.8h4.6v4.6h-4.6zM315.5 923.5h4.6v4.6h-4.6zM317.6 921.3h4.6v4.6h-4.6zM316.3 919.9h4.6v4.6h-4.6zM319.6 920.0h4.6v4.6h-4.6zM319.9 915.8h4.6v4.6h-4.6zM320.6 915.9h4.6v4.6h-4.6zM320.5 914.8h4.6v4.6h-4.6zM324.5 913.0h4.6v4.6h-4.6zM325.3 909.9h4.6v4.6h-4.6zM327.5 906.8h4.6v4.6h-4.6zM326.4 904.4h4.6v4.6h-4.6zM327.2 904.9h4.6v4.6h-4.6zM328.1 902.9h4.6v4.6h-4.6zM330.5 901.4h4.6v4.6h-4.6zM333.0 898.9h4.6v4.6h-4.6zM334.6 894.7h4.6v4.6h-4.6zM333.7 894.0h4.6v4.6h-4.6zM335.6 893.2h4.6v4.6h-4.6zM338.4 891.6h4.6v4.6h-4.6zM339.9 889.5h4.6v4.6h-4.6zM339.0 887.0h4.6v4.6h-4.6zM341.7 886.2h4.6v4.6h-4.6zM341.6 882.7h4.6v4.6h-4.6zM343.7 880.4h4.6v4.6h-4.6zM346.0 877.7h4.6v4.6h-4.6zM346.4 877.6h4.6v4.6h-4.6zM346.0 876.0h4.6v4.6h-4.6zM348.2 875.5h4.6v4.6h-4.6zM351.0 872.3h4.6v4.6h-4.6zM352.4 871.6h4.6v4.6h-4.6zM351.3 869.5h4.6v4.6h-4.6zM355.2 868.3h4.6v4.6h-4.6zM356.3 864.3h4.6v4.6h-4.6zM355.8 863.5h4.6v4.6h-4.6zM357.3 862.0h4.6v4.6h-4.6zM360.0 860.5h4.6v4.6h-4.6zM360.7 856.8h4.6v4.6h-4.6zM364.1 856.2h4.6v4.6h-4.6zM363.7 854.1h4.6v4.6h-4.6zM365.3 852.5h4.6v4.6h-4.6zM367.1 849.4h4.6v4.6h-4.6zM370.0 849.4h4.6v4.6h-4.6zM370.5 845.0h4.6v4.6h-4.6zM369.7 844.4h4.6v4.6h-4.6zM373.3 841.9h4.6v4.6h-4.6zM372.4 840.0h4.6v4.6h-4.6zM374.7 837.0h4.6v4.6h-4.6zM254.5 1003.2h4.6v4.6h-4.6zM258.8 990.0h4.6v4.6h-4.6zM270.8 990.0h4.6v4.6h-4.6zM253.4 1015.2h4.6v4.6h-4.6zM256.7 1015.2h4.6v4.6h-4.6zM259.9 1015.2h4.6v4.6h-4.6zM263.2 1015.2h4.6v4.6h-4.6zM266.5 1015.2h4.6v4.6h-4.6zM265.4 1003.2h4.6v4.6h-4.6zM269.2 1003.2h4.6v4.6h-4.6zM273.0 1003.2h4.6v4.6h-4.6z" fill="#008080"/><path d="M247.3 962.5h4.6v4.6h-4.6zM249.9 958.6h4.6v4.6h-4.6zM249.8 960.0h4.6v4.6h-4.6zM251.5 957.0h4.6v4.6h-4.6zM253.6 953.4h4.6v4.6h-4.6zM254.2 953.3h4.6v4.6h-4.6zM254.2 950.0h4.6v4.6h-4.6zM255.1 947.2h4.6v4.6h-4.6zM255.6 945.4h4.6v4.6h-4.6zM258.7 945.8h4.6v4.6h-4.6zM258.7 944.0h4.6v4.6h-4.6zM260.0 941.5h4.6v4.6h-4.6zM260.9 941.1h4.6v4.6h-4.6zM264.5 938.9h4.6v4.6h-4.6zM263.5 937.3h4.6v4.6h-4.6zM264.7 934.5h4.6v4.6h-4.6zM267.9 930.9h4.6v4.6h-4.6zM269.1 932.0h4.6v4.6h-4.6zM271.2 928.1h4.6v4.6h-4.6zM273.3 926.1h4.6v4.6h-4.6zM274.9 924.1h4.6v4.6h-4.6zM273.2 924.0h4.6v4.6h-4.6zM274.5 919.2h4.6v4.6h-4.6zM278.4 916.5h4.6v4.6h-4.6zM278.9 917.0h4.6v4.6h-4.6zM280.4 913.0h4.6v4.6h-4.6zM282.3 912.5h4.6v4.6h-4.6zM283.0 909.6h4.6v4.6h-4.6zM283.4 906.7h4.6v4.6h-4.6zM287.2 906.9h4.6v4.6h-4.6zM285.1 902.3h4.6v4.6h-4.6zM287.4 902.6h4.6v4.6h-4.6zM288.7 898.5h4.6v4.6h-4.6zM292.2 896.7h4.6v4.6h-4.6zM294.4 895.9h4.6v4.6h-4.6zM295.6 895.4h4.6v4.6h-4.6zM294.5 893.5h4.6v4.6h-4.6zM296.7 889.6h4.6v4.6h-4.6zM296.9 889.5h4.6v4.6h-4.6zM300.2 886.2h4.6v4.6h-4.6zM302.6 884.0h4.6v4.6h-4.6zM302.7 881.8h4.6v4.6h-4.6zM303.8 882.9h4.6v4.6h-4.6zM305.8 878.4h4.6v4.6h-4.6zM306.3 878.4h4.6v4.6h-4.6zM307.9 877.4h4.6v4.6h-4.6zM308.6 875.5h4.6v4.6h-4.6zM311.9 873.2h4.6v4.6h-4.6zM312.3 868.3h4.6v4.6h-4.6zM312.9 868.1h4.6v4.6h-4.6zM313.7 864.1h4.6v4.6h-4.6zM317.7 864.7h4.6v4.6h-4.6zM319.2 862.6h4.6v4.6h-4.6zM319.4 860.9h4.6v4.6h-4.6zM321.2 857.9h4.6v4.6h-4.6zM321.5 854.1h4.6v4.6h-4.6zM321.5 853.0h4.6v4.6h-4.6zM324.1 850.7h4.6v4.6h-4.6zM327.2 850.5h4.6v4.6h-4.6zM327.7 849.9h4.6v4.6h-4.6zM327.1 848.1h4.6v4.6h-4.6zM331.0 844.1h4.6v4.6h-4.6zM329.4 844.2h4.6v4.6h-4.6zM333.4 842.5h4.6v4.6h-4.6zM332.5 839.4h4.6v4.6h-4.6zM332.4 835.6h4.6v4.6h-4.6zM334.3 835.1h4.6v4.6h-4.6zM334.0 833.3h4.6v4.6h-4.6zM336.4 829.4h4.6v4.6h-4.6zM219.5 1013.0h4.6v4.6h-4.6zM228.2 1013.0h4.6v4.6h-4.6zM214.0 991.1h4.6v4.6h-4.6zM220.6 991.1h4.6v4.6h-4.6zM223.9 991.1h4.6v4.6h-4.6zM222.8 999.9h4.6v4.6h-4.6zM226.3 999.9h4.6v4.6h-4.6zM229.8 999.9h4.6v4.6h-4.6zM233.2 999.9h4.6v4.6h-4.6zM236.7 999.9h4.6v4.6h-4.6zM240.2 999.9h4.6v4.6h-4.6zM231.5 979.1h4.6v4.6h-4.6zM235.1 979.1h4.6v4.6h-4.6zM238.8 979.1h4.6v4.6h-4.6zM242.4 979.1h4.6v4.6h-4.6zM235.9 970.4h4.6v4.6h-4.6zM239.1 970.4h4.6v4.6h-4.6zM242.4 970.4h4.6v4.6h-4.6z" fill="#0000FF"/><path d="M190.1 985.4h4.6v4.6h-4.6zM191.6 985.4h4.6v4.6h-4.6zM189.9 984.9h4.6v4.6h-4.6zM192.1 980.0h4.6v4.6h-4.6zM193.2 978.1h4.6v4.6h-4.6zM194.6 978.8h4.6v4.6h-4.6zM198.5 976.6h4.6v4.6h-4.6zM199.4 975.4h4.6v4.6h-4.6zM200.3 971.9h4.6v4.6h-4.6zM200.0 969.2h4.6v4.6h-4.6zM201.9 967.4h4.6v4.6h-4.6zM203.5 965.8h4.6v4.6h-4.6zM203.8 964.6h4.6v4.6h-4.6zM204.9 961.2h4.6v4.6h-4.6zM204.4 961.2h4.6v4.6h-4.6zM205.6 959.2h4.6v4.6h-4.6zM209.6 956.2h4.6v4.6h-4.6zM210.9 955.0h4.6v4.6h-4.6zM212.1 952.8h4.6v4.6h-4.6zM212.7 951.4h4.6v4.6h-4.6zM211.8 948.6h4.6v4.6h-4.6zM214.3 946.2h4.6v4.6h-4.6zM215.7 945.6h4.6v4.6h-4.6zM217.3 943.1h4.6v4.6h-4.6zM216.2 941.0h4.6v4.6h-4.6zM219.3 940.1h4.6v4.6h-4.6zM218.4 935.5h4.6v4.6h-4.6zM223.2 934.5h4.6v4.6h-4.6zM223.5 933.5h4.6v4.6h-4.6zM223.9 931.2h4.6v4.6h-4.6zM225.9 931.3h4.6v4.6h-4.6zM227.3 928.8h4.6v4.6h-4.6zM227.9 926.7h4.6v4.6h-4.6zM230.4 925.0h4.6v4.6h-4.6zM232.9 920.8h4.6v4.6h-4.6zM234.4 920.8h4.6v4.6h-4.6zM233.1 918.4h4.6v4.6h-4.6zM233.8 915.7h4.6v4.6h-4.6zM237.7 915.6h4.6v4.6h-4.6zM239.0 911.7h4.6v4.6h-4.6zM237.5 910.6h4.6v4.6h-4.6zM240.2 910.0h4.6v4.6h-4.6zM240.9 908.2h4.6v4.6h-4.6zM243.4 904.8h4.6v4.6h-4.6zM245.6 902.2h4.6v4.6h-4.6zM246.4 900.7h4.6v4.6h-4.6zM245.9 900.0h4.6v4.6h-4.6zM249.1 898.6h4.6v4.6h-4.6zM249.8 897.9h4.6v4.6h-4.6zM252.5 893.2h4.6v4.6h-4.6zM250.9 894.2h4.6v4.6h-4.6zM253.7 889.3h4.6v4.6h-4.6zM254.1 889.6h4.6v4.6h-4.6zM255.3 886.5h4.6v4.6h-4.6zM258.3 884.6h4.6v4.6h-4.6zM259.7 884.9h4.6v4.6h-4.6zM261.7 881.9h4.6v4.6h-4.6zM262.6 879.0h4.6v4.6h-4.6zM264.1 878.4h4.6v4.6h-4.6zM265.3 876.0h4.6v4.6h-4.6zM267.4 873.1h4.6v4.6h-4.6zM268.7 874.1h4.6v4.6h-4.6zM267.7 869.7h4.6v4.6h-4.6zM272.6 867.2h4.6v4.6h-4.6zM273.4 867.2h4.6v4.6h-4.6zM272.2 865.6h4.6v4.6h-4.6zM273.4 864.6h4.6v4.6h-4.6zM275.7 863.0h4.6v4.6h-4.6zM279.1 858.2h4.6v4.6h-4.6zM278.6 856.4h4.6v4.6h-4.6zM281.2 854.4h4.6v4.6h-4.6zM280.0 852.6h4.6v4.6h-4.6zM284.0 851.2h4.6v4.6h-4.6zM283.4 850.0h4.6v4.6h-4.6zM285.8 848.2h4.6v4.6h-4.6zM288.9 846.3h4.6v4.6h-4.6zM288.8 846.6h4.6v4.6h-4.6zM289.6 842.4h4.6v4.6h-4.6zM292.3 840.6h4.6v4.6h-4.6zM293.0 840.0h4.6v4.6h-4.6zM291.7 835.9h4.6v4.6h-4.6zM291.3 835.5h4.6v4.6h-4.6zM293.0 831.2h4.6v4.6h-4.6zM293.8 829.4h4.6v4.6h-4.6zM182.3 998.8h4.6v4.6h-4.6zM185.6 998.8h4.6v4.6h-4.6zM188.9 998.8h4.6v4.6h-4.6zM192.2 998.8h4.6v4.6h-4.6z" fill="#FF00FF"/><path d="M156.3 988.7h4.6v4.6h-4.6zM156.8 989.1h4.6v4.6h-4.6zM158.4 987.3h4.6v4.6h-4.6zM159.6 984.8h4.6v4.6h-4.6zM162.8 986.0h4.6v4.6h-4.6zM162.3 981.3h4.6v4.6h-4.6zM163.9 978.7h4.6v4.6h-4.6zM161.7 977.9h4.6v4.6h-4.6zM164.5 975.3h4.6v4.6h-4.6zM162.3 974.3h4.6v4.6h-4.6zM162.1 969.5h4.6v4.6h-4.6zM164.8 968.5h4.6v4.6h-4.6zM163.6 963.4h4.6v4.6h-4.6zM166.5 964.5h4.6v4.6h-4.6zM166.0 965.9h4.6v4.6h-4.6zM171.8 963.3h4.6v4.6h-4.6zM170.6 964.2h4.6v4.6h-4.6zM170.6 959.8h4.6v4.6h-4.6zM172.6 958.1h4.6v4.6h-4.6zM173.9 957.5h4.6v4.6h-4.6zM173.8 954.7h4.6v4.6h-4.6zM172.5 952.7h4.6v4.6h-4.6zM175.0 950.1h4.6v4.6h-4.6zM176.0 947.5h4.6v4.6h-4.6zM175.8 947.8h4.6v4.6h-4.6zM177.7 943.1h4.6v4.6h-4.6zM181.2 942.9h4.6v4.6h-4.6zM181.4 940.5h4.6v4.6h-4.6zM180.8 938.7h4.6v4.6h-4.6zM184.6 936.8h4.6v4.6h-4.6zM186.0 934.7h4.6v4.6h-4.6zM187.0 932.0h4.6v4.6h-4.6zM186.5 929.7h4.6v4.6h-4.6zM186.5 928.9h4.6v4.6h-4.6zM188.8 927.1h4.6v4.6h-4.6zM189.7 924.5h4.6v4.6h-4.6zM191.5 924.8h4.6v4.6h-4.6zM192.1 921.2h4.6v4.6h-4.6zM196.3 920.0h4.6v4.6h-4.6zM195.6 919.7h4.6v4.6h-4.6zM196.4 914.4h4.6v4.6h-4.6zM197.4 913.3h4.6v4.6h-4.6zM201.8 910.6h4.6v4.6h-4.6zM201.0 910.3h4.6v4.6h-4.6zM201.6 905.3h4.6v4.6h-4.6zM205.0 903.3h4.6v4.6h-4.6zM205.8 901.4h4.6v4.6h-4.6zM207.4 901.7h4.6v4.6h-4.6zM208.2 897.5h4.6v4.6h-4.6zM210.1 896.8h4.6v4.6h-4.6zM209.4 893.0h4.6v4.6h-4.6zM211.9 891.7h4.6v4.6h-4.6zM212.8 890.1h4.6v4.6h-4.6zM214.0 888.8h4.6v4.6h-4.6zM215.7 884.1h4.6v4.6h-4.6zM216.0 881.6h4.6v4.6h-4.6zM217.8 882.1h4.6v4.6h-4.6zM219.9 878.4h4.6v4.6h-4.6zM223.1 878.1h4.6v4.6h-4.6zM223.8 873.3h4.6v4.6h-4.6zM223.6 872.4h4.6v4.6h-4.6zM224.8 870.0h4.6v4.6h-4.6zM226.1 867.8h4.6v4.6h-4.6zM229.5 867.3h4.6v4.6h-4.6zM229.9 865.0h4.6v4.6h-4.6zM231.9 864.0h4.6v4.6h-4.6zM231.2 862.7h4.6v4.6h-4.6zM234.3 859.1h4.6v4.6h-4.6zM237.5 858.7h4.6v4.6h-4.6zM236.8 854.3h4.6v4.6h-4.6zM238.5 853.9h4.6v4.6h-4.6zM239.7 850.9h4.6v4.6h-4.6zM241.9 849.6h4.6v4.6h-4.6zM244.1 848.8h4.6v4.6h-4.6zM243.9 848.0h4.6v4.6h-4.6zM245.9 843.5h4.6v4.6h-4.6zM246.7 841.6h4.6v4.6h-4.6zM248.7 842.9h4.6v4.6h-4.6zM251.1 839.7h4.6v4.6h-4.6zM250.1 837.0h4.6v4.6h-4.6zM158.7 990.0h4.6v4.6h-4.6zM141.9 1010.8h4.6v4.6h-4.6zM145.5 1010.8h4.6v4.6h-4.6zM149.2 1010.8h4.6v4.6h-4.6zM152.8 1010.8h4.6v4.6h-4.6zM143.0 997.7h4.6v4.6h-4.6zM146.8 997.7h4.6v4.6h-4.6zM150.6 997.7h4.6v4.6h-4.6zM154.5 997.7h4.6v4.6h-4.6zM158.3 997.7h4.6v4.6h-4.6z" fill="#FF0000"/><path d="M557.0 1051.4L561.3 1042.1L565.6 1032.8L569.9 1023.5L574.2 1014.2L578.6 1004.9L582.9 995.7L587.3 986.4L591.7 977.1L596.2 967.8L600.6 958.5L605.1 949.2L609.6 939.9L614.1 930.6L618.6 921.3L623.2 912.0L627.7 902.7L632.3 893.4L636.9 884.1L641.6 874.9L646.2 865.6L650.9 856.3L655.6 847.0L660.3 837.7L665.0 828.4" fill="none" stroke="#000000" stroke-width="1.2"/><path d="M557.9 1051.4L561.9 1042.2L565.9 1033.0L570.0 1023.8L574.1 1014.6L578.2 1005.4L582.3 996.2L586.4 987.0L590.6 977.8L594.7 968.6L598.9 959.4L603.1 950.2L607.4 941.0L611.6 931.8L615.9 922.6L620.2 913.4L624.5 904.2L628.8 895.0L633.1 885.8L637.5 876.6L641.9 867.4L646.3 858.2L650.7 849.0L655.2 839.8L659.6 830.6" fill="none" stroke="#00FF00" stroke-width="1.2"/><path d="M555.7 1039.3L559.5 1030.2L563.4 1021.2L567.2 1012.1L571.1 1003.1L575.1 994.0L579.0 984.9L583.0 975.9L587.1 966.8L591.1 957.8L595.2 948.7L599.3 939.7L603.4 930.6L607.6 921.5L611.8 912.5L616.0 903.4L620.2 894.4L624.5 885.3L628.8 876.2L633.1 867.2L637.5 858.1L641.9 849.1L646.3 840.0L650.7 831.0L655.2 821.9" fill="none" stroke="#00FFFF" stroke-width="1.2"/><path d="M538.3 1051.4L542.1 1042.1L546.0 1032.7L549.9 1023.4L553.8 1014.1L557.8 1004.7L561.8 995.4L565.9 986.0L570.0 976.7L574.2 967.4L578.4 958.0L582.7 948.7L587.0 939.4L591.3 930.0L595.7 920.7L600.1 911.3L604.6 902.0L609.2 892.7L613.7 883.3L618.3 874.0L623.0 864.6L627.7 855.3L632.5 846.0L637.3 836.6L642.1 827.3" fill="none" stroke="#808000" stroke-width="1.2"/><path d="M524.0 1051.4L528.0 1041.8L532.0 1032.2L536.1 1022.6L540.3 1013.0L544.4 1003.4L548.7 993.8L552.9 984.1L557.2 974.5L561.6 964.9L566.0 955.3L570.4 945.7L574.9 936.1L579.4 926.5L584.0 916.9L588.6 907.3L593.3 897.7L598.0 888.1L602.8 878.5L607.6 868.8L612.4 859.2L617.3 849.6L622.2 840.0L627.2 830.4L632.2 820.8" fill="none" stroke="#800080" stroke-width="1.2"/><path d="M504.4 1051.4L507.7 1042.4L511.1 1033.4L514.6 1024.4L518.1 1015.3L521.7 1006.3L525.5 997.3L529.3 988.3L533.2 979.3L537.2 970.2L541.2 961.2L545.4 952.2L549.6 943.2L553.9 934.2L558.3 925.2L562.8 916.2L567.4 907.1L572.1 898.1L576.8 889.1L581.7 880.1L586.6 871.1L591.6 862.0L596.7 853.0L601.8 844.0L607.1 835.0" fill="none" stroke="#800000" stroke-width="1.2"/><path d="M469.9 1051.4L474.0 1042.2L478.1 1033.0L482.2 1023.8L486.4 1014.6L490.7 1005.4L495.0 996.2L499.3 987.0L503.7 977.8L508.2 968.6L512.7 959.4L517.3 950.2L521.9 941.0L526.5 931.8L531.2 922.6L536.0 913.4L540.8 904.2L545.6 895.0L550.5 885.8L555.4 876.6L560.4 867.4L565.5 858.2L570.6 849.0L575.7 839.8L580.9 830.6" fill="none" stroke="#FF8000" stroke-width="1.2"/><path d="M437.1 1051.4L441.5 1042.4L446.0 1033.4L450.4 1024.4L455.0 1015.3L459.5 1006.3L464.1 997.3L468.7 988.3L473.4 979.3L478.1 970.2L482.8 961.2L487.5 952.2L492.3 943.2L497.2 934.2L502.0 925.2L506.9 916.2L511.8 907.1L516.8 898.1L521.8 889.1L526.8 880.1L531.9 871.1L537.0 862.0L542.1 853.0L547.3 844.0L552.5 835.0" fill="none" stroke="#8000FF" stroke-width="1.2"/><path d="M395.6 1049.2L400.7 1040.1L405.9 1031.0L411.0 1021.9L416.2 1012.8L421.4 1003.7L426.6 994.6L431.8 985.4L437.0 976.3L442.2 967.2L447.4 958.1L452.6 949.0L457.9 939.9L463.1 930.8L468.4 921.7L473.6 912.6L478.9 903.5L484.2 894.4L489.4 885.2L494.7 876.1L500.0 867.0L505.3 857.9L510.7 848.8L516.0 839.7L521.3 830.6" fill="none" stroke="#FF0080" stroke-width="1.2"/><path d="M363.9 1042.6L368.5 1033.9L373.1 1025.2L377.7 1016.5L382.5 1007.8L387.3 999.1L392.1 990.4L397.0 981.7L402.0 973.0L407.0 964.3L412.1 955.6L417.3 946.9L422.5 938.2L427.7 929.6L433.1 920.9L438.5 912.2L443.9 903.5L449.4 894.8L455.0 886.1L460.6 877.4L466.3 868.7L472.0 860.0L477.8 851.3L483.7 842.6L489.6 833.9" fill="none" stroke="#808080" stroke-width="1.2"/><path d="M319.0 1053.6L324.0 1044.4L329.1 1035.2L334.2 1026.0L339.3 1016.8L344.5 1007.6L349.8 998.4L355.1 989.2L360.4 980.0L365.8 970.8L371.3 961.6L376.7 952.4L382.3 943.2L387.9 934.0L393.5 924.8L399.2 915.6L404.9 906.4L410.7 897.2L416.5 888.0L422.4 878.8L428.3 869.6L434.2 860.4L440.3 851.2L446.3 842.0L452.4 832.8" fill="none" stroke="#000080" stroke-width="1.2"/><path d="M275.3 1053.6L281.2 1044.3L287.1 1035.0L293.0 1025.7L298.8 1016.4L304.7 1007.1L310.6 997.8L316.4 988.6L322.3 979.3L328.1 970.0L334.0 960.7L339.8 951.4L345.7 942.1L351.5 932.8L357.3 923.5L363.1 914.2L368.9 904.9L374.7 895.6L380.5 886.4L386.3 877.1L392.1 867.8L397.9 858.5L403.7 849.2L409.5 839.9L415.2 830.6" fill="none" stroke="#FFFF00" stroke-width="1.2"/><path d="M256.8 1020.8L261.6 1013.1L266.4 1005.3L271.2 997.6L276.0 989.8L280.9 982.1L285.8 974.3L290.8 966.6L295.7 958.9L300.7 951.1L305.8 943.4L310.8 935.6L315.9 927.9L321.0 920.2L326.2 912.4L331.3 904.7L336.5 896.9L341.8 889.2L347.0 881.5L352.3 873.7L357.6 866.0L363.0 858.2L368.4 850.5L373.8 842.7L379.2 835.0" fill="none" stroke="#008080" stroke-width="1.2"/><path d="M217.4 1019.7L222.2 1011.9L227.1 1004.0L232.0 996.2L236.8 988.4L241.8 980.5L246.7 972.7L251.6 964.9L256.6 957.0L261.6 949.2L266.6 941.4L271.6 933.5L276.7 925.7L281.7 917.9L286.8 910.0L291.9 902.2L297.1 894.4L302.2 886.5L307.4 878.7L312.5 870.9L317.7 863.0L323.0 855.2L328.2 847.4L333.4 839.5L338.7 831.7" fill="none" stroke="#0000FF" stroke-width="1.2"/><path d="M185.7 1002.2L190.2 995.1L194.6 988.0L199.1 980.9L203.6 973.8L208.2 966.7L212.7 959.6L217.2 952.5L221.8 945.4L226.3 938.3L230.9 931.2L235.5 924.1L240.1 917.0L244.7 909.8L249.3 902.7L254.0 895.6L258.6 888.5L263.2 881.4L267.9 874.3L272.6 867.2L277.3 860.1L282.0 853.0L286.7 845.9L291.4 838.8L296.1 831.7" fill="none" stroke="#FF00FF" stroke-width="1.2"/><path d="M145.3 1014.2L148.5 1007.1L151.9 999.9L155.3 992.8L158.9 985.6L162.6 978.5L166.4 971.3L170.3 964.2L174.4 957.0L178.5 949.9L182.8 942.7L187.2 935.6L191.7 928.4L196.3 921.2L201.0 914.1L205.9 907.0L210.8 899.8L215.9 892.6L221.1 885.5L226.4 878.4L231.8 871.2L237.3 864.0L243.0 856.9L248.7 849.8L254.6 842.6" fill="none" stroke="#FF0000" stroke-width="1.2"/></g>
<rect x="142" y="23.8" width="866.4" height="257.7" fill="none" stroke="#000" stroke-width="2.2"/>
<line x1="130.5" y1="281.50" x2="142" y2="281.50" stroke="#000" stroke-width="2.2"/>
<line x1="136.0" y1="268.57" x2="142" y2="268.57" stroke="#000" stroke-width="1.6"/>
<line x1="136.0" y1="261.01" x2="142" y2="261.01" stroke="#000" stroke-width="1.6"/>
<line x1="136.0" y1="255.64" x2="142" y2="255.64" stroke="#000" stroke-width="1.6"/>
<line x1="136.0" y1="251.48" x2="142" y2="251.48" stroke="#000" stroke-width="1.6"/>
<line x1="136.0" y1="248.08" x2="142" y2="248.08" stroke="#000" stroke-width="1.6"/>
<line x1="136.0" y1="245.20" x2="142" y2="245.20" stroke="#000" stroke-width="1.6"/>
<line x1="136.0" y1="242.71" x2="142" y2="242.71" stroke="#000" stroke-width="1.6"/>
<line x1="136.0" y1="240.52" x2="142" y2="240.52" stroke="#000" stroke-width="1.6"/>
<line x1="130.5" y1="238.55" x2="142" y2="238.55" stroke="#000" stroke-width="2.2"/>
<line x1="136.0" y1="225.62" x2="142" y2="225.62" stroke="#000" stroke-width="1.6"/>
<line x1="136.0" y1="218.06" x2="142" y2="218.06" stroke="#000" stroke-width="1.6"/>
<line x1="136.0" y1="212.69" x2="142" y2="212.69" stroke="#000" stroke-width="1.6"/>
<line x1="136.0" y1="208.53" x2="142" y2="208.53" stroke="#000" stroke-width="1.6"/>
<line x1="136.0" y1="205.13" x2="142" y2="205.13" stroke="#000" stroke-width="1.6"/>
<line x1="136.0" y1="202.25" x2="142" y2="202.25" stroke="#000" stroke-width="1.6"/>
<line x1="136.0" y1="199.76" x2="142" y2="199.76" stroke="#000" stroke-width="1.6"/>
<line x1="136.0" y1="197.57" x2="142" y2="197.57" stroke="#000" stroke-width="1.6"/>
<line x1="130.5" y1="195.60" x2="142" y2="195.60" stroke="#000" stroke-width="2.2"/>
<line x1="136.0" y1="182.67" x2="142" y2="182.67" stroke="#000" stroke-width="1.6"/>
<line x1="136.0" y1="175.11" x2="142" y2="175.11" stroke="#000" stroke-width="1.6"/>
<line x1="136.0" y1="169.74" x2="142" y2="169.74" stroke="#000" stroke-width="1.6"/>
<line x1="136.0" y1="165.58" x2="142" y2="165.58" stroke="#000" stroke-width="1.6"/>
<line x1="136.0" y1="162.18" x2="142" y2="162.18" stroke="#000" stroke-width="1.6"/>
<line x1="136.0" y1="159.30" x2="142" y2="159.30" stroke="#000" stroke-width="1.6"/>
<line x1="136.0" y1="156.81" x2="142" y2="156.81" stroke="#000" stroke-width="1.6"/>
<line x1="136.0" y1="154.62" x2="142" y2="154.62" stroke="#000" stroke-width="1.6"/>
<line x1="130.5" y1="152.65" x2="142" y2="152.65" stroke="#000" stroke-width="2.2"/>
<line x1="136.0" y1="139.72" x2="142" y2="139.72" stroke="#000" stroke-width="1.6"/>
<line x1="136.0" y1="132.16" x2="142" y2="132.16" stroke="#000" stroke-width="1.6"/>
<line x1="136.0" y1="126.79" x2="142" y2="126.79" stroke="#000" stroke-width="1.6"/>
<line x1="136.0" y1="122.63" x2="142" y2="122.63" stroke="#000" stroke-width="1.6"/>
<line x1="136.0" y1="119.23" x2="142" y2="119.23" stroke="#000" stroke-width="1.6"/>
<line x1="136.0" y1="116.35" x2="142" y2="116.35" stroke="#000" stroke-width="1.6"/>
<line x1="136.0" y1="113.86" x2="142" y2="113.86" stroke="#000" stroke-width="1.6"/>
<line x1="136.0" y1="111.67" x2="142" y2="111.67" stroke="#000" stroke-width="1.6"/>
<line x1="130.5" y1="109.70" x2="142" y2="109.70" stroke="#000" stroke-width="2.2"/>
<line x1="136.0" y1="96.77" x2="142" y2="96.77" stroke="#000" stroke-width="1.6"/>
<line x1="136.0" y1="89.21" x2="142" y2="89.21" stroke="#000" stroke-width="1.6"/>
<line x1="136.0" y1="83.84" x2="142" y2="83.84" stroke="#000" stroke-width="1.6"/>
<line x1="136.0" y1="79.68" x2="142" y2="79.68" stroke="#000" stroke-width="1.6"/>
<line x1="136.0" y1="76.28" x2="142" y2="76.28" stroke="#000" stroke-width="1.6"/>
<line x1="136.0" y1="73.40" x2="142" y2="73.40" stroke="#000" stroke-width="1.6"/>
<line x1="136.0" y1="70.91" x2="142" y2="70.91" stroke="#000" stroke-width="1.6"/>
<line x1="136.0" y1="68.72" x2="142" y2="68.72" stroke="#000" stroke-width="1.6"/>
<line x1="130.5" y1="66.75" x2="142" y2="66.75" stroke="#000" stroke-width="2.2"/>
<line x1="136.0" y1="53.82" x2="142" y2="53.82" stroke="#000" stroke-width="1.6"/>
<line x1="136.0" y1="46.26" x2="142" y2="46.26" stroke="#000" stroke-width="1.6"/>
<line x1="136.0" y1="40.89" x2="142" y2="40.89" stroke="#000" stroke-width="1.6"/>
<line x1="136.0" y1="36.73" x2="142" y2="36.73" stroke="#000" stroke-width="1.6"/>
<line x1="136.0" y1="33.33" x2="142" y2="33.33" stroke="#000" stroke-width="1.6"/>
<line x1="136.0" y1="30.45" x2="142" y2="30.45" stroke="#000" stroke-width="1.6"/>
<line x1="136.0" y1="27.96" x2="142" y2="27.96" stroke="#000" stroke-width="1.6"/>
<line x1="136.0" y1="25.77" x2="142" y2="25.77" stroke="#000" stroke-width="1.6"/>
<line x1="130.5" y1="23.80" x2="142" y2="23.80" stroke="#000" stroke-width="2.2"/>
<line x1="272.78" y1="281.5" x2="272.78" y2="293.0" stroke="#000" stroke-width="2.2"/>
<line x1="436.25" y1="281.5" x2="436.25" y2="293.0" stroke="#000" stroke-width="2.2"/>
<line x1="599.72" y1="281.5" x2="599.72" y2="293.0" stroke="#000" stroke-width="2.2"/>
<line x1="763.19" y1="281.5" x2="763.19" y2="293.0" stroke="#000" stroke-width="2.2"/>
<line x1="926.66" y1="281.5" x2="926.66" y2="293.0" stroke="#000" stroke-width="2.2"/>
<line x1="191.04" y1="281.5" x2="191.04" y2="287.5" stroke="#000" stroke-width="2.2"/>
<line x1="354.51" y1="281.5" x2="354.51" y2="287.5" stroke="#000" stroke-width="2.2"/>
<line x1="517.98" y1="281.5" x2="517.98" y2="287.5" stroke="#000" stroke-width="2.2"/>
<line x1="681.46" y1="281.5" x2="681.46" y2="287.5" stroke="#000" stroke-width="2.2"/>
<line x1="844.93" y1="281.5" x2="844.93" y2="287.5" stroke="#000" stroke-width="2.2"/>
<line x1="1008.40" y1="281.5" x2="1008.40" y2="287.5" stroke="#000" stroke-width="2.2"/>
<text x="272.78" y="325.9" font-size="31.5" text-anchor="middle">16.0&#956;</text>
<text x="436.25" y="325.9" font-size="31.5" text-anchor="middle">18.0&#956;</text>
<text x="599.72" y="325.9" font-size="31.5" text-anchor="middle">20.0&#956;</text>
<text x="763.19" y="325.9" font-size="31.5" text-anchor="middle">22.0&#956;</text>
<text x="926.66" y="325.9" font-size="31.5" text-anchor="middle">24.0&#956;</text>
<text x="121.7" y="292.6" font-size="32" text-anchor="end">10<tspan font-size="18" dy="-16.3" dx="-0.3">0</tspan></text>
<text x="121.7" y="206.7" font-size="32" text-anchor="end">10<tspan font-size="18" dy="-16.3" dx="-0.3">2</tspan></text>
<text x="121.7" y="120.8" font-size="32" text-anchor="end">10<tspan font-size="18" dy="-16.3" dx="-0.3">4</tspan></text>
<text x="121.7" y="34.9" font-size="32" text-anchor="end">10<tspan font-size="18" dy="-16.3" dx="-0.3">6</tspan></text>
<rect x="142" y="403.4" width="866.3" height="257.9" fill="none" stroke="#000" stroke-width="2.2"/>
<line x1="130.5" y1="661.30" x2="142" y2="661.30" stroke="#000" stroke-width="2.2"/>
<line x1="136.0" y1="650.21" x2="142" y2="650.21" stroke="#000" stroke-width="1.6"/>
<line x1="136.0" y1="643.72" x2="142" y2="643.72" stroke="#000" stroke-width="1.6"/>
<line x1="136.0" y1="639.12" x2="142" y2="639.12" stroke="#000" stroke-width="1.6"/>
<line x1="136.0" y1="635.55" x2="142" y2="635.55" stroke="#000" stroke-width="1.6"/>
<line x1="136.0" y1="632.63" x2="142" y2="632.63" stroke="#000" stroke-width="1.6"/>
<line x1="136.0" y1="630.16" x2="142" y2="630.16" stroke="#000" stroke-width="1.6"/>
<line x1="136.0" y1="628.03" x2="142" y2="628.03" stroke="#000" stroke-width="1.6"/>
<line x1="136.0" y1="626.14" x2="142" y2="626.14" stroke="#000" stroke-width="1.6"/>
<line x1="130.5" y1="624.46" x2="142" y2="624.46" stroke="#000" stroke-width="2.2"/>
<line x1="136.0" y1="613.37" x2="142" y2="613.37" stroke="#000" stroke-width="1.6"/>
<line x1="136.0" y1="606.88" x2="142" y2="606.88" stroke="#000" stroke-width="1.6"/>
<line x1="136.0" y1="602.28" x2="142" y2="602.28" stroke="#000" stroke-width="1.6"/>
<line x1="136.0" y1="598.71" x2="142" y2="598.71" stroke="#000" stroke-width="1.6"/>
<line x1="136.0" y1="595.79" x2="142" y2="595.79" stroke="#000" stroke-width="1.6"/>
<line x1="136.0" y1="593.32" x2="142" y2="593.32" stroke="#000" stroke-width="1.6"/>
<line x1="136.0" y1="591.18" x2="142" y2="591.18" stroke="#000" stroke-width="1.6"/>
<line x1="136.0" y1="589.30" x2="142" y2="589.30" stroke="#000" stroke-width="1.6"/>
<line x1="130.5" y1="587.61" x2="142" y2="587.61" stroke="#000" stroke-width="2.2"/>
<line x1="136.0" y1="576.52" x2="142" y2="576.52" stroke="#000" stroke-width="1.6"/>
<line x1="136.0" y1="570.04" x2="142" y2="570.04" stroke="#000" stroke-width="1.6"/>
<line x1="136.0" y1="565.43" x2="142" y2="565.43" stroke="#000" stroke-width="1.6"/>
<line x1="136.0" y1="561.86" x2="142" y2="561.86" stroke="#000" stroke-width="1.6"/>
<line x1="136.0" y1="558.94" x2="142" y2="558.94" stroke="#000" stroke-width="1.6"/>
<line x1="136.0" y1="556.48" x2="142" y2="556.48" stroke="#000" stroke-width="1.6"/>
<line x1="136.0" y1="554.34" x2="142" y2="554.34" stroke="#000" stroke-width="1.6"/>
<line x1="136.0" y1="552.46" x2="142" y2="552.46" stroke="#000" stroke-width="1.6"/>
<line x1="130.5" y1="550.77" x2="142" y2="550.77" stroke="#000" stroke-width="2.2"/>
<line x1="136.0" y1="539.68" x2="142" y2="539.68" stroke="#000" stroke-width="1.6"/>
<line x1="136.0" y1="533.19" x2="142" y2="533.19" stroke="#000" stroke-width="1.6"/>
<line x1="136.0" y1="528.59" x2="142" y2="528.59" stroke="#000" stroke-width="1.6"/>
<line x1="136.0" y1="525.02" x2="142" y2="525.02" stroke="#000" stroke-width="1.6"/>
<line x1="136.0" y1="522.10" x2="142" y2="522.10" stroke="#000" stroke-width="1.6"/>
<line x1="136.0" y1="519.64" x2="142" y2="519.64" stroke="#000" stroke-width="1.6"/>
<line x1="136.0" y1="517.50" x2="142" y2="517.50" stroke="#000" stroke-width="1.6"/>
<line x1="136.0" y1="515.61" x2="142" y2="515.61" stroke="#000" stroke-width="1.6"/>
<line x1="130.5" y1="513.93" x2="142" y2="513.93" stroke="#000" stroke-width="2.2"/>
<line x1="136.0" y1="502.84" x2="142" y2="502.84" stroke="#000" stroke-width="1.6"/>
<line x1="136.0" y1="496.35" x2="142" y2="496.35" stroke="#000" stroke-width="1.6"/>
<line x1="136.0" y1="491.75" x2="142" y2="491.75" stroke="#000" stroke-width="1.6"/>
<line x1="136.0" y1="488.18" x2="142" y2="488.18" stroke="#000" stroke-width="1.6"/>
<line x1="136.0" y1="485.26" x2="142" y2="485.26" stroke="#000" stroke-width="1.6"/>
<line x1="136.0" y1="482.79" x2="142" y2="482.79" stroke="#000" stroke-width="1.6"/>
<line x1="136.0" y1="480.66" x2="142" y2="480.66" stroke="#000" stroke-width="1.6"/>
<line x1="136.0" y1="478.77" x2="142" y2="478.77" stroke="#000" stroke-width="1.6"/>
<line x1="130.5" y1="477.09" x2="142" y2="477.09" stroke="#000" stroke-width="2.2"/>
<line x1="136.0" y1="465.99" x2="142" y2="465.99" stroke="#000" stroke-width="1.6"/>
<line x1="136.0" y1="459.51" x2="142" y2="459.51" stroke="#000" stroke-width="1.6"/>
<line x1="136.0" y1="454.90" x2="142" y2="454.90" stroke="#000" stroke-width="1.6"/>
<line x1="136.0" y1="451.33" x2="142" y2="451.33" stroke="#000" stroke-width="1.6"/>
<line x1="136.0" y1="448.42" x2="142" y2="448.42" stroke="#000" stroke-width="1.6"/>
<line x1="136.0" y1="445.95" x2="142" y2="445.95" stroke="#000" stroke-width="1.6"/>
<line x1="136.0" y1="443.81" x2="142" y2="443.81" stroke="#000" stroke-width="1.6"/>
<line x1="136.0" y1="441.93" x2="142" y2="441.93" stroke="#000" stroke-width="1.6"/>
<line x1="130.5" y1="440.24" x2="142" y2="440.24" stroke="#000" stroke-width="2.2"/>
<line x1="136.0" y1="429.15" x2="142" y2="429.15" stroke="#000" stroke-width="1.6"/>
<line x1="136.0" y1="422.66" x2="142" y2="422.66" stroke="#000" stroke-width="1.6"/>
<line x1="136.0" y1="418.06" x2="142" y2="418.06" stroke="#000" stroke-width="1.6"/>
<line x1="136.0" y1="414.49" x2="142" y2="414.49" stroke="#000" stroke-width="1.6"/>
<line x1="136.0" y1="411.57" x2="142" y2="411.57" stroke="#000" stroke-width="1.6"/>
<line x1="136.0" y1="409.11" x2="142" y2="409.11" stroke="#000" stroke-width="1.6"/>
<line x1="136.0" y1="406.97" x2="142" y2="406.97" stroke="#000" stroke-width="1.6"/>
<line x1="136.0" y1="405.09" x2="142" y2="405.09" stroke="#000" stroke-width="1.6"/>
<line x1="130.5" y1="403.40" x2="142" y2="403.40" stroke="#000" stroke-width="2.2"/>
<line x1="142.00" y1="661.3" x2="142.00" y2="672.8" stroke="#000" stroke-width="2.2"/>
<line x1="299.51" y1="661.3" x2="299.51" y2="672.8" stroke="#000" stroke-width="2.2"/>
<line x1="457.02" y1="661.3" x2="457.02" y2="672.8" stroke="#000" stroke-width="2.2"/>
<line x1="614.53" y1="661.3" x2="614.53" y2="672.8" stroke="#000" stroke-width="2.2"/>
<line x1="772.04" y1="661.3" x2="772.04" y2="672.8" stroke="#000" stroke-width="2.2"/>
<line x1="929.55" y1="661.3" x2="929.55" y2="672.8" stroke="#000" stroke-width="2.2"/>
<line x1="220.75" y1="661.3" x2="220.75" y2="667.3" stroke="#000" stroke-width="2.2"/>
<line x1="378.26" y1="661.3" x2="378.26" y2="667.3" stroke="#000" stroke-width="2.2"/>
<line x1="535.77" y1="661.3" x2="535.77" y2="667.3" stroke="#000" stroke-width="2.2"/>
<line x1="693.28" y1="661.3" x2="693.28" y2="667.3" stroke="#000" stroke-width="2.2"/>
<line x1="850.79" y1="661.3" x2="850.79" y2="667.3" stroke="#000" stroke-width="2.2"/>
<line x1="1008.30" y1="661.3" x2="1008.30" y2="667.3" stroke="#000" stroke-width="2.2"/>
<text x="142.00" y="705.7" font-size="31.5" text-anchor="middle">26.0&#956;</text>
<text x="299.51" y="705.7" font-size="31.5" text-anchor="middle">27.0&#956;</text>
<text x="457.02" y="705.7" font-size="31.5" text-anchor="middle">28.0&#956;</text>
<text x="614.53" y="705.7" font-size="31.5" text-anchor="middle">29.0&#956;</text>
<text x="772.04" y="705.7" font-size="31.5" text-anchor="middle">30.0&#956;</text>
<text x="929.55" y="705.7" font-size="31.5" text-anchor="middle">31.0&#956;</text>
<text x="121.7" y="672.4" font-size="32" text-anchor="end">10<tspan font-size="18" dy="-16.3" dx="-0.3">-1</tspan></text>
<text x="121.7" y="598.7" font-size="32" text-anchor="end">10<tspan font-size="18" dy="-16.3" dx="-0.3">1</tspan></text>
<text x="121.7" y="525.0" font-size="32" text-anchor="end">10<tspan font-size="18" dy="-16.3" dx="-0.3">3</tspan></text>
<text x="121.7" y="451.3" font-size="32" text-anchor="end">10<tspan font-size="18" dy="-16.3" dx="-0.3">5</tspan></text>
<rect x="142" y="796.1" width="866.5" height="257.1" fill="none" stroke="#000" stroke-width="2.2"/>
<line x1="130.5" y1="1053.20" x2="142" y2="1053.20" stroke="#000" stroke-width="2.2"/>
<line x1="136.0" y1="1040.30" x2="142" y2="1040.30" stroke="#000" stroke-width="1.6"/>
<line x1="136.0" y1="1032.76" x2="142" y2="1032.76" stroke="#000" stroke-width="1.6"/>
<line x1="136.0" y1="1027.40" x2="142" y2="1027.40" stroke="#000" stroke-width="1.6"/>
<line x1="136.0" y1="1023.25" x2="142" y2="1023.25" stroke="#000" stroke-width="1.6"/>
<line x1="136.0" y1="1019.86" x2="142" y2="1019.86" stroke="#000" stroke-width="1.6"/>
<line x1="136.0" y1="1016.99" x2="142" y2="1016.99" stroke="#000" stroke-width="1.6"/>
<line x1="136.0" y1="1014.50" x2="142" y2="1014.50" stroke="#000" stroke-width="1.6"/>
<line x1="136.0" y1="1012.31" x2="142" y2="1012.31" stroke="#000" stroke-width="1.6"/>
<line x1="130.5" y1="1010.35" x2="142" y2="1010.35" stroke="#000" stroke-width="2.2"/>
<line x1="136.0" y1="997.45" x2="142" y2="997.45" stroke="#000" stroke-width="1.6"/>
<line x1="136.0" y1="989.91" x2="142" y2="989.91" stroke="#000" stroke-width="1.6"/>
<line x1="136.0" y1="984.55" x2="142" y2="984.55" stroke="#000" stroke-width="1.6"/>
<line x1="136.0" y1="980.40" x2="142" y2="980.40" stroke="#000" stroke-width="1.6"/>
<line x1="136.0" y1="977.01" x2="142" y2="977.01" stroke="#000" stroke-width="1.6"/>
<line x1="136.0" y1="974.14" x2="142" y2="974.14" stroke="#000" stroke-width="1.6"/>
<line x1="136.0" y1="971.65" x2="142" y2="971.65" stroke="#000" stroke-width="1.6"/>
<line x1="136.0" y1="969.46" x2="142" y2="969.46" stroke="#000" stroke-width="1.6"/>
<line x1="130.5" y1="967.50" x2="142" y2="967.50" stroke="#000" stroke-width="2.2"/>
<line x1="136.0" y1="954.60" x2="142" y2="954.60" stroke="#000" stroke-width="1.6"/>
<line x1="136.0" y1="947.06" x2="142" y2="947.06" stroke="#000" stroke-width="1.6"/>
<line x1="136.0" y1="941.70" x2="142" y2="941.70" stroke="#000" stroke-width="1.6"/>
<line x1="136.0" y1="937.55" x2="142" y2="937.55" stroke="#000" stroke-width="1.6"/>
<line x1="136.0" y1="934.16" x2="142" y2="934.16" stroke="#000" stroke-width="1.6"/>
<line x1="136.0" y1="931.29" x2="142" y2="931.29" stroke="#000" stroke-width="1.6"/>
<line x1="136.0" y1="928.80" x2="142" y2="928.80" stroke="#000" stroke-width="1.6"/>
<line x1="136.0" y1="926.61" x2="142" y2="926.61" stroke="#000" stroke-width="1.6"/>
<line x1="130.5" y1="924.65" x2="142" y2="924.65" stroke="#000" stroke-width="2.2"/>
<line x1="136.0" y1="911.75" x2="142" y2="911.75" stroke="#000" stroke-width="1.6"/>
<line x1="136.0" y1="904.21" x2="142" y2="904.21" stroke="#000" stroke-width="1.6"/>
<line x1="136.0" y1="898.85" x2="142" y2="898.85" stroke="#000" stroke-width="1.6"/>
<line x1="136.0" y1="894.70" x2="142" y2="894.70" stroke="#000" stroke-width="1.6"/>
<line x1="136.0" y1="891.31" x2="142" y2="891.31" stroke="#000" stroke-width="1.6"/>
<line x1="136.0" y1="888.44" x2="142" y2="888.44" stroke="#000" stroke-width="1.6"/>
<line x1="136.0" y1="885.95" x2="142" y2="885.95" stroke="#000" stroke-width="1.6"/>
<line x1="136.0" y1="883.76" x2="142" y2="883.76" stroke="#000" stroke-width="1.6"/>
<line x1="130.5" y1="881.80" x2="142" y2="881.80" stroke="#000" stroke-width="2.2"/>
<line x1="136.0" y1="868.90" x2="142" y2="868.90" stroke="#000" stroke-width="1.6"/>
<line x1="136.0" y1="861.36" x2="142" y2="861.36" stroke="#000" stroke-width="1.6"/>
<line x1="136.0" y1="856.00" x2="142" y2="856.00" stroke="#000" stroke-width="1.6"/>
<line x1="136.0" y1="851.85" x2="142" y2="851.85" stroke="#000" stroke-width="1.6"/>
<line x1="136.0" y1="848.46" x2="142" y2="848.46" stroke="#000" stroke-width="1.6"/>
<line x1="136.0" y1="845.59" x2="142" y2="845.59" stroke="#000" stroke-width="1.6"/>
<line x1="136.0" y1="843.10" x2="142" y2="843.10" stroke="#000" stroke-width="1.6"/>
<line x1="136.0" y1="840.91" x2="142" y2="840.91" stroke="#000" stroke-width="1.6"/>
<line x1="130.5" y1="838.95" x2="142" y2="838.95" stroke="#000" stroke-width="2.2"/>
<line x1="136.0" y1="826.05" x2="142" y2="826.05" stroke="#000" stroke-width="1.6"/>
<line x1="136.0" y1="818.51" x2="142" y2="818.51" stroke="#000" stroke-width="1.6"/>
<line x1="136.0" y1="813.15" x2="142" y2="813.15" stroke="#000" stroke-width="1.6"/>
<line x1="136.0" y1="809.00" x2="142" y2="809.00" stroke="#000" stroke-width="1.6"/>
<line x1="136.0" y1="805.61" x2="142" y2="805.61" stroke="#000" stroke-width="1.6"/>
<line x1="136.0" y1="802.74" x2="142" y2="802.74" stroke="#000" stroke-width="1.6"/>
<line x1="136.0" y1="800.25" x2="142" y2="800.25" stroke="#000" stroke-width="1.6"/>
<line x1="136.0" y1="798.06" x2="142" y2="798.06" stroke="#000" stroke-width="1.6"/>
<line x1="130.5" y1="796.10" x2="142" y2="796.10" stroke="#000" stroke-width="2.2"/>
<line x1="208.65" y1="1053.2" x2="208.65" y2="1064.7" stroke="#000" stroke-width="2.2"/>
<line x1="341.96" y1="1053.2" x2="341.96" y2="1064.7" stroke="#000" stroke-width="2.2"/>
<line x1="475.27" y1="1053.2" x2="475.27" y2="1064.7" stroke="#000" stroke-width="2.2"/>
<line x1="608.58" y1="1053.2" x2="608.58" y2="1064.7" stroke="#000" stroke-width="2.2"/>
<line x1="741.88" y1="1053.2" x2="741.88" y2="1064.7" stroke="#000" stroke-width="2.2"/>
<line x1="875.19" y1="1053.2" x2="875.19" y2="1064.7" stroke="#000" stroke-width="2.2"/>
<line x1="1008.50" y1="1053.2" x2="1008.50" y2="1064.7" stroke="#000" stroke-width="2.2"/>
<line x1="142.00" y1="1053.2" x2="142.00" y2="1059.2" stroke="#000" stroke-width="2.2"/>
<line x1="275.31" y1="1053.2" x2="275.31" y2="1059.2" stroke="#000" stroke-width="2.2"/>
<line x1="408.62" y1="1053.2" x2="408.62" y2="1059.2" stroke="#000" stroke-width="2.2"/>
<line x1="541.92" y1="1053.2" x2="541.92" y2="1059.2" stroke="#000" stroke-width="2.2"/>
<line x1="675.23" y1="1053.2" x2="675.23" y2="1059.2" stroke="#000" stroke-width="2.2"/>
<line x1="808.54" y1="1053.2" x2="808.54" y2="1059.2" stroke="#000" stroke-width="2.2"/>
<line x1="941.85" y1="1053.2" x2="941.85" y2="1059.2" stroke="#000" stroke-width="2.2"/>
<text x="208.65" y="1097.6" font-size="31.5" text-anchor="middle">14.0&#956;</text>
<text x="341.96" y="1097.6" font-size="31.5" text-anchor="middle">16.0&#956;</text>
<text x="475.27" y="1097.6" font-size="31.5" text-anchor="middle">18.0&#956;</text>
<text x="608.58" y="1097.6" font-size="31.5" text-anchor="middle">20.0&#956;</text>
<text x="741.88" y="1097.6" font-size="31.5" text-anchor="middle">22.0&#956;</text>
<text x="875.19" y="1097.6" font-size="31.5" text-anchor="middle">24.0&#956;</text>
<text x="1008.50" y="1097.6" font-size="31.5" text-anchor="middle">26.0&#956;</text>
<text x="121.7" y="1064.3" font-size="32" text-anchor="end">10<tspan font-size="18" dy="-16.3" dx="-0.3">0</tspan></text>
<text x="121.7" y="978.6" font-size="32" text-anchor="end">10<tspan font-size="18" dy="-16.3" dx="-0.3">2</tspan></text>
<text x="121.7" y="892.9" font-size="32" text-anchor="end">10<tspan font-size="18" dy="-16.3" dx="-0.3">4</tspan></text>
<text x="121.7" y="807.2" font-size="32" text-anchor="end">10<tspan font-size="18" dy="-16.3" dx="-0.3">6</tspan></text>
<text transform="translate(50.9,182.2) rotate(-90)" font-size="40" text-anchor="middle">Rate (s<tspan font-size="22" dy="-21.5">-1</tspan><tspan dy="21.5">)</tspan></text>
<text x="575.1" y="374.4" font-size="39.4" text-anchor="middle">Current (A)</text>
<text transform="translate(43.6,561) rotate(-90)" font-size="40" text-anchor="middle">Rate (s<tspan font-size="22" dy="-21.5">-1</tspan><tspan dy="21.5">)</tspan></text>
<text x="575.1" y="760" font-size="39.4" text-anchor="middle">Current (A)</text>
<text transform="translate(50.4,954.5) rotate(-90)" font-size="40" text-anchor="middle">Rate (s<tspan font-size="22" dy="-21.5">-1</tspan><tspan dy="21.5">)</tspan></text>
<text x="575.1" y="1152.1" font-size="39.4" text-anchor="middle">Current (A)</text>
<text x="155.3" y="60.3" font-size="34">Sample 4</text>
<text x="155.3" y="440.8" font-size="34">Sample 7</text>
<text x="155.3" y="827.3" font-size="34">Sample 12</text>
<line x1="766.8" y1="45.30" x2="816.5" y2="45.30" stroke="#FF0000" stroke-width="2"/><text x="821.8" y="53.00" font-size="20" letter-spacing="1">1.47 K</text>
<line x1="892.8" y1="45.30" x2="942.6" y2="45.30" stroke="#00FF00" stroke-width="2"/><text x="946.7" y="53.00" font-size="20" letter-spacing="1">1.5 K</text>
<line x1="766.8" y1="72.66" x2="816.5" y2="72.66" stroke="#0000FF" stroke-width="2"/><text x="821.8" y="80.36" font-size="20" letter-spacing="1">1.6 K</text>
<line x1="880.1" y1="72.66" x2="929.9" y2="72.66" stroke="#00FFFF" stroke-width="2"/><text x="934.4" y="80.36" font-size="20" letter-spacing="1">1.7 K</text>
<line x1="766.8" y1="100.02" x2="816.5" y2="100.02" stroke="#FF00FF" stroke-width="2"/><text x="821.8" y="107.72" font-size="20" letter-spacing="1">1.8 K</text>
<line x1="880.1" y1="100.02" x2="929.9" y2="100.02" stroke="#FF8000" stroke-width="2"/><text x="934.4" y="107.72" font-size="20" letter-spacing="1">1.9 K</text>
<line x1="766.8" y1="127.38" x2="816.5" y2="127.38" stroke="#8000FF" stroke-width="2"/><text x="821.8" y="135.08" font-size="20" letter-spacing="1">2.0 K</text>
<line x1="880.1" y1="127.38" x2="929.9" y2="127.38" stroke="#800000" stroke-width="2"/><text x="934.4" y="135.08" font-size="20" letter-spacing="1">2.2 K</text>
<line x1="766.8" y1="154.74" x2="816.5" y2="154.74" stroke="#808080" stroke-width="2"/><text x="821.8" y="162.44" font-size="20" letter-spacing="1">2.4 K</text>
<line x1="880.1" y1="154.74" x2="929.9" y2="154.74" stroke="#800080" stroke-width="2"/><text x="934.4" y="162.44" font-size="20" letter-spacing="1">2.6 K</text>
<line x1="766.8" y1="182.10" x2="816.5" y2="182.10" stroke="#FF0080" stroke-width="2"/><text x="821.8" y="189.80" font-size="20" letter-spacing="1">2.8 K</text>
<line x1="880.1" y1="182.10" x2="929.9" y2="182.10" stroke="#000000" stroke-width="2"/><text x="934.4" y="189.80" font-size="20" letter-spacing="1">3.0 K</text>
<line x1="766.8" y1="209.46" x2="816.5" y2="209.46" stroke="#FF0000" stroke-width="2"/><text x="821.8" y="217.16" font-size="20" letter-spacing="1">3.2 K</text>
<line x1="880.1" y1="209.46" x2="929.9" y2="209.46" stroke="#800000" stroke-width="2"/><text x="934.4" y="217.16" font-size="20" letter-spacing="1">3.4 K</text>
<line x1="766.8" y1="236.82" x2="816.5" y2="236.82" stroke="#FFFF00" stroke-width="2"/><text x="821.8" y="244.52" font-size="20" letter-spacing="1">3.6 K</text>
<line x1="880.1" y1="236.82" x2="929.9" y2="236.82" stroke="#008080" stroke-width="2"/><text x="934.4" y="244.52" font-size="20" letter-spacing="1">3.8 K</text>
<line x1="762.1" y1="502.10" x2="814.5" y2="502.10" stroke="#000000" stroke-width="2"/><text x="819.8" y="510.10" font-size="21" letter-spacing="1.2">1.5 K</text>
<line x1="882.4" y1="502.10" x2="934" y2="502.10" stroke="#FF0000" stroke-width="2"/><text x="939.6" y="510.10" font-size="21" letter-spacing="1.2">1.6 K</text>
<line x1="762.1" y1="530.68" x2="814.5" y2="530.68" stroke="#00FF00" stroke-width="2"/><text x="819.8" y="538.68" font-size="21" letter-spacing="1.2">1.7 K</text>
<line x1="882.4" y1="530.68" x2="934" y2="530.68" stroke="#0000FF" stroke-width="2"/><text x="939.6" y="538.68" font-size="21" letter-spacing="1.2">1.8 K</text>
<line x1="762.1" y1="559.26" x2="814.5" y2="559.26" stroke="#00FFFF" stroke-width="2"/><text x="819.8" y="567.26" font-size="21" letter-spacing="1.2">1.9 K</text>
<line x1="882.4" y1="559.26" x2="934" y2="559.26" stroke="#FF00FF" stroke-width="2"/><text x="939.6" y="567.26" font-size="21" letter-spacing="1.2">2.0 K</text>
<line x1="762.1" y1="587.84" x2="814.5" y2="587.84" stroke="#FF8000" stroke-width="2"/><text x="819.8" y="595.84" font-size="21" letter-spacing="1.2">2.1 K</text>
<line x1="882.4" y1="587.84" x2="934" y2="587.84" stroke="#8000FF" stroke-width="2"/><text x="939.6" y="595.84" font-size="21" letter-spacing="1.2">2.3 K</text>
<line x1="762.1" y1="616.42" x2="814.5" y2="616.42" stroke="#800000" stroke-width="2"/><text x="819.8" y="624.42" font-size="21" letter-spacing="1.2">2.5 K</text>
<line x1="686.2" y1="811.10" x2="739.4" y2="811.10" stroke="#000000" stroke-width="2"/><text x="745" y="819.10" font-size="21.5" letter-spacing="1.05">T = 1.5 K</text>
<line x1="847.1" y1="811.10" x2="899.7" y2="811.10" stroke="#00FF00" stroke-width="2"/><text x="907" y="819.10" font-size="21.5" letter-spacing="1.05">T = 1.7 K</text>
<line x1="686.2" y1="839.89" x2="739.4" y2="839.89" stroke="#00FFFF" stroke-width="2"/><text x="745" y="847.89" font-size="21.5" letter-spacing="1.05">T = 1.9 K</text>
<line x1="847.1" y1="839.89" x2="899.7" y2="839.89" stroke="#808000" stroke-width="2"/><text x="907" y="847.89" font-size="21.5" letter-spacing="1.05">T = 2.2 K</text>
<line x1="686.2" y1="868.68" x2="739.4" y2="868.68" stroke="#800080" stroke-width="2"/><text x="745" y="876.68" font-size="21.5" letter-spacing="1.05">T = 2.4 K</text>
<line x1="847.1" y1="868.68" x2="899.7" y2="868.68" stroke="#800000" stroke-width="2"/><text x="907" y="876.68" font-size="21.5" letter-spacing="1.05">T = 2.6 K</text>
<line x1="686.2" y1="897.47" x2="739.4" y2="897.47" stroke="#FF8000" stroke-width="2"/><text x="745" y="905.47" font-size="21.5" letter-spacing="1.05">T = 2.8 K</text>
<line x1="847.1" y1="897.47" x2="899.7" y2="897.47" stroke="#8000FF" stroke-width="2"/><text x="907" y="905.47" font-size="21.5" letter-spacing="1.05">T = 3.0 K</text>
<line x1="686.2" y1="926.26" x2="739.4" y2="926.26" stroke="#FF0080" stroke-width="2"/><text x="745" y="934.26" font-size="21.5" letter-spacing="1.05">T = 3.2 K</text>
<line x1="847.1" y1="926.26" x2="899.7" y2="926.26" stroke="#808080" stroke-width="2"/><text x="907" y="934.26" font-size="21.5" letter-spacing="1.05">T = 3.4 K</text>
<line x1="686.2" y1="955.05" x2="739.4" y2="955.05" stroke="#000080" stroke-width="2"/><text x="745" y="963.05" font-size="21.5" letter-spacing="1.05">T = 3.6 K</text>
<line x1="847.1" y1="955.05" x2="899.7" y2="955.05" stroke="#FFFF00" stroke-width="2"/><text x="907" y="963.05" font-size="21.5" letter-spacing="1.05">T = 3.8 K</text>
<line x1="686.2" y1="983.84" x2="739.4" y2="983.84" stroke="#008080" stroke-width="2"/><text x="745" y="991.84" font-size="21.5" letter-spacing="1.05">T = 4.0 K</text>
<line x1="847.1" y1="983.84" x2="899.7" y2="983.84" stroke="#0000A0" stroke-width="2"/><text x="907" y="991.84" font-size="21.5" letter-spacing="1.05">T = 4.2 K</text>
<line x1="686.2" y1="1012.63" x2="739.4" y2="1012.63" stroke="#FF00FF" stroke-width="2"/><text x="745" y="1020.63" font-size="21.5" letter-spacing="1.05">T = 4.4 K</text>
<line x1="847.1" y1="1012.63" x2="899.7" y2="1012.63" stroke="#FF0000" stroke-width="2"/><text x="907" y="1020.63" font-size="21.5" letter-spacing="1.05">T = 4.6 K</text>
</svg>
</body></html>
